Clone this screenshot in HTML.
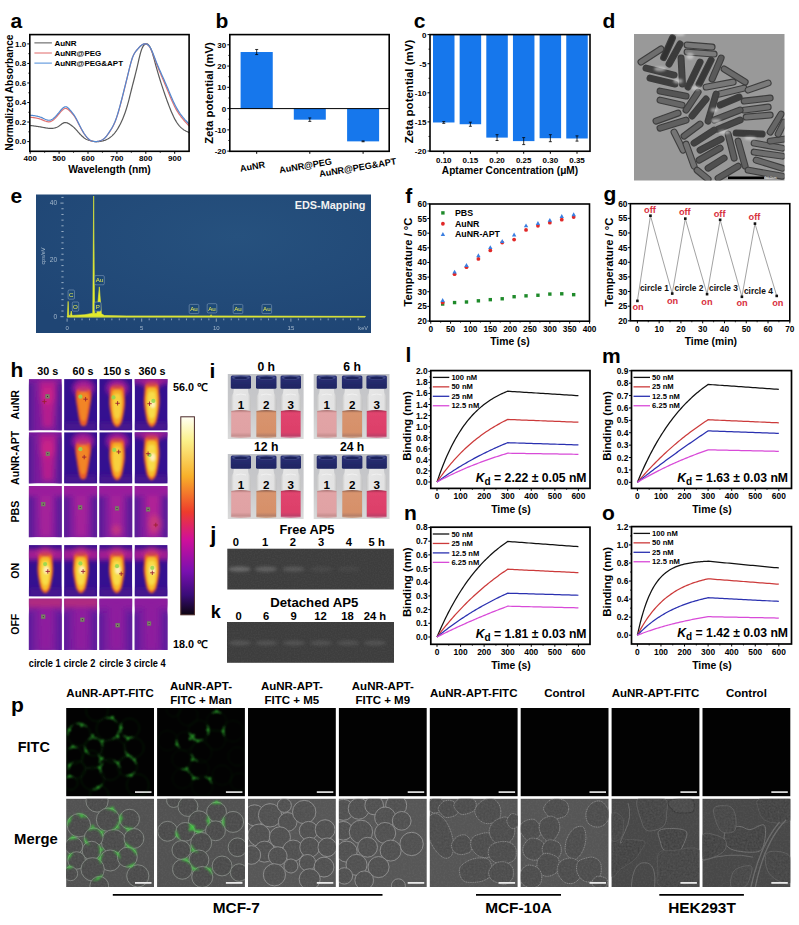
<!DOCTYPE html>
<html><head><meta charset="utf-8"><style>html,body{margin:0;padding:0;background:#fff;} svg{display:block;}</style></head>
<body><svg width="799" height="925" viewBox="0 0 799 925" font-family="&apos;Liberation Sans&apos;, sans-serif">
<rect width="799" height="925" fill="#fff"/>
<text x="10.50" y="28.20" font-size="21" font-weight="bold" text-anchor="start" fill="#000" >a</text>
<path d="M30.20,125.48 L30.78,125.55 L31.36,125.62 L31.93,125.69 L32.51,125.77 L33.09,125.84 L33.67,125.91 L34.25,125.99 L34.82,126.06 L35.40,126.14 L35.98,126.22 L36.56,126.30 L37.14,126.38 L37.71,126.47 L38.29,126.56 L38.87,126.65 L39.45,126.74 L40.03,126.83 L40.60,126.93 L41.18,127.04 L41.76,127.14 L42.34,127.25 L42.92,127.36 L43.49,127.47 L44.07,127.58 L44.65,127.69 L45.23,127.80 L45.81,127.90 L46.38,128.00 L46.96,128.09 L47.54,128.17 L48.12,128.24 L48.70,128.30 L49.27,128.35 L49.85,128.39 L50.43,128.41 L51.01,128.42 L51.59,128.40 L52.16,128.37 L52.74,128.32 L53.32,128.24 L53.90,128.15 L54.48,128.02 L55.05,127.87 L55.63,127.70 L56.21,127.49 L56.79,127.25 L57.37,126.98 L57.94,126.68 L58.52,126.34 L59.10,125.97 L59.68,125.56 L60.26,125.12 L60.83,124.68 L61.41,124.24 L61.99,123.82 L62.57,123.44 L63.15,123.11 L63.72,122.84 L64.30,122.65 L64.88,122.54 L65.46,122.53 L66.04,122.59 L66.61,122.72 L67.19,122.91 L67.77,123.15 L68.35,123.44 L68.93,123.77 L69.50,124.12 L70.08,124.50 L70.66,124.90 L71.24,125.31 L71.82,125.73 L72.39,126.18 L72.97,126.65 L73.55,127.15 L74.13,127.67 L74.71,128.22 L75.28,128.80 L75.86,129.41 L76.44,130.05 L77.02,130.70 L77.60,131.36 L78.17,132.02 L78.75,132.69 L79.33,133.34 L79.91,133.98 L80.49,134.60 L81.06,135.19 L81.64,135.77 L82.22,136.31 L82.80,136.83 L83.38,137.31 L83.95,137.77 L84.53,138.19 L85.11,138.57 L85.69,138.92 L86.27,139.23 L86.84,139.51 L87.42,139.76 L88.00,139.99 L88.58,140.19 L89.16,140.38 L89.73,140.54 L90.31,140.70 L90.89,140.84 L91.47,140.97 L92.05,141.09 L92.62,141.20 L93.20,141.29 L93.78,141.38 L94.36,141.45 L94.94,141.50 L95.51,141.55 L96.09,141.58 L96.67,141.60 L97.25,141.61 L97.83,141.60 L98.40,141.58 L98.98,141.55 L99.56,141.50 L100.14,141.43 L100.72,141.35 L101.29,141.26 L101.87,141.14 L102.45,141.01 L103.03,140.87 L103.61,140.70 L104.18,140.52 L104.76,140.32 L105.34,140.09 L105.92,139.85 L106.50,139.58 L107.07,139.30 L107.65,138.98 L108.23,138.65 L108.81,138.29 L109.39,137.91 L109.96,137.50 L110.54,137.06 L111.12,136.60 L111.70,136.10 L112.28,135.57 L112.85,135.01 L113.43,134.42 L114.01,133.78 L114.59,133.11 L115.17,132.39 L115.74,131.63 L116.32,130.83 L116.90,129.98 L117.48,129.09 L118.06,128.15 L118.63,127.16 L119.21,126.13 L119.79,125.05 L120.37,123.92 L120.95,122.74 L121.52,121.52 L122.10,120.24 L122.68,118.92 L123.26,117.53 L123.84,116.08 L124.41,114.56 L124.99,112.97 L125.57,111.30 L126.15,109.54 L126.73,107.69 L127.30,105.74 L127.88,103.69 L128.46,101.54 L129.04,99.30 L129.62,97.01 L130.19,94.68 L130.77,92.34 L131.35,90.01 L131.93,87.73 L132.51,85.47 L133.08,83.23 L133.66,80.99 L134.24,78.75 L134.82,76.49 L135.40,74.21 L135.97,71.88 L136.55,69.50 L137.13,67.05 L137.71,64.55 L138.29,62.01 L138.86,59.50 L139.44,57.07 L140.02,54.76 L140.60,52.64 L141.18,50.74 L141.75,49.11 L142.33,47.74 L142.91,46.61 L143.49,45.71 L144.07,45.01 L144.64,44.49 L145.22,44.15 L145.80,43.95 L146.38,43.88 L146.96,43.94 L147.53,44.15 L148.11,44.51 L148.69,45.04 L149.27,45.76 L149.85,46.68 L150.42,47.81 L151.00,49.16 L151.58,50.71 L152.16,52.43 L152.74,54.29 L153.31,56.27 L153.89,58.33 L154.47,60.44 L155.05,62.58 L155.63,64.72 L156.20,66.83 L156.78,68.90 L157.36,70.93 L157.94,72.91 L158.52,74.86 L159.09,76.78 L159.67,78.66 L160.25,80.51 L160.83,82.34 L161.41,84.14 L161.98,85.91 L162.56,87.66 L163.14,89.40 L163.72,91.11 L164.30,92.80 L164.87,94.47 L165.45,96.12 L166.03,97.75 L166.61,99.36 L167.19,100.95 L167.76,102.52 L168.34,104.07 L168.92,105.60 L169.50,107.10 L170.08,108.58 L170.65,110.02 L171.23,111.42 L171.81,112.78 L172.39,114.10 L172.97,115.37 L173.54,116.59 L174.12,117.75 L174.70,118.86 L175.28,119.91 L175.86,120.90 L176.43,121.85 L177.01,122.74 L177.59,123.58 L178.17,124.37 L178.75,125.11 L179.32,125.81 L179.90,126.46 L180.48,127.06 L181.06,127.62 L181.64,128.14 L182.21,128.63 L182.79,129.08 L183.37,129.50 L183.95,129.89 L184.53,130.26 L185.10,130.60 L185.68,130.93 L186.26,131.23 L186.84,131.52 L187.42,131.81 L187.99,132.08 L188.57,132.35 L189.15,132.61" stroke="#5a5a5a" stroke-width="1.2" fill="none" />
<path d="M30.20,117.17 L30.78,117.25 L31.36,117.32 L31.93,117.39 L32.51,117.47 L33.09,117.54 L33.67,117.63 L34.25,117.71 L34.82,117.81 L35.40,117.91 L35.98,118.01 L36.56,118.12 L37.14,118.25 L37.71,118.38 L38.29,118.52 L38.87,118.67 L39.45,118.83 L40.03,119.01 L40.60,119.20 L41.18,119.40 L41.76,119.62 L42.34,119.85 L42.92,120.09 L43.49,120.34 L44.07,120.58 L44.65,120.82 L45.23,121.04 L45.81,121.25 L46.38,121.43 L46.96,121.58 L47.54,121.70 L48.12,121.78 L48.70,121.81 L49.27,121.79 L49.85,121.71 L50.43,121.57 L51.01,121.36 L51.59,121.09 L52.16,120.76 L52.74,120.37 L53.32,119.94 L53.90,119.45 L54.48,118.93 L55.05,118.36 L55.63,117.77 L56.21,117.14 L56.79,116.50 L57.37,115.83 L57.94,115.15 L58.52,114.45 L59.10,113.76 L59.68,113.06 L60.26,112.37 L60.83,111.70 L61.41,111.06 L61.99,110.47 L62.57,109.93 L63.15,109.45 L63.72,109.05 L64.30,108.74 L64.88,108.52 L65.46,108.41 L66.04,108.43 L66.61,108.57 L67.19,108.83 L67.77,109.21 L68.35,109.66 L68.93,110.18 L69.50,110.73 L70.08,111.31 L70.66,111.90 L71.24,112.49 L71.82,113.09 L72.39,113.73 L72.97,114.40 L73.55,115.12 L74.13,115.89 L74.71,116.73 L75.28,117.64 L75.86,118.62 L76.44,119.66 L77.02,120.75 L77.60,121.88 L78.17,123.02 L78.75,124.17 L79.33,125.32 L79.91,126.46 L80.49,127.56 L81.06,128.64 L81.64,129.68 L82.22,130.69 L82.80,131.66 L83.38,132.59 L83.95,133.49 L84.53,134.34 L85.11,135.15 L85.69,135.92 L86.27,136.64 L86.84,137.32 L87.42,137.94 L88.00,138.52 L88.58,139.05 L89.16,139.52 L89.73,139.94 L90.31,140.31 L90.89,140.63 L91.47,140.89 L92.05,141.11 L92.62,141.28 L93.20,141.41 L93.78,141.51 L94.36,141.57 L94.94,141.60 L95.51,141.60 L96.09,141.58 L96.67,141.53 L97.25,141.45 L97.83,141.35 L98.40,141.23 L98.98,141.08 L99.56,140.91 L100.14,140.72 L100.72,140.50 L101.29,140.26 L101.87,139.98 L102.45,139.66 L103.03,139.31 L103.61,138.91 L104.18,138.46 L104.76,137.96 L105.34,137.41 L105.92,136.79 L106.50,136.13 L107.07,135.42 L107.65,134.67 L108.23,133.88 L108.81,133.06 L109.39,132.21 L109.96,131.34 L110.54,130.45 L111.12,129.54 L111.70,128.59 L112.28,127.59 L112.85,126.54 L113.43,125.42 L114.01,124.23 L114.59,122.95 L115.17,121.58 L115.74,120.11 L116.32,118.52 L116.90,116.83 L117.48,115.04 L118.06,113.17 L118.63,111.21 L119.21,109.19 L119.79,107.09 L120.37,104.95 L120.95,102.75 L121.52,100.52 L122.10,98.26 L122.68,95.97 L123.26,93.66 L123.84,91.33 L124.41,88.99 L124.99,86.63 L125.57,84.26 L126.15,81.88 L126.73,79.49 L127.30,77.10 L127.88,74.72 L128.46,72.33 L129.04,69.96 L129.62,67.62 L130.19,65.35 L130.77,63.18 L131.35,61.14 L131.93,59.26 L132.51,57.58 L133.08,56.11 L133.66,54.84 L134.24,53.74 L134.82,52.78 L135.40,51.93 L135.97,51.16 L136.55,50.45 L137.13,49.76 L137.71,49.08 L138.29,48.40 L138.86,47.75 L139.44,47.11 L140.02,46.52 L140.60,45.96 L141.18,45.46 L141.75,45.03 L142.33,44.66 L142.91,44.35 L143.49,44.12 L144.07,43.95 L144.64,43.86 L145.22,43.85 L145.80,43.93 L146.38,44.09 L146.96,44.35 L147.53,44.71 L148.11,45.19 L148.69,45.77 L149.27,46.48 L149.85,47.32 L150.42,48.30 L151.00,49.41 L151.58,50.64 L152.16,51.98 L152.74,53.40 L153.31,54.90 L153.89,56.44 L154.47,58.02 L155.05,59.60 L155.63,61.19 L156.20,62.75 L156.78,64.28 L157.36,65.79 L157.94,67.27 L158.52,68.72 L159.09,70.16 L159.67,71.58 L160.25,72.98 L160.83,74.37 L161.41,75.75 L161.98,77.12 L162.56,78.48 L163.14,79.84 L163.72,81.20 L164.30,82.56 L164.87,83.92 L165.45,85.28 L166.03,86.65 L166.61,88.02 L167.19,89.40 L167.76,90.80 L168.34,92.20 L168.92,93.60 L169.50,95.01 L170.08,96.41 L170.65,97.80 L171.23,99.17 L171.81,100.52 L172.39,101.84 L172.97,103.12 L173.54,104.36 L174.12,105.55 L174.70,106.70 L175.28,107.80 L175.86,108.86 L176.43,109.87 L177.01,110.85 L177.59,111.78 L178.17,112.69 L178.75,113.56 L179.32,114.40 L179.90,115.22 L180.48,116.01 L181.06,116.78 L181.64,117.53 L182.21,118.25 L182.79,118.96 L183.37,119.65 L183.95,120.33 L184.53,120.99 L185.10,121.64 L185.68,122.28 L186.26,122.91 L186.84,123.53 L187.42,124.14 L187.99,124.75 L188.57,125.36 L189.15,125.97" stroke="#e07070" stroke-width="1.2" fill="none" />
<path d="M30.20,115.22 L30.78,115.28 L31.36,115.34 L31.93,115.40 L32.51,115.47 L33.09,115.54 L33.67,115.61 L34.25,115.69 L34.82,115.77 L35.40,115.87 L35.98,115.97 L36.56,116.08 L37.14,116.20 L37.71,116.33 L38.29,116.48 L38.87,116.64 L39.45,116.81 L40.03,117.00 L40.60,117.20 L41.18,117.42 L41.76,117.66 L42.34,117.92 L42.92,118.19 L43.49,118.47 L44.07,118.74 L44.65,119.02 L45.23,119.28 L45.81,119.52 L46.38,119.74 L46.96,119.93 L47.54,120.08 L48.12,120.20 L48.70,120.26 L49.27,120.27 L49.85,120.22 L50.43,120.11 L51.01,119.92 L51.59,119.67 L52.16,119.35 L52.74,118.97 L53.32,118.54 L53.90,118.07 L54.48,117.54 L55.05,116.98 L55.63,116.38 L56.21,115.75 L56.79,115.09 L57.37,114.41 L57.94,113.72 L58.52,113.01 L59.10,112.29 L59.68,111.57 L60.26,110.86 L60.83,110.17 L61.41,109.50 L61.99,108.89 L62.57,108.32 L63.15,107.83 L63.72,107.41 L64.30,107.08 L64.88,106.86 L65.46,106.75 L66.04,106.76 L66.61,106.92 L67.19,107.21 L67.77,107.63 L68.35,108.15 L68.93,108.74 L69.50,109.38 L70.08,110.04 L70.66,110.71 L71.24,111.38 L71.82,112.07 L72.39,112.78 L72.97,113.52 L73.55,114.31 L74.13,115.14 L74.71,116.02 L75.28,116.98 L75.86,117.99 L76.44,119.06 L77.02,120.17 L77.60,121.31 L78.17,122.47 L78.75,123.64 L79.33,124.81 L79.91,125.97 L80.49,127.10 L81.06,128.21 L81.64,129.28 L82.22,130.33 L82.80,131.33 L83.38,132.30 L83.95,133.23 L84.53,134.12 L85.11,134.96 L85.69,135.75 L86.27,136.48 L86.84,137.17 L87.42,137.81 L88.00,138.39 L88.58,138.93 L89.16,139.41 L89.73,139.84 L90.31,140.22 L90.89,140.54 L91.47,140.82 L92.05,141.05 L92.62,141.24 L93.20,141.38 L93.78,141.49 L94.36,141.56 L94.94,141.60 L95.51,141.61 L96.09,141.58 L96.67,141.53 L97.25,141.46 L97.83,141.35 L98.40,141.23 L98.98,141.08 L99.56,140.91 L100.14,140.72 L100.72,140.51 L101.29,140.27 L101.87,140.00 L102.45,139.69 L103.03,139.34 L103.61,138.94 L104.18,138.49 L104.76,137.97 L105.34,137.40 L105.92,136.75 L106.50,136.06 L107.07,135.31 L107.65,134.52 L108.23,133.69 L108.81,132.83 L109.39,131.95 L109.96,131.05 L110.54,130.14 L111.12,129.21 L111.70,128.24 L112.28,127.24 L112.85,126.18 L113.43,125.06 L114.01,123.86 L114.59,122.58 L115.17,121.20 L115.74,119.72 L116.32,118.12 L116.90,116.41 L117.48,114.60 L118.06,112.71 L118.63,110.73 L119.21,108.69 L119.79,106.59 L120.37,104.44 L120.95,102.24 L121.52,100.02 L122.10,97.78 L122.68,95.53 L123.26,93.26 L123.84,90.97 L124.41,88.68 L124.99,86.37 L125.57,84.05 L126.15,81.72 L126.73,79.39 L127.30,77.04 L127.88,74.69 L128.46,72.33 L129.04,69.97 L129.62,67.64 L130.19,65.37 L130.77,63.20 L131.35,61.15 L131.93,59.27 L132.51,57.58 L133.08,56.11 L133.66,54.83 L134.24,53.73 L134.82,52.77 L135.40,51.92 L135.97,51.16 L136.55,50.45 L137.13,49.76 L137.71,49.08 L138.29,48.40 L138.86,47.74 L139.44,47.11 L140.02,46.51 L140.60,45.96 L141.18,45.46 L141.75,45.03 L142.33,44.66 L142.91,44.36 L143.49,44.13 L144.07,43.96 L144.64,43.86 L145.22,43.83 L145.80,43.88 L146.38,44.01 L146.96,44.23 L147.53,44.56 L148.11,44.99 L148.69,45.53 L149.27,46.19 L149.85,46.98 L150.42,47.91 L151.00,48.97 L151.58,50.15 L152.16,51.43 L152.74,52.80 L153.31,54.24 L153.89,55.72 L154.47,57.23 L155.05,58.75 L155.63,60.25 L156.20,61.73 L156.78,63.18 L157.36,64.59 L157.94,65.97 L158.52,67.33 L159.09,68.66 L159.67,69.98 L160.25,71.29 L160.83,72.59 L161.41,73.88 L161.98,75.16 L162.56,76.45 L163.14,77.75 L163.72,79.04 L164.30,80.35 L164.87,81.65 L165.45,82.97 L166.03,84.30 L166.61,85.64 L167.19,86.99 L167.76,88.35 L168.34,89.73 L168.92,91.12 L169.50,92.51 L170.08,93.90 L170.65,95.28 L171.23,96.65 L171.81,98.01 L172.39,99.33 L172.97,100.64 L173.54,101.90 L174.12,103.13 L174.70,104.31 L175.28,105.46 L175.86,106.56 L176.43,107.63 L177.01,108.66 L177.59,109.65 L178.17,110.60 L178.75,111.52 L179.32,112.41 L179.90,113.27 L180.48,114.09 L181.06,114.89 L181.64,115.65 L182.21,116.39 L182.79,117.11 L183.37,117.81 L183.95,118.48 L184.53,119.14 L185.10,119.79 L185.68,120.42 L186.26,121.03 L186.84,121.64 L187.42,122.24 L187.99,122.84 L188.57,123.43 L189.15,124.01" stroke="#5088d0" stroke-width="1.2" fill="none" />
<rect x="29.80" y="34.60" width="159.30" height="116.70" fill="none" stroke="#000" stroke-width="1.6"/>
<line x1="30.20" y1="151.30" x2="30.20" y2="153.80" stroke="#000" stroke-width="1" />
<text x="30.20" y="161.00" font-size="8.0" font-weight="bold" text-anchor="middle" fill="#000" >400</text>
<line x1="59.10" y1="151.30" x2="59.10" y2="153.80" stroke="#000" stroke-width="1" />
<text x="59.10" y="161.00" font-size="8.0" font-weight="bold" text-anchor="middle" fill="#000" >500</text>
<line x1="88.00" y1="151.30" x2="88.00" y2="153.80" stroke="#000" stroke-width="1" />
<text x="88.00" y="161.00" font-size="8.0" font-weight="bold" text-anchor="middle" fill="#000" >600</text>
<line x1="116.90" y1="151.30" x2="116.90" y2="153.80" stroke="#000" stroke-width="1" />
<text x="116.90" y="161.00" font-size="8.0" font-weight="bold" text-anchor="middle" fill="#000" >700</text>
<line x1="145.80" y1="151.30" x2="145.80" y2="153.80" stroke="#000" stroke-width="1" />
<text x="145.80" y="161.00" font-size="8.0" font-weight="bold" text-anchor="middle" fill="#000" >800</text>
<line x1="174.70" y1="151.30" x2="174.70" y2="153.80" stroke="#000" stroke-width="1" />
<text x="174.70" y="161.00" font-size="8.0" font-weight="bold" text-anchor="middle" fill="#000" >900</text>
<line x1="44.65" y1="151.30" x2="44.65" y2="152.80" stroke="#000" stroke-width="0.8" />
<line x1="73.55" y1="151.30" x2="73.55" y2="152.80" stroke="#000" stroke-width="0.8" />
<line x1="102.45" y1="151.30" x2="102.45" y2="152.80" stroke="#000" stroke-width="0.8" />
<line x1="131.35" y1="151.30" x2="131.35" y2="152.80" stroke="#000" stroke-width="0.8" />
<line x1="160.25" y1="151.30" x2="160.25" y2="152.80" stroke="#000" stroke-width="0.8" />
<line x1="27.30" y1="141.60" x2="29.80" y2="141.60" stroke="#000" stroke-width="1" />
<text x="26.20" y="144.48" font-size="8.0" font-weight="bold" text-anchor="end" fill="#000" >0.0</text>
<line x1="27.30" y1="122.06" x2="29.80" y2="122.06" stroke="#000" stroke-width="1" />
<text x="26.20" y="124.94" font-size="8.0" font-weight="bold" text-anchor="end" fill="#000" >0.2</text>
<line x1="27.30" y1="102.52" x2="29.80" y2="102.52" stroke="#000" stroke-width="1" />
<text x="26.20" y="105.40" font-size="8.0" font-weight="bold" text-anchor="end" fill="#000" >0.4</text>
<line x1="27.30" y1="82.98" x2="29.80" y2="82.98" stroke="#000" stroke-width="1" />
<text x="26.20" y="85.86" font-size="8.0" font-weight="bold" text-anchor="end" fill="#000" >0.6</text>
<line x1="27.30" y1="63.44" x2="29.80" y2="63.44" stroke="#000" stroke-width="1" />
<text x="26.20" y="66.32" font-size="8.0" font-weight="bold" text-anchor="end" fill="#000" >0.8</text>
<line x1="27.30" y1="43.90" x2="29.80" y2="43.90" stroke="#000" stroke-width="1" />
<text x="26.20" y="46.78" font-size="8.0" font-weight="bold" text-anchor="end" fill="#000" >1.0</text>
<line x1="28.30" y1="131.83" x2="29.80" y2="131.83" stroke="#000" stroke-width="0.8" />
<line x1="28.30" y1="112.29" x2="29.80" y2="112.29" stroke="#000" stroke-width="0.8" />
<line x1="28.30" y1="92.75" x2="29.80" y2="92.75" stroke="#000" stroke-width="0.8" />
<line x1="28.30" y1="73.21" x2="29.80" y2="73.21" stroke="#000" stroke-width="0.8" />
<line x1="28.30" y1="53.67" x2="29.80" y2="53.67" stroke="#000" stroke-width="0.8" />
<text x="109.50" y="172.60" font-size="10.3" font-weight="bold" text-anchor="middle" fill="#000" >Wavelength (nm)</text>
<text x="13.00" y="92.60" font-size="10.2" font-weight="bold" text-anchor="middle" transform="rotate(-90 13.00 92.60)">Normalized Absorbance</text>
<line x1="34.40" y1="42.90" x2="51.90" y2="42.90" stroke="#555" stroke-width="1" />
<text x="54.40" y="45.70" font-size="8.0" font-weight="bold" text-anchor="start" fill="#000" >AuNR</text>
<line x1="34.40" y1="53.00" x2="51.90" y2="53.00" stroke="#e06868" stroke-width="1" />
<text x="54.40" y="55.80" font-size="8.0" font-weight="bold" text-anchor="start" fill="#000" >AuNR@PEG</text>
<line x1="34.40" y1="63.10" x2="51.90" y2="63.10" stroke="#4a8ad8" stroke-width="1" />
<text x="54.40" y="65.90" font-size="8.0" font-weight="bold" text-anchor="start" fill="#000" >AuNR@PEG&amp;APT</text>
<text x="215.50" y="28.20" font-size="21" font-weight="bold" text-anchor="start" fill="#000" >b</text>
<rect x="240.60" y="52.02" width="32.15" height="56.58" fill="#1677ec" />
<line x1="256.68" y1="54.57" x2="256.68" y2="49.47" stroke="#000" stroke-width="0.8" />
<line x1="255.18" y1="49.47" x2="258.18" y2="49.47" stroke="#000" stroke-width="0.8" />
<line x1="255.18" y1="54.57" x2="258.18" y2="54.57" stroke="#000" stroke-width="0.8" />
<rect x="293.80" y="108.60" width="32.00" height="11.06" fill="#1677ec" />
<line x1="309.80" y1="121.36" x2="309.80" y2="117.96" stroke="#000" stroke-width="0.8" />
<line x1="308.30" y1="117.96" x2="311.30" y2="117.96" stroke="#000" stroke-width="0.8" />
<line x1="308.30" y1="121.36" x2="311.30" y2="121.36" stroke="#000" stroke-width="0.8" />
<rect x="347.10" y="108.60" width="32.00" height="32.76" fill="#1677ec" />
<line x1="363.10" y1="141.78" x2="363.10" y2="140.93" stroke="#000" stroke-width="0.8" />
<line x1="361.60" y1="140.93" x2="364.60" y2="140.93" stroke="#000" stroke-width="0.8" />
<line x1="361.60" y1="141.78" x2="364.60" y2="141.78" stroke="#000" stroke-width="0.8" />
<line x1="229.80" y1="108.60" x2="389.20" y2="108.60" stroke="#000" stroke-width="1" />
<rect x="229.80" y="34.60" width="159.40" height="116.70" fill="none" stroke="#000" stroke-width="1.6"/>
<line x1="227.30" y1="44.79" x2="229.80" y2="44.79" stroke="#000" stroke-width="1" />
<text x="226.20" y="47.69" font-size="8.0" font-weight="bold" text-anchor="end" fill="#000" >30</text>
<line x1="227.30" y1="66.06" x2="229.80" y2="66.06" stroke="#000" stroke-width="1" />
<text x="226.20" y="68.96" font-size="8.0" font-weight="bold" text-anchor="end" fill="#000" >20</text>
<line x1="227.30" y1="87.33" x2="229.80" y2="87.33" stroke="#000" stroke-width="1" />
<text x="226.20" y="90.23" font-size="8.0" font-weight="bold" text-anchor="end" fill="#000" >10</text>
<line x1="227.30" y1="108.60" x2="229.80" y2="108.60" stroke="#000" stroke-width="1" />
<text x="226.20" y="111.50" font-size="8.0" font-weight="bold" text-anchor="end" fill="#000" >0</text>
<line x1="227.30" y1="129.87" x2="229.80" y2="129.87" stroke="#000" stroke-width="1" />
<text x="226.20" y="132.77" font-size="8.0" font-weight="bold" text-anchor="end" fill="#000" >-10</text>
<line x1="227.30" y1="151.14" x2="229.80" y2="151.14" stroke="#000" stroke-width="1" />
<text x="226.20" y="154.04" font-size="8.0" font-weight="bold" text-anchor="end" fill="#000" >-20</text>
<line x1="228.30" y1="55.42" x2="229.80" y2="55.42" stroke="#000" stroke-width="0.8" />
<line x1="228.30" y1="76.69" x2="229.80" y2="76.69" stroke="#000" stroke-width="0.8" />
<line x1="228.30" y1="97.97" x2="229.80" y2="97.97" stroke="#000" stroke-width="0.8" />
<line x1="228.30" y1="119.23" x2="229.80" y2="119.23" stroke="#000" stroke-width="0.8" />
<line x1="228.30" y1="140.50" x2="229.80" y2="140.50" stroke="#000" stroke-width="0.8" />
<line x1="256.70" y1="151.30" x2="256.70" y2="153.80" stroke="#000" stroke-width="1" />
<line x1="309.80" y1="151.30" x2="309.80" y2="153.80" stroke="#000" stroke-width="1" />
<line x1="363.10" y1="151.30" x2="363.10" y2="153.80" stroke="#000" stroke-width="1" />
<text x="212.50" y="93.00" font-size="11.3" font-weight="bold" text-anchor="middle" transform="rotate(-90 212.50 93.00)">Zeta potential (mV)</text>
<text x="253" y="169.6" font-size="9.1" font-weight="bold" text-anchor="middle" transform="rotate(-9.5 253 169.6)">AuNR</text>
<text x="306" y="168.8" font-size="9.1" font-weight="bold" text-anchor="middle" transform="rotate(-9.5 306 168.8)">AuNR@PEG</text>
<text x="358.2" y="170.6" font-size="9.1" font-weight="bold" text-anchor="middle" transform="rotate(-9.5 358.2 170.6)">AuNR@PEG&amp;APT</text>
<text x="413.80" y="28.20" font-size="21" font-weight="bold" text-anchor="start" fill="#000" >c</text>
<rect x="433.00" y="34.60" width="21.50" height="87.88" fill="#1677ec" />
<line x1="443.75" y1="123.36" x2="443.75" y2="121.61" stroke="#000" stroke-width="0.8" />
<line x1="442.25" y1="121.61" x2="445.25" y2="121.61" stroke="#000" stroke-width="0.8" />
<line x1="442.25" y1="123.36" x2="445.25" y2="123.36" stroke="#000" stroke-width="0.8" />
<rect x="459.65" y="34.60" width="21.50" height="89.63" fill="#1677ec" />
<line x1="470.40" y1="126.27" x2="470.40" y2="122.19" stroke="#000" stroke-width="0.8" />
<line x1="468.90" y1="122.19" x2="471.90" y2="122.19" stroke="#000" stroke-width="0.8" />
<line x1="468.90" y1="126.27" x2="471.90" y2="126.27" stroke="#000" stroke-width="0.8" />
<rect x="486.30" y="34.60" width="21.50" height="103.01" fill="#1677ec" />
<line x1="497.05" y1="140.52" x2="497.05" y2="134.70" stroke="#000" stroke-width="0.8" />
<line x1="495.55" y1="134.70" x2="498.55" y2="134.70" stroke="#000" stroke-width="0.8" />
<line x1="495.55" y1="140.52" x2="498.55" y2="140.52" stroke="#000" stroke-width="0.8" />
<rect x="512.95" y="34.60" width="21.50" height="106.51" fill="#1677ec" />
<line x1="523.70" y1="144.60" x2="523.70" y2="137.61" stroke="#000" stroke-width="0.8" />
<line x1="522.20" y1="137.61" x2="525.20" y2="137.61" stroke="#000" stroke-width="0.8" />
<line x1="522.20" y1="144.60" x2="525.20" y2="144.60" stroke="#000" stroke-width="0.8" />
<rect x="539.60" y="34.60" width="21.50" height="103.60" fill="#1677ec" />
<line x1="550.35" y1="141.69" x2="550.35" y2="134.70" stroke="#000" stroke-width="0.8" />
<line x1="548.85" y1="134.70" x2="551.85" y2="134.70" stroke="#000" stroke-width="0.8" />
<line x1="548.85" y1="141.69" x2="551.85" y2="141.69" stroke="#000" stroke-width="0.8" />
<rect x="566.25" y="34.60" width="21.50" height="103.89" fill="#1677ec" />
<line x1="577.00" y1="141.11" x2="577.00" y2="135.87" stroke="#000" stroke-width="0.8" />
<line x1="575.50" y1="135.87" x2="578.50" y2="135.87" stroke="#000" stroke-width="0.8" />
<line x1="575.50" y1="141.11" x2="578.50" y2="141.11" stroke="#000" stroke-width="0.8" />
<rect x="430.00" y="34.60" width="160.00" height="116.65" fill="none" stroke="#000" stroke-width="1.6"/>
<line x1="427.50" y1="34.60" x2="430.00" y2="34.60" stroke="#000" stroke-width="1" />
<text x="426.40" y="37.50" font-size="8.0" font-weight="bold" text-anchor="end" fill="#000" >0</text>
<line x1="427.50" y1="63.70" x2="430.00" y2="63.70" stroke="#000" stroke-width="1" />
<text x="426.40" y="66.60" font-size="8.0" font-weight="bold" text-anchor="end" fill="#000" >-5</text>
<line x1="427.50" y1="92.80" x2="430.00" y2="92.80" stroke="#000" stroke-width="1" />
<text x="426.40" y="95.70" font-size="8.0" font-weight="bold" text-anchor="end" fill="#000" >-10</text>
<line x1="427.50" y1="121.90" x2="430.00" y2="121.90" stroke="#000" stroke-width="1" />
<text x="426.40" y="124.80" font-size="8.0" font-weight="bold" text-anchor="end" fill="#000" >-15</text>
<line x1="427.50" y1="151.00" x2="430.00" y2="151.00" stroke="#000" stroke-width="1" />
<text x="426.40" y="153.90" font-size="8.0" font-weight="bold" text-anchor="end" fill="#000" >-20</text>
<line x1="428.50" y1="49.15" x2="430.00" y2="49.15" stroke="#000" stroke-width="0.8" />
<line x1="428.50" y1="78.25" x2="430.00" y2="78.25" stroke="#000" stroke-width="0.8" />
<line x1="428.50" y1="107.35" x2="430.00" y2="107.35" stroke="#000" stroke-width="0.8" />
<line x1="428.50" y1="136.45" x2="430.00" y2="136.45" stroke="#000" stroke-width="0.8" />
<line x1="443.75" y1="151.25" x2="443.75" y2="153.75" stroke="#000" stroke-width="1" />
<text x="443.75" y="162.60" font-size="8.0" font-weight="bold" text-anchor="middle" fill="#000" >0.10</text>
<line x1="470.40" y1="151.25" x2="470.40" y2="153.75" stroke="#000" stroke-width="1" />
<text x="470.40" y="162.60" font-size="8.0" font-weight="bold" text-anchor="middle" fill="#000" >0.15</text>
<line x1="497.05" y1="151.25" x2="497.05" y2="153.75" stroke="#000" stroke-width="1" />
<text x="497.05" y="162.60" font-size="8.0" font-weight="bold" text-anchor="middle" fill="#000" >0.20</text>
<line x1="523.70" y1="151.25" x2="523.70" y2="153.75" stroke="#000" stroke-width="1" />
<text x="523.70" y="162.60" font-size="8.0" font-weight="bold" text-anchor="middle" fill="#000" >0.25</text>
<line x1="550.35" y1="151.25" x2="550.35" y2="153.75" stroke="#000" stroke-width="1" />
<text x="550.35" y="162.60" font-size="8.0" font-weight="bold" text-anchor="middle" fill="#000" >0.30</text>
<line x1="577.00" y1="151.25" x2="577.00" y2="153.75" stroke="#000" stroke-width="1" />
<text x="577.00" y="162.60" font-size="8.0" font-weight="bold" text-anchor="middle" fill="#000" >0.35</text>
<text x="510.00" y="174.00" font-size="10.1" font-weight="bold" text-anchor="middle" fill="#000" >Aptamer Concentration (μM)</text>
<text x="413.20" y="91.50" font-size="11.5" font-weight="bold" text-anchor="middle" transform="rotate(-90 413.20 91.50)">Zeta potential (mV)</text>
<text x="602.50" y="28.20" font-size="21" font-weight="bold" text-anchor="start" fill="#000" >d</text>
<defs><clipPath id="clipd"><rect x="634" y="34" width="150.5" height="146.5"/></clipPath><linearGradient id="rodg" x1="0" y1="0" x2="1" y2="0"><stop offset="0" stop-color="#2a2a2a"/><stop offset="0.5" stop-color="#6a6a6a"/><stop offset="1" stop-color="#2a2a2a"/></linearGradient><filter id="blur03"><feGaussianBlur stdDeviation="0.55"/></filter></defs>
<rect x="634.00" y="34.00" width="150.50" height="146.50" fill="#999999" />
<g clip-path="url(#clipd)" filter="url(#blur03)">
<line x1="641.01" y1="62.04" x2="661.04" y2="49.02" stroke="#3e3e3e" stroke-width="7.0" stroke-linecap="round"/>
<line x1="641.01" y1="62.04" x2="661.04" y2="49.02" stroke="#6e6e6e" stroke-width="4.8" stroke-linecap="round"/>
<line x1="672.45" y1="38.01" x2="663.64" y2="57.63" stroke="#3e3e3e" stroke-width="7.0" stroke-linecap="round"/>
<line x1="672.45" y1="38.01" x2="663.64" y2="57.63" stroke="#333" stroke-width="4.8" stroke-linecap="round"/>
<line x1="669.05" y1="64.04" x2="680.06" y2="44.02" stroke="#3e3e3e" stroke-width="7.0" stroke-linecap="round"/>
<line x1="669.05" y1="64.04" x2="680.06" y2="44.02" stroke="#3a3a3a" stroke-width="4.8" stroke-linecap="round"/>
<line x1="681.06" y1="58.03" x2="682.46" y2="84.06" stroke="#3e3e3e" stroke-width="7.0" stroke-linecap="round"/>
<line x1="681.06" y1="58.03" x2="682.46" y2="84.06" stroke="#444" stroke-width="4.8" stroke-linecap="round"/>
<line x1="687.07" y1="45.02" x2="712.10" y2="47.02" stroke="#3e3e3e" stroke-width="7.0" stroke-linecap="round"/>
<line x1="687.07" y1="45.02" x2="712.10" y2="47.02" stroke="#787878" stroke-width="4.8" stroke-linecap="round"/>
<line x1="687.07" y1="52.03" x2="714.10" y2="54.03" stroke="#3e3e3e" stroke-width="7.0" stroke-linecap="round"/>
<line x1="687.07" y1="52.03" x2="714.10" y2="54.03" stroke="#7a7a7a" stroke-width="4.8" stroke-linecap="round"/>
<line x1="646.02" y1="68.05" x2="674.05" y2="75.05" stroke="#3e3e3e" stroke-width="7.0" stroke-linecap="round"/>
<line x1="646.02" y1="68.05" x2="674.05" y2="75.05" stroke="#404040" stroke-width="4.8" stroke-linecap="round"/>
<line x1="650.02" y1="78.06" x2="675.05" y2="84.06" stroke="#3e3e3e" stroke-width="7.0" stroke-linecap="round"/>
<line x1="650.02" y1="78.06" x2="675.05" y2="84.06" stroke="#3e3e3e" stroke-width="4.8" stroke-linecap="round"/>
<line x1="688.07" y1="87.07" x2="700.08" y2="62.04" stroke="#3e3e3e" stroke-width="7.0" stroke-linecap="round"/>
<line x1="688.07" y1="87.07" x2="700.08" y2="62.04" stroke="#3a3a3a" stroke-width="4.8" stroke-linecap="round"/>
<line x1="699.08" y1="84.06" x2="711.10" y2="60.04" stroke="#3e3e3e" stroke-width="7.0" stroke-linecap="round"/>
<line x1="699.08" y1="84.06" x2="711.10" y2="60.04" stroke="#383838" stroke-width="4.8" stroke-linecap="round"/>
<line x1="712.10" y1="79.06" x2="721.11" y2="58.03" stroke="#3e3e3e" stroke-width="7.0" stroke-linecap="round"/>
<line x1="712.10" y1="79.06" x2="721.11" y2="58.03" stroke="#5a5a5a" stroke-width="4.8" stroke-linecap="round"/>
<line x1="724.11" y1="69.05" x2="745.14" y2="82.06" stroke="#3e3e3e" stroke-width="7.0" stroke-linecap="round"/>
<line x1="724.11" y1="69.05" x2="745.14" y2="82.06" stroke="#6a6a6a" stroke-width="4.8" stroke-linecap="round"/>
<line x1="660.04" y1="91.07" x2="686.07" y2="96.08" stroke="#3e3e3e" stroke-width="7.0" stroke-linecap="round"/>
<line x1="660.04" y1="91.07" x2="686.07" y2="96.08" stroke="#555" stroke-width="4.8" stroke-linecap="round"/>
<line x1="660.04" y1="100.08" x2="682.06" y2="105.09" stroke="#3e3e3e" stroke-width="7.0" stroke-linecap="round"/>
<line x1="660.04" y1="100.08" x2="682.06" y2="105.09" stroke="#666" stroke-width="4.8" stroke-linecap="round"/>
<line x1="706.09" y1="87.07" x2="733.12" y2="82.06" stroke="#3e3e3e" stroke-width="7.0" stroke-linecap="round"/>
<line x1="706.09" y1="87.07" x2="733.12" y2="82.06" stroke="#777" stroke-width="4.8" stroke-linecap="round"/>
<line x1="719.11" y1="94.08" x2="744.14" y2="88.07" stroke="#3e3e3e" stroke-width="7.0" stroke-linecap="round"/>
<line x1="719.11" y1="94.08" x2="744.14" y2="88.07" stroke="#777" stroke-width="4.8" stroke-linecap="round"/>
<line x1="748.14" y1="90.07" x2="768.17" y2="83.06" stroke="#3e3e3e" stroke-width="7.0" stroke-linecap="round"/>
<line x1="748.14" y1="90.07" x2="768.17" y2="83.06" stroke="#7a7a7a" stroke-width="4.8" stroke-linecap="round"/>
<line x1="686.07" y1="110.10" x2="698.08" y2="92.07" stroke="#3e3e3e" stroke-width="7.0" stroke-linecap="round"/>
<line x1="686.07" y1="110.10" x2="698.08" y2="92.07" stroke="#5a5a5a" stroke-width="4.8" stroke-linecap="round"/>
<line x1="692.07" y1="116.10" x2="706.09" y2="99.08" stroke="#3e3e3e" stroke-width="7.0" stroke-linecap="round"/>
<line x1="692.07" y1="116.10" x2="706.09" y2="99.08" stroke="#404040" stroke-width="4.8" stroke-linecap="round"/>
<line x1="708.09" y1="121.11" x2="716.10" y2="94.08" stroke="#3e3e3e" stroke-width="7.0" stroke-linecap="round"/>
<line x1="708.09" y1="121.11" x2="716.10" y2="94.08" stroke="#444" stroke-width="4.8" stroke-linecap="round"/>
<line x1="720.11" y1="105.09" x2="739.13" y2="97.08" stroke="#3e3e3e" stroke-width="7.0" stroke-linecap="round"/>
<line x1="720.11" y1="105.09" x2="739.13" y2="97.08" stroke="#3c3c3c" stroke-width="4.8" stroke-linecap="round"/>
<line x1="744.14" y1="101.09" x2="770.17" y2="98.08" stroke="#3e3e3e" stroke-width="7.0" stroke-linecap="round"/>
<line x1="744.14" y1="101.09" x2="770.17" y2="98.08" stroke="#666" stroke-width="4.8" stroke-linecap="round"/>
<line x1="744.14" y1="110.10" x2="768.17" y2="107.09" stroke="#3e3e3e" stroke-width="7.0" stroke-linecap="round"/>
<line x1="744.14" y1="110.10" x2="768.17" y2="107.09" stroke="#707070" stroke-width="4.8" stroke-linecap="round"/>
<line x1="746.14" y1="117.10" x2="770.17" y2="115.10" stroke="#3e3e3e" stroke-width="7.0" stroke-linecap="round"/>
<line x1="746.14" y1="117.10" x2="770.17" y2="115.10" stroke="#707070" stroke-width="4.8" stroke-linecap="round"/>
<line x1="656.03" y1="121.11" x2="678.06" y2="113.10" stroke="#3e3e3e" stroke-width="7.0" stroke-linecap="round"/>
<line x1="656.03" y1="121.11" x2="678.06" y2="113.10" stroke="#666" stroke-width="4.8" stroke-linecap="round"/>
<line x1="660.04" y1="128.12" x2="686.07" y2="120.11" stroke="#3e3e3e" stroke-width="7.0" stroke-linecap="round"/>
<line x1="660.04" y1="128.12" x2="686.07" y2="120.11" stroke="#5e5e5e" stroke-width="4.8" stroke-linecap="round"/>
<line x1="714.10" y1="120.11" x2="740.13" y2="110.10" stroke="#3e3e3e" stroke-width="7.0" stroke-linecap="round"/>
<line x1="714.10" y1="120.11" x2="740.13" y2="110.10" stroke="#5a5a5a" stroke-width="4.8" stroke-linecap="round"/>
<line x1="718.11" y1="129.12" x2="740.13" y2="120.11" stroke="#3e3e3e" stroke-width="7.0" stroke-linecap="round"/>
<line x1="718.11" y1="129.12" x2="740.13" y2="120.11" stroke="#474747" stroke-width="4.8" stroke-linecap="round"/>
<line x1="674.05" y1="132.12" x2="683.06" y2="150.14" stroke="#3e3e3e" stroke-width="7.0" stroke-linecap="round"/>
<line x1="674.05" y1="132.12" x2="683.06" y2="150.14" stroke="#747474" stroke-width="4.8" stroke-linecap="round"/>
<line x1="684.06" y1="136.13" x2="700.08" y2="124.11" stroke="#3e3e3e" stroke-width="7.0" stroke-linecap="round"/>
<line x1="684.06" y1="136.13" x2="700.08" y2="124.11" stroke="#606060" stroke-width="4.8" stroke-linecap="round"/>
<line x1="694.08" y1="143.14" x2="714.10" y2="130.12" stroke="#3e3e3e" stroke-width="7.0" stroke-linecap="round"/>
<line x1="694.08" y1="143.14" x2="714.10" y2="130.12" stroke="#434343" stroke-width="4.8" stroke-linecap="round"/>
<line x1="700.08" y1="150.14" x2="721.11" y2="139.13" stroke="#3e3e3e" stroke-width="7.0" stroke-linecap="round"/>
<line x1="700.08" y1="150.14" x2="721.11" y2="139.13" stroke="#454545" stroke-width="4.8" stroke-linecap="round"/>
<line x1="736.13" y1="133.12" x2="762.16" y2="134.12" stroke="#3e3e3e" stroke-width="7.0" stroke-linecap="round"/>
<line x1="736.13" y1="133.12" x2="762.16" y2="134.12" stroke="#3a3a3a" stroke-width="4.8" stroke-linecap="round"/>
<line x1="770.17" y1="132.12" x2="781.18" y2="114.10" stroke="#3e3e3e" stroke-width="7.0" stroke-linecap="round"/>
<line x1="770.17" y1="132.12" x2="781.18" y2="114.10" stroke="#666" stroke-width="4.8" stroke-linecap="round"/>
<line x1="728.12" y1="134.12" x2="734.12" y2="158.15" stroke="#3e3e3e" stroke-width="7.0" stroke-linecap="round"/>
<line x1="728.12" y1="134.12" x2="734.12" y2="158.15" stroke="#5e5e5e" stroke-width="4.8" stroke-linecap="round"/>
<line x1="738.13" y1="141.13" x2="745.14" y2="166.16" stroke="#3e3e3e" stroke-width="7.0" stroke-linecap="round"/>
<line x1="738.13" y1="141.13" x2="745.14" y2="166.16" stroke="#606060" stroke-width="4.8" stroke-linecap="round"/>
<line x1="754.15" y1="143.14" x2="782.18" y2="148.14" stroke="#3e3e3e" stroke-width="7.0" stroke-linecap="round"/>
<line x1="754.15" y1="143.14" x2="782.18" y2="148.14" stroke="#707070" stroke-width="4.8" stroke-linecap="round"/>
<line x1="754.15" y1="152.15" x2="782.18" y2="156.15" stroke="#3e3e3e" stroke-width="7.0" stroke-linecap="round"/>
<line x1="754.15" y1="152.15" x2="782.18" y2="156.15" stroke="#6e6e6e" stroke-width="4.8" stroke-linecap="round"/>
<line x1="756.15" y1="160.16" x2="782.18" y2="168.17" stroke="#3e3e3e" stroke-width="7.0" stroke-linecap="round"/>
<line x1="756.15" y1="160.16" x2="782.18" y2="168.17" stroke="#6a6a6a" stroke-width="4.8" stroke-linecap="round"/>
<line x1="686.07" y1="144.14" x2="694.08" y2="166.16" stroke="#3e3e3e" stroke-width="7.0" stroke-linecap="round"/>
<line x1="686.07" y1="144.14" x2="694.08" y2="166.16" stroke="#727272" stroke-width="4.8" stroke-linecap="round"/>
<line x1="699.08" y1="160.16" x2="720.11" y2="148.14" stroke="#3e3e3e" stroke-width="7.0" stroke-linecap="round"/>
<line x1="699.08" y1="160.16" x2="720.11" y2="148.14" stroke="#555" stroke-width="4.8" stroke-linecap="round"/>
<line x1="708.09" y1="168.17" x2="724.11" y2="158.15" stroke="#3e3e3e" stroke-width="7.0" stroke-linecap="round"/>
<line x1="708.09" y1="168.17" x2="724.11" y2="158.15" stroke="#505050" stroke-width="4.8" stroke-linecap="round"/>
<line x1="718.11" y1="178.18" x2="738.13" y2="166.16" stroke="#3e3e3e" stroke-width="7.0" stroke-linecap="round"/>
<line x1="718.11" y1="178.18" x2="738.13" y2="166.16" stroke="#5a5a5a" stroke-width="4.8" stroke-linecap="round"/>
<line x1="748.14" y1="170.17" x2="782.18" y2="176.18" stroke="#3e3e3e" stroke-width="7.0" stroke-linecap="round"/>
<line x1="748.14" y1="170.17" x2="782.18" y2="176.18" stroke="#6a6a6a" stroke-width="4.8" stroke-linecap="round"/>
<line x1="770.17" y1="141.13" x2="784.19" y2="139.13" stroke="#3e3e3e" stroke-width="7.0" stroke-linecap="round"/>
<line x1="770.17" y1="141.13" x2="784.19" y2="139.13" stroke="#666" stroke-width="4.8" stroke-linecap="round"/>
<line x1="778.18" y1="134.12" x2="784.19" y2="122.11" stroke="#3e3e3e" stroke-width="7.0" stroke-linecap="round"/>
<line x1="778.18" y1="134.12" x2="784.19" y2="122.11" stroke="#6a6a6a" stroke-width="4.8" stroke-linecap="round"/>
<line x1="697.08" y1="170.17" x2="708.09" y2="179.18" stroke="#3e3e3e" stroke-width="7.0" stroke-linecap="round"/>
<line x1="697.08" y1="170.17" x2="708.09" y2="179.18" stroke="#6a6a6a" stroke-width="4.8" stroke-linecap="round"/>
<g filter="url(#tblur)">
<ellipse cx="660.04" cy="69.05" rx="6.01" ry="2.40" fill="#e8e8e8" opacity="0.55"/>
<ellipse cx="678.06" cy="81.06" rx="4.81" ry="2.40" fill="#e8e8e8" opacity="0.55"/>
<ellipse cx="690.07" cy="56.03" rx="3.60" ry="3.20" fill="#e8e8e8" opacity="0.55"/>
<ellipse cx="696.08" cy="88.07" rx="4.81" ry="2.00" fill="#e8e8e8" opacity="0.55"/>
<ellipse cx="716.10" cy="121.11" rx="4.81" ry="2.00" fill="#e8e8e8" opacity="0.55"/>
<ellipse cx="724.11" cy="132.12" rx="6.01" ry="2.00" fill="#e8e8e8" opacity="0.55"/>
<ellipse cx="750.14" cy="138.13" rx="6.01" ry="2.00" fill="#e8e8e8" opacity="0.55"/>
<ellipse cx="680.06" cy="34.00" rx="4.81" ry="2.00" fill="#e8e8e8" opacity="0.55"/>
<ellipse cx="714.10" cy="110.10" rx="3.60" ry="2.00" fill="#e8e8e8" opacity="0.55"/>
</g>
</g>
<rect x="728.00" y="176.50" width="36.00" height="2.60" fill="#000" />
<text x="765.00" y="179.00" font-size="3.5" font-weight="normal" text-anchor="start" fill="#eee" >50.0nm</text>
<text x="10.50" y="203.40" font-size="21" font-weight="bold" text-anchor="start" fill="#000" >e</text>
<defs><radialGradient id="edsg" cx="0.6" cy="0.3" r="0.8"><stop offset="0" stop-color="#26517e"/><stop offset="1" stop-color="#1f4574"/></radialGradient><filter id="eblur" x="-5%" y="-5%" width="110%" height="110%"><feGaussianBlur stdDeviation="0.35"/></filter></defs>
<rect x="36.00" y="194.50" width="335.00" height="138.50" fill="url(#edsg)" />
<g filter="url(#eblur)">
<line x1="67.10" y1="318.50" x2="67.10" y2="321.70" stroke="#a4b8cc" stroke-width="0.8"/>
<line x1="74.56" y1="318.50" x2="74.56" y2="320.30" stroke="#a4b8cc" stroke-width="0.8"/>
<line x1="82.02" y1="318.50" x2="82.02" y2="320.30" stroke="#a4b8cc" stroke-width="0.8"/>
<line x1="89.48" y1="318.50" x2="89.48" y2="320.30" stroke="#a4b8cc" stroke-width="0.8"/>
<line x1="96.94" y1="318.50" x2="96.94" y2="320.30" stroke="#a4b8cc" stroke-width="0.8"/>
<line x1="104.40" y1="318.50" x2="104.40" y2="320.30" stroke="#a4b8cc" stroke-width="0.8"/>
<line x1="111.86" y1="318.50" x2="111.86" y2="320.30" stroke="#a4b8cc" stroke-width="0.8"/>
<line x1="119.32" y1="318.50" x2="119.32" y2="320.30" stroke="#a4b8cc" stroke-width="0.8"/>
<line x1="126.78" y1="318.50" x2="126.78" y2="320.30" stroke="#a4b8cc" stroke-width="0.8"/>
<line x1="134.24" y1="318.50" x2="134.24" y2="320.30" stroke="#a4b8cc" stroke-width="0.8"/>
<line x1="141.70" y1="318.50" x2="141.70" y2="321.70" stroke="#a4b8cc" stroke-width="0.8"/>
<line x1="149.16" y1="318.50" x2="149.16" y2="320.30" stroke="#a4b8cc" stroke-width="0.8"/>
<line x1="156.62" y1="318.50" x2="156.62" y2="320.30" stroke="#a4b8cc" stroke-width="0.8"/>
<line x1="164.08" y1="318.50" x2="164.08" y2="320.30" stroke="#a4b8cc" stroke-width="0.8"/>
<line x1="171.54" y1="318.50" x2="171.54" y2="320.30" stroke="#a4b8cc" stroke-width="0.8"/>
<line x1="179.00" y1="318.50" x2="179.00" y2="320.30" stroke="#a4b8cc" stroke-width="0.8"/>
<line x1="186.46" y1="318.50" x2="186.46" y2="320.30" stroke="#a4b8cc" stroke-width="0.8"/>
<line x1="193.92" y1="318.50" x2="193.92" y2="320.30" stroke="#a4b8cc" stroke-width="0.8"/>
<line x1="201.38" y1="318.50" x2="201.38" y2="320.30" stroke="#a4b8cc" stroke-width="0.8"/>
<line x1="208.84" y1="318.50" x2="208.84" y2="320.30" stroke="#a4b8cc" stroke-width="0.8"/>
<line x1="216.30" y1="318.50" x2="216.30" y2="321.70" stroke="#a4b8cc" stroke-width="0.8"/>
<line x1="223.76" y1="318.50" x2="223.76" y2="320.30" stroke="#a4b8cc" stroke-width="0.8"/>
<line x1="231.22" y1="318.50" x2="231.22" y2="320.30" stroke="#a4b8cc" stroke-width="0.8"/>
<line x1="238.68" y1="318.50" x2="238.68" y2="320.30" stroke="#a4b8cc" stroke-width="0.8"/>
<line x1="246.14" y1="318.50" x2="246.14" y2="320.30" stroke="#a4b8cc" stroke-width="0.8"/>
<line x1="253.60" y1="318.50" x2="253.60" y2="320.30" stroke="#a4b8cc" stroke-width="0.8"/>
<line x1="261.06" y1="318.50" x2="261.06" y2="320.30" stroke="#a4b8cc" stroke-width="0.8"/>
<line x1="268.52" y1="318.50" x2="268.52" y2="320.30" stroke="#a4b8cc" stroke-width="0.8"/>
<line x1="275.98" y1="318.50" x2="275.98" y2="320.30" stroke="#a4b8cc" stroke-width="0.8"/>
<line x1="283.44" y1="318.50" x2="283.44" y2="320.30" stroke="#a4b8cc" stroke-width="0.8"/>
<line x1="290.90" y1="318.50" x2="290.90" y2="321.70" stroke="#a4b8cc" stroke-width="0.8"/>
<line x1="298.36" y1="318.50" x2="298.36" y2="320.30" stroke="#a4b8cc" stroke-width="0.8"/>
<line x1="305.82" y1="318.50" x2="305.82" y2="320.30" stroke="#a4b8cc" stroke-width="0.8"/>
<line x1="313.28" y1="318.50" x2="313.28" y2="320.30" stroke="#a4b8cc" stroke-width="0.8"/>
<line x1="320.74" y1="318.50" x2="320.74" y2="320.30" stroke="#a4b8cc" stroke-width="0.8"/>
<line x1="328.20" y1="318.50" x2="328.20" y2="320.30" stroke="#a4b8cc" stroke-width="0.8"/>
<line x1="335.66" y1="318.50" x2="335.66" y2="320.30" stroke="#a4b8cc" stroke-width="0.8"/>
<line x1="343.12" y1="318.50" x2="343.12" y2="320.30" stroke="#a4b8cc" stroke-width="0.8"/>
<line x1="350.58" y1="318.50" x2="350.58" y2="320.30" stroke="#a4b8cc" stroke-width="0.8"/>
<line x1="358.04" y1="318.50" x2="358.04" y2="320.30" stroke="#a4b8cc" stroke-width="0.8"/>
<text x="67.10" y="330.00" font-size="6" font-weight="normal" text-anchor="middle" fill="#a4b8cc" >0</text>
<text x="141.70" y="330.00" font-size="6" font-weight="normal" text-anchor="middle" fill="#a4b8cc" >5</text>
<text x="216.30" y="330.00" font-size="6" font-weight="normal" text-anchor="middle" fill="#a4b8cc" >10</text>
<text x="290.90" y="330.00" font-size="6" font-weight="normal" text-anchor="middle" fill="#a4b8cc" >15</text>
<text x="368.00" y="330.00" font-size="5.6" font-weight="normal" text-anchor="end" fill="#a4b8cc" >keV</text>
<line x1="60.40" y1="316.70" x2="63.60" y2="316.70" stroke="#a4b8cc" stroke-width="0.9"/>
<line x1="61.40" y1="311.02" x2="63.60" y2="311.02" stroke="#a4b8cc" stroke-width="0.9"/>
<line x1="61.40" y1="305.34" x2="63.60" y2="305.34" stroke="#a4b8cc" stroke-width="0.9"/>
<line x1="61.40" y1="299.66" x2="63.60" y2="299.66" stroke="#a4b8cc" stroke-width="0.9"/>
<line x1="61.40" y1="293.98" x2="63.60" y2="293.98" stroke="#a4b8cc" stroke-width="0.9"/>
<line x1="61.40" y1="288.30" x2="63.60" y2="288.30" stroke="#a4b8cc" stroke-width="0.9"/>
<line x1="61.40" y1="282.62" x2="63.60" y2="282.62" stroke="#a4b8cc" stroke-width="0.9"/>
<line x1="61.40" y1="276.94" x2="63.60" y2="276.94" stroke="#a4b8cc" stroke-width="0.9"/>
<line x1="61.40" y1="271.26" x2="63.60" y2="271.26" stroke="#a4b8cc" stroke-width="0.9"/>
<line x1="61.40" y1="265.58" x2="63.60" y2="265.58" stroke="#a4b8cc" stroke-width="0.9"/>
<line x1="60.40" y1="259.90" x2="63.60" y2="259.90" stroke="#a4b8cc" stroke-width="0.9"/>
<line x1="61.40" y1="254.22" x2="63.60" y2="254.22" stroke="#a4b8cc" stroke-width="0.9"/>
<line x1="61.40" y1="248.54" x2="63.60" y2="248.54" stroke="#a4b8cc" stroke-width="0.9"/>
<line x1="61.40" y1="242.86" x2="63.60" y2="242.86" stroke="#a4b8cc" stroke-width="0.9"/>
<line x1="61.40" y1="237.18" x2="63.60" y2="237.18" stroke="#a4b8cc" stroke-width="0.9"/>
<line x1="61.40" y1="231.50" x2="63.60" y2="231.50" stroke="#a4b8cc" stroke-width="0.9"/>
<line x1="61.40" y1="225.82" x2="63.60" y2="225.82" stroke="#a4b8cc" stroke-width="0.9"/>
<line x1="61.40" y1="220.14" x2="63.60" y2="220.14" stroke="#a4b8cc" stroke-width="0.9"/>
<line x1="61.40" y1="214.46" x2="63.60" y2="214.46" stroke="#a4b8cc" stroke-width="0.9"/>
<line x1="61.40" y1="208.78" x2="63.60" y2="208.78" stroke="#a4b8cc" stroke-width="0.9"/>
<line x1="60.40" y1="203.10" x2="63.60" y2="203.10" stroke="#a4b8cc" stroke-width="0.9"/>
<line x1="61.40" y1="197.42" x2="63.60" y2="197.42" stroke="#a4b8cc" stroke-width="0.9"/>
<text x="57.20" y="318.90" font-size="6.6" font-weight="normal" text-anchor="end" fill="#a4b8cc" >0</text>
<text x="57.20" y="262.10" font-size="6.6" font-weight="normal" text-anchor="end" fill="#a4b8cc" >20</text>
<text x="57.20" y="205.30" font-size="6.6" font-weight="normal" text-anchor="end" fill="#a4b8cc" >40</text>
<text x="44.8" y="256" font-size="5.6" fill="#a4b8cc" text-anchor="middle" transform="rotate(-90 44.8 256)">cps/eV</text>
<line x1="67.10" y1="317.00" x2="365.00" y2="317.00" stroke="#e8ee3a" stroke-width="0.9" />
<path d="M67.10,316.70 L67.40,315.70 L68.14,301.36 L68.74,315.20 L70.38,315.70 L71.28,311.02 L72.02,315.50 L76.05,315.20 L85.00,314.70 L90.23,313.70 L92.76,313.20 L93.66,196.00 L94.55,313.20 L96.94,313.20 L99.33,286.88 L101.42,313.70 L104.40,315.50 L126.78,315.90 L210.33,315.90 L211.08,314.70 L211.82,315.90 L365.50,316.40 L365.50,316.7 Z" stroke="#e8ee34" stroke-width="0.6" fill="#e4ec2a" />
<rect x="68.10" y="290.00" width="6.4" height="9.2" rx="1.2" fill="#1f4876" stroke="#8aa4be" stroke-width="0.55"/>
<text x="71.30" y="296.80" font-size="6.2" font-weight="normal" text-anchor="middle" fill="#e8ec50" >C</text>
<rect x="72.30" y="302.00" width="6.4" height="9.2" rx="1.2" fill="#1f4876" stroke="#8aa4be" stroke-width="0.55"/>
<text x="75.50" y="308.80" font-size="6.2" font-weight="normal" text-anchor="middle" fill="#e8ec50" >O</text>
<rect x="94.70" y="275.60" width="9.6" height="9.2" rx="1.2" fill="#1f4876" stroke="#8aa4be" stroke-width="0.55"/>
<text x="99.50" y="282.40" font-size="6.2" font-weight="normal" text-anchor="middle" fill="#e8ec50" >Au</text>
<rect x="94.60" y="302.00" width="6.4" height="9.2" rx="1.2" fill="#1f4876" stroke="#8aa4be" stroke-width="0.55"/>
<text x="97.80" y="308.80" font-size="6.2" font-weight="normal" text-anchor="middle" fill="#e8ec50" >P</text>
<rect x="189.20" y="304.40" width="9.6" height="9.2" rx="1.2" fill="#1f4876" stroke="#8aa4be" stroke-width="0.55"/>
<text x="194.00" y="311.20" font-size="6.2" font-weight="normal" text-anchor="middle" fill="#e8ec50" >Au</text>
<rect x="207.20" y="303.70" width="9.6" height="9.2" rx="1.2" fill="#1f4876" stroke="#8aa4be" stroke-width="0.55"/>
<text x="212.00" y="310.50" font-size="6.2" font-weight="normal" text-anchor="middle" fill="#e8ec50" >Au</text>
<rect x="233.20" y="304.40" width="9.6" height="9.2" rx="1.2" fill="#1f4876" stroke="#8aa4be" stroke-width="0.55"/>
<text x="238.00" y="311.20" font-size="6.2" font-weight="normal" text-anchor="middle" fill="#e8ec50" >Au</text>
<rect x="262.00" y="304.40" width="9.6" height="9.2" rx="1.2" fill="#1f4876" stroke="#8aa4be" stroke-width="0.55"/>
<text x="266.80" y="311.20" font-size="6.2" font-weight="normal" text-anchor="middle" fill="#e8ec50" >Au</text>
</g>
<text x="365.50" y="209.40" font-size="10.9" font-weight="bold" text-anchor="end" fill="#f2f2f2" >EDS-Mapping</text>
<text x="405.30" y="203.30" font-size="21" font-weight="bold" text-anchor="start" fill="#000" >f</text>
<rect x="440.96" y="302.34" width="3.40" height="3.40" fill="#1e8a2a" />
<rect x="452.87" y="300.87" width="3.40" height="3.40" fill="#1e8a2a" />
<rect x="464.78" y="300.29" width="3.40" height="3.40" fill="#1e8a2a" />
<rect x="476.69" y="299.12" width="3.40" height="3.40" fill="#1e8a2a" />
<rect x="488.60" y="297.95" width="3.40" height="3.40" fill="#1e8a2a" />
<rect x="500.51" y="297.07" width="3.40" height="3.40" fill="#1e8a2a" />
<rect x="512.42" y="295.02" width="3.40" height="3.40" fill="#1e8a2a" />
<rect x="524.33" y="294.14" width="3.40" height="3.40" fill="#1e8a2a" />
<rect x="536.24" y="293.55" width="3.40" height="3.40" fill="#1e8a2a" />
<rect x="548.15" y="292.38" width="3.40" height="3.40" fill="#1e8a2a" />
<rect x="560.06" y="292.09" width="3.40" height="3.40" fill="#1e8a2a" />
<rect x="571.97" y="292.97" width="3.40" height="3.40" fill="#1e8a2a" />
<circle cx="442.66" cy="302.57" r="1.9" fill="#e02828"/>
<circle cx="454.57" cy="274.17" r="1.9" fill="#e02828"/>
<circle cx="466.48" cy="267.14" r="1.9" fill="#e02828"/>
<circle cx="478.39" cy="258.95" r="1.9" fill="#e02828"/>
<circle cx="490.30" cy="250.46" r="1.9" fill="#e02828"/>
<circle cx="502.21" cy="242.55" r="1.9" fill="#e02828"/>
<circle cx="514.12" cy="239.62" r="1.9" fill="#e02828"/>
<circle cx="526.03" cy="229.96" r="1.9" fill="#e02828"/>
<circle cx="537.94" cy="225.86" r="1.9" fill="#e02828"/>
<circle cx="549.85" cy="222.64" r="1.9" fill="#e02828"/>
<circle cx="561.76" cy="219.71" r="1.9" fill="#e02828"/>
<circle cx="573.67" cy="217.08" r="1.9" fill="#e02828"/>
<path d="M442.66,298.12 L444.86,302.02 L440.46,302.02 Z" fill="#3a7ee0"/>
<path d="M454.57,269.72 L456.77,273.62 L452.37,273.62 Z" fill="#3a7ee0"/>
<path d="M466.48,262.99 L468.68,266.89 L464.28,266.89 Z" fill="#3a7ee0"/>
<path d="M478.39,253.33 L480.59,257.23 L476.19,257.23 Z" fill="#3a7ee0"/>
<path d="M490.30,245.13 L492.50,249.03 L488.10,249.03 Z" fill="#3a7ee0"/>
<path d="M502.21,238.98 L504.41,242.88 L500.01,242.88 Z" fill="#3a7ee0"/>
<path d="M514.12,232.54 L516.32,236.44 L511.92,236.44 Z" fill="#3a7ee0"/>
<path d="M526.03,223.46 L528.23,227.36 L523.83,227.36 Z" fill="#3a7ee0"/>
<path d="M537.94,221.12 L540.14,225.02 L535.74,225.02 Z" fill="#3a7ee0"/>
<path d="M549.85,217.90 L552.05,221.80 L547.65,221.80 Z" fill="#3a7ee0"/>
<path d="M561.76,214.09 L563.96,217.99 L559.56,217.99 Z" fill="#3a7ee0"/>
<path d="M573.67,212.33 L575.87,216.23 L571.47,216.23 Z" fill="#3a7ee0"/>
<rect x="429.80" y="204.00" width="159.70" height="117.20" fill="none" stroke="#000" stroke-width="1.6"/>
<line x1="430.75" y1="321.20" x2="430.75" y2="323.70" stroke="#000" stroke-width="1" />
<text x="430.75" y="331.80" font-size="8.3" font-weight="bold" text-anchor="middle" fill="#000" >0</text>
<line x1="450.60" y1="321.20" x2="450.60" y2="323.70" stroke="#000" stroke-width="1" />
<text x="450.60" y="331.80" font-size="8.3" font-weight="bold" text-anchor="middle" fill="#000" >50</text>
<line x1="470.45" y1="321.20" x2="470.45" y2="323.70" stroke="#000" stroke-width="1" />
<text x="470.45" y="331.80" font-size="8.3" font-weight="bold" text-anchor="middle" fill="#000" >100</text>
<line x1="490.30" y1="321.20" x2="490.30" y2="323.70" stroke="#000" stroke-width="1" />
<text x="490.30" y="331.80" font-size="8.3" font-weight="bold" text-anchor="middle" fill="#000" >150</text>
<line x1="510.15" y1="321.20" x2="510.15" y2="323.70" stroke="#000" stroke-width="1" />
<text x="510.15" y="331.80" font-size="8.3" font-weight="bold" text-anchor="middle" fill="#000" >200</text>
<line x1="530.00" y1="321.20" x2="530.00" y2="323.70" stroke="#000" stroke-width="1" />
<text x="530.00" y="331.80" font-size="8.3" font-weight="bold" text-anchor="middle" fill="#000" >250</text>
<line x1="549.85" y1="321.20" x2="549.85" y2="323.70" stroke="#000" stroke-width="1" />
<text x="549.85" y="331.80" font-size="8.3" font-weight="bold" text-anchor="middle" fill="#000" >300</text>
<line x1="569.70" y1="321.20" x2="569.70" y2="323.70" stroke="#000" stroke-width="1" />
<text x="569.70" y="331.80" font-size="8.3" font-weight="bold" text-anchor="middle" fill="#000" >350</text>
<line x1="589.55" y1="321.20" x2="589.55" y2="323.70" stroke="#000" stroke-width="1" />
<text x="589.55" y="331.80" font-size="8.3" font-weight="bold" text-anchor="middle" fill="#000" >400</text>
<line x1="440.68" y1="321.20" x2="440.68" y2="322.70" stroke="#000" stroke-width="0.8" />
<line x1="460.52" y1="321.20" x2="460.52" y2="322.70" stroke="#000" stroke-width="0.8" />
<line x1="480.38" y1="321.20" x2="480.38" y2="322.70" stroke="#000" stroke-width="0.8" />
<line x1="500.23" y1="321.20" x2="500.23" y2="322.70" stroke="#000" stroke-width="0.8" />
<line x1="520.08" y1="321.20" x2="520.08" y2="322.70" stroke="#000" stroke-width="0.8" />
<line x1="539.92" y1="321.20" x2="539.92" y2="322.70" stroke="#000" stroke-width="0.8" />
<line x1="559.77" y1="321.20" x2="559.77" y2="322.70" stroke="#000" stroke-width="0.8" />
<line x1="579.62" y1="321.20" x2="579.62" y2="322.70" stroke="#000" stroke-width="0.8" />
<line x1="427.30" y1="321.02" x2="429.80" y2="321.02" stroke="#000" stroke-width="1" />
<text x="426.80" y="324.02" font-size="8.3" font-weight="bold" text-anchor="end" fill="#000" >20</text>
<line x1="427.30" y1="306.38" x2="429.80" y2="306.38" stroke="#000" stroke-width="1" />
<text x="426.80" y="309.38" font-size="8.3" font-weight="bold" text-anchor="end" fill="#000" >25</text>
<line x1="427.30" y1="291.74" x2="429.80" y2="291.74" stroke="#000" stroke-width="1" />
<text x="426.80" y="294.74" font-size="8.3" font-weight="bold" text-anchor="end" fill="#000" >30</text>
<line x1="427.30" y1="277.10" x2="429.80" y2="277.10" stroke="#000" stroke-width="1" />
<text x="426.80" y="280.10" font-size="8.3" font-weight="bold" text-anchor="end" fill="#000" >35</text>
<line x1="427.30" y1="262.46" x2="429.80" y2="262.46" stroke="#000" stroke-width="1" />
<text x="426.80" y="265.46" font-size="8.3" font-weight="bold" text-anchor="end" fill="#000" >40</text>
<line x1="427.30" y1="247.82" x2="429.80" y2="247.82" stroke="#000" stroke-width="1" />
<text x="426.80" y="250.82" font-size="8.3" font-weight="bold" text-anchor="end" fill="#000" >45</text>
<line x1="427.30" y1="233.18" x2="429.80" y2="233.18" stroke="#000" stroke-width="1" />
<text x="426.80" y="236.18" font-size="8.3" font-weight="bold" text-anchor="end" fill="#000" >50</text>
<line x1="427.30" y1="218.54" x2="429.80" y2="218.54" stroke="#000" stroke-width="1" />
<text x="426.80" y="221.54" font-size="8.3" font-weight="bold" text-anchor="end" fill="#000" >55</text>
<line x1="427.30" y1="203.90" x2="429.80" y2="203.90" stroke="#000" stroke-width="1" />
<text x="426.80" y="206.90" font-size="8.3" font-weight="bold" text-anchor="end" fill="#000" >60</text>
<text x="412.20" y="262.00" font-size="11.2" font-weight="bold" text-anchor="middle" transform="rotate(-90 412.20 262.00)">Temperature / °C</text>
<text x="510.00" y="345.00" font-size="10.4" font-weight="bold" text-anchor="middle" fill="#000" >Time (s)</text>
<rect x="441.20" y="211.20" width="3.40" height="3.40" fill="#1e8a2a" />
<text x="455.00" y="215.80" font-size="8.8" font-weight="bold" text-anchor="start" fill="#000" >PBS</text>
<circle cx="442.9" cy="223.75" r="1.9" fill="#e02828"/>
<text x="455.00" y="226.65" font-size="8.8" font-weight="bold" text-anchor="start" fill="#000" >AuNR</text>
<path d="M442.90,232.00 L445.10,235.90 L440.70,235.90 Z" fill="#3a7ee0"/>
<text x="455.00" y="237.30" font-size="8.8" font-weight="bold" text-anchor="start" fill="#000" >AuNR-APT</text>
<text x="603.60" y="201.20" font-size="21" font-weight="bold" text-anchor="start" fill="#000" >g</text>
<path d="M637.40,300.89 L650.46,215.70 L672.23,293.57 L685.29,218.63 L707.06,294.16 L720.13,219.80 L741.90,296.79 L754.96,223.61 L776.73,295.92" stroke="#8a8a8a" stroke-width="0.8" fill="none" />
<rect x="636.10" y="299.59" width="2.60" height="2.60" fill="#111" />
<rect x="649.16" y="214.40" width="2.60" height="2.60" fill="#111" />
<rect x="670.93" y="292.27" width="2.60" height="2.60" fill="#111" />
<rect x="683.99" y="217.33" width="2.60" height="2.60" fill="#111" />
<rect x="705.76" y="292.86" width="2.60" height="2.60" fill="#111" />
<rect x="718.83" y="218.50" width="2.60" height="2.60" fill="#111" />
<rect x="740.60" y="295.49" width="2.60" height="2.60" fill="#111" />
<rect x="753.66" y="222.31" width="2.60" height="2.60" fill="#111" />
<rect x="775.43" y="294.62" width="2.60" height="2.60" fill="#111" />
<rect x="630.40" y="203.70" width="159.40" height="117.10" fill="none" stroke="#000" stroke-width="1.6"/>
<line x1="637.40" y1="320.80" x2="637.40" y2="323.30" stroke="#000" stroke-width="1" />
<text x="637.40" y="331.60" font-size="8.3" font-weight="bold" text-anchor="middle" fill="#000" >0</text>
<line x1="659.17" y1="320.80" x2="659.17" y2="323.30" stroke="#000" stroke-width="1" />
<text x="659.17" y="331.60" font-size="8.3" font-weight="bold" text-anchor="middle" fill="#000" >10</text>
<line x1="680.94" y1="320.80" x2="680.94" y2="323.30" stroke="#000" stroke-width="1" />
<text x="680.94" y="331.60" font-size="8.3" font-weight="bold" text-anchor="middle" fill="#000" >20</text>
<line x1="702.71" y1="320.80" x2="702.71" y2="323.30" stroke="#000" stroke-width="1" />
<text x="702.71" y="331.60" font-size="8.3" font-weight="bold" text-anchor="middle" fill="#000" >30</text>
<line x1="724.48" y1="320.80" x2="724.48" y2="323.30" stroke="#000" stroke-width="1" />
<text x="724.48" y="331.60" font-size="8.3" font-weight="bold" text-anchor="middle" fill="#000" >40</text>
<line x1="746.25" y1="320.80" x2="746.25" y2="323.30" stroke="#000" stroke-width="1" />
<text x="746.25" y="331.60" font-size="8.3" font-weight="bold" text-anchor="middle" fill="#000" >50</text>
<line x1="768.02" y1="320.80" x2="768.02" y2="323.30" stroke="#000" stroke-width="1" />
<text x="768.02" y="331.60" font-size="8.3" font-weight="bold" text-anchor="middle" fill="#000" >60</text>
<line x1="789.79" y1="320.80" x2="789.79" y2="323.30" stroke="#000" stroke-width="1" />
<text x="789.79" y="331.60" font-size="8.3" font-weight="bold" text-anchor="middle" fill="#000" >70</text>
<line x1="648.28" y1="320.80" x2="648.28" y2="322.30" stroke="#000" stroke-width="0.8" />
<line x1="670.05" y1="320.80" x2="670.05" y2="322.30" stroke="#000" stroke-width="0.8" />
<line x1="691.82" y1="320.80" x2="691.82" y2="322.30" stroke="#000" stroke-width="0.8" />
<line x1="713.60" y1="320.80" x2="713.60" y2="322.30" stroke="#000" stroke-width="0.8" />
<line x1="735.37" y1="320.80" x2="735.37" y2="322.30" stroke="#000" stroke-width="0.8" />
<line x1="757.13" y1="320.80" x2="757.13" y2="322.30" stroke="#000" stroke-width="0.8" />
<line x1="778.90" y1="320.80" x2="778.90" y2="322.30" stroke="#000" stroke-width="0.8" />
<line x1="627.90" y1="320.80" x2="630.40" y2="320.80" stroke="#000" stroke-width="1" />
<text x="627.40" y="323.80" font-size="8.3" font-weight="bold" text-anchor="end" fill="#000" >20</text>
<line x1="627.90" y1="306.16" x2="630.40" y2="306.16" stroke="#000" stroke-width="1" />
<text x="627.40" y="309.16" font-size="8.3" font-weight="bold" text-anchor="end" fill="#000" >25</text>
<line x1="627.90" y1="291.52" x2="630.40" y2="291.52" stroke="#000" stroke-width="1" />
<text x="627.40" y="294.52" font-size="8.3" font-weight="bold" text-anchor="end" fill="#000" >30</text>
<line x1="627.90" y1="276.89" x2="630.40" y2="276.89" stroke="#000" stroke-width="1" />
<text x="627.40" y="279.89" font-size="8.3" font-weight="bold" text-anchor="end" fill="#000" >35</text>
<line x1="627.90" y1="262.25" x2="630.40" y2="262.25" stroke="#000" stroke-width="1" />
<text x="627.40" y="265.25" font-size="8.3" font-weight="bold" text-anchor="end" fill="#000" >40</text>
<line x1="627.90" y1="247.61" x2="630.40" y2="247.61" stroke="#000" stroke-width="1" />
<text x="627.40" y="250.61" font-size="8.3" font-weight="bold" text-anchor="end" fill="#000" >45</text>
<line x1="627.90" y1="232.97" x2="630.40" y2="232.97" stroke="#000" stroke-width="1" />
<text x="627.40" y="235.97" font-size="8.3" font-weight="bold" text-anchor="end" fill="#000" >50</text>
<line x1="627.90" y1="218.34" x2="630.40" y2="218.34" stroke="#000" stroke-width="1" />
<text x="627.40" y="221.34" font-size="8.3" font-weight="bold" text-anchor="end" fill="#000" >55</text>
<line x1="627.90" y1="203.70" x2="630.40" y2="203.70" stroke="#000" stroke-width="1" />
<text x="627.40" y="206.70" font-size="8.3" font-weight="bold" text-anchor="end" fill="#000" >60</text>
<text x="612.80" y="262.00" font-size="11.2" font-weight="bold" text-anchor="middle" transform="rotate(-90 612.80 262.00)">Temperature / °C</text>
<text x="710.80" y="345.00" font-size="10.4" font-weight="bold" text-anchor="middle" fill="#000" >Time (min)</text>
<text x="638.00" y="310.40" font-size="9.2" font-weight="bold" text-anchor="middle" fill="#d83040" >on</text>
<text x="672.50" y="303.70" font-size="9.2" font-weight="bold" text-anchor="middle" fill="#d83040" >on</text>
<text x="706.90" y="304.60" font-size="9.2" font-weight="bold" text-anchor="middle" fill="#d83040" >on</text>
<text x="742.00" y="306.00" font-size="9.2" font-weight="bold" text-anchor="middle" fill="#d83040" >on</text>
<text x="777.80" y="306.00" font-size="9.2" font-weight="bold" text-anchor="middle" fill="#d83040" >on</text>
<text x="649.96" y="212.50" font-size="9.2" font-weight="bold" text-anchor="middle" fill="#d83040" >off</text>
<text x="684.79" y="215.43" font-size="9.2" font-weight="bold" text-anchor="middle" fill="#d83040" >off</text>
<text x="719.63" y="216.60" font-size="9.2" font-weight="bold" text-anchor="middle" fill="#d83040" >off</text>
<text x="754.46" y="220.41" font-size="9.2" font-weight="bold" text-anchor="middle" fill="#d83040" >off</text>
<text x="654.40" y="291.40" font-size="8.4" font-weight="bold" text-anchor="middle" fill="#111" >circle 1</text>
<text x="689.00" y="291.40" font-size="8.4" font-weight="bold" text-anchor="middle" fill="#111" >circle 2</text>
<text x="723.50" y="291.40" font-size="8.4" font-weight="bold" text-anchor="middle" fill="#111" >circle 3</text>
<text x="758.40" y="293.60" font-size="8.4" font-weight="bold" text-anchor="middle" fill="#111" >circle 4</text>
<text x="10.50" y="377.20" font-size="21" font-weight="bold" text-anchor="start" fill="#000" >h</text>
<text x="47.70" y="375.20" font-size="10.8" font-weight="bold" text-anchor="middle" fill="#000" >30 s</text>
<text x="83.00" y="375.20" font-size="10.8" font-weight="bold" text-anchor="middle" fill="#000" >60 s</text>
<text x="116.80" y="375.20" font-size="10.8" font-weight="bold" text-anchor="middle" fill="#000" >150 s</text>
<text x="152.10" y="375.20" font-size="10.8" font-weight="bold" text-anchor="middle" fill="#000" >360 s</text>
<text x="19.20" y="404.75" font-size="10.6" font-weight="bold" text-anchor="middle" transform="rotate(-90 19.20 404.75)">AuNR</text>
<text x="19.20" y="457.85" font-size="10.6" font-weight="bold" text-anchor="middle" transform="rotate(-90 19.20 457.85)">AuNR-APT</text>
<text x="19.20" y="511.55" font-size="10.6" font-weight="bold" text-anchor="middle" transform="rotate(-90 19.20 511.55)">PBS</text>
<text x="19.20" y="570.75" font-size="10.6" font-weight="bold" text-anchor="middle" transform="rotate(-90 19.20 570.75)">ON</text>
<text x="19.20" y="624.25" font-size="10.6" font-weight="bold" text-anchor="middle" transform="rotate(-90 19.20 624.25)">OFF</text>
<defs><filter id="tblur" x="-30%" y="-30%" width="160%" height="160%"><feGaussianBlur stdDeviation="1.3"/></filter><filter id="tblur2" x="-30%" y="-30%" width="160%" height="160%"><feGaussianBlur stdDeviation="2.4"/></filter><linearGradient id="cbar" x1="0" y1="0" x2="0" y2="1"><stop offset="0" stop-color="#fffff4"/><stop offset="0.12" stop-color="#fbf08a"/><stop offset="0.3" stop-color="#f8b02a"/><stop offset="0.48" stop-color="#ee3c2c"/><stop offset="0.62" stop-color="#d0109a"/><stop offset="0.78" stop-color="#7a10b0"/><stop offset="0.9" stop-color="#3a0c78"/><stop offset="1" stop-color="#0c0410"/></linearGradient></defs>
<defs><clipPath id="tc00"><rect x="28.80" y="379.10" width="33.0" height="51.3"/></clipPath></defs>
<g clip-path="url(#tc00)">
<rect x="28.80" y="379.10" width="33.00" height="51.30" fill="#7a1c9c" />
<g filter="url(#tblur2)">
<rect x="24.80" y="383.10" width="8" height="51.3" fill="#561a96"/>
<rect x="56.80" y="383.10" width="8" height="51.3" fill="#561a96"/>
<path d="M39.10,381.1 L56.10,381.1 L52.60,427.40000000000003 L42.60,427.40000000000003 Z" fill="#b41e8e"/>
<ellipse cx="47.60" cy="396.10" rx="7" ry="9" fill="#c82288"/>
</g>
</g>
<defs><clipPath id="tc01"><rect x="64.10" y="379.10" width="33.0" height="51.3"/></clipPath></defs>
<g clip-path="url(#tc01)">
<rect x="64.10" y="379.10" width="33.00" height="51.30" fill="#341090" />
<g filter="url(#tblur2)">
<ellipse cx="83.50" cy="388.10" rx="11" ry="9" fill="#a01c94"/>
<rect x="64.10" y="422.40" width="33.0" height="8" fill="#4a148e"/>
</g>
<g filter="url(#tblur)">
<path d="M77.50,389.10 C78.80,387.68 81.50,387.60 83.50,387.60 C85.50,387.60 88.20,387.68 89.50,389.10 C90.80,390.52 91.22,393.10 91.30,396.10 C91.38,399.10 90.72,402.60 90.00,407.10 C89.28,411.60 88.08,419.93 87.00,423.10 C85.92,426.27 84.67,426.10 83.50,426.10 C82.33,426.10 81.08,426.27 80.00,423.10 C78.92,419.93 77.72,411.60 77.00,407.10 C76.28,402.60 75.62,399.10 75.70,396.10 C75.78,393.10 76.20,390.52 77.50,389.10 Z" fill="#e85a2c"/>
<path d="M79.50,393.10 C80.42,392.10 82.17,392.10 83.50,392.10 C84.83,392.10 86.58,392.10 87.50,393.10 C88.42,394.10 88.92,395.77 89.00,398.10 C89.08,400.43 88.55,403.60 88.00,407.10 C87.45,410.60 86.45,416.77 85.70,419.10 C84.95,421.43 84.23,421.10 83.50,421.10 C82.77,421.10 82.05,421.43 81.30,419.10 C80.55,416.77 79.55,410.60 79.00,407.10 C78.45,403.60 77.92,400.43 78.00,398.10 C78.08,395.77 78.58,394.10 79.50,393.10 Z" fill="#f28526"/>
<ellipse cx="83.50" cy="388.10" rx="7" ry="3.5" fill="#b82a84" opacity="0.75"/>
</g>
</g>
<defs><clipPath id="tc02"><rect x="99.30" y="379.10" width="33.0" height="51.3"/></clipPath></defs>
<g clip-path="url(#tc02)">
<rect x="99.30" y="379.10" width="33.00" height="51.30" fill="#341090" />
<g filter="url(#tblur2)">
<ellipse cx="117.10" cy="388.10" rx="11" ry="9" fill="#a01c94"/>
<rect x="99.30" y="422.40" width="33.0" height="8" fill="#4a148e"/>
</g>
<g filter="url(#tblur)">
<path d="M111.10,387.12 C112.35,385.50 115.10,386.10 117.10,386.10 C119.10,386.10 121.85,385.50 123.10,387.12 C124.35,388.75 124.30,393.02 124.60,395.84 C124.90,398.66 125.05,401.13 124.90,404.04 C124.75,406.94 124.28,410.10 123.70,413.26 C123.12,416.42 122.50,420.69 121.40,423.00 C120.30,425.31 118.53,427.10 117.10,427.10 C115.67,427.10 113.90,425.31 112.80,423.00 C111.70,420.69 111.08,416.42 110.50,413.26 C109.92,410.10 109.45,406.94 109.30,404.04 C109.15,401.13 109.30,398.66 109.60,395.84 C109.90,393.02 109.85,388.75 111.10,387.12 Z" fill="#ee6626"/>
<path d="M112.90,390.71 C113.83,389.52 115.70,389.69 117.10,389.69 C118.50,389.69 120.37,389.52 121.30,390.71 C122.23,391.91 122.43,394.64 122.70,396.86 C122.97,399.08 123.03,401.30 122.90,404.04 C122.77,406.77 122.40,410.36 121.90,413.26 C121.40,416.17 120.70,419.67 119.90,421.46 C119.10,423.26 118.03,424.03 117.10,424.03 C116.17,424.03 115.10,423.26 114.30,421.46 C113.50,419.67 112.80,416.17 112.30,413.26 C111.80,410.36 111.43,406.77 111.30,404.04 C111.17,401.30 111.23,399.08 111.50,396.86 C111.77,394.64 111.97,391.91 112.90,390.71 Z" fill="#f6ac28"/>
<path d="M114.10,394.81 C114.80,393.45 116.10,393.79 117.10,393.79 C118.10,393.79 119.40,393.45 120.10,394.81 C120.80,396.18 121.13,399.60 121.30,401.99 C121.47,404.38 121.33,406.77 121.10,409.16 C120.87,411.55 120.57,414.71 119.90,416.34 C119.23,417.96 118.03,418.90 117.10,418.90 C116.17,418.90 114.97,417.96 114.30,416.34 C113.63,414.71 113.33,411.55 113.10,409.16 C112.87,406.77 112.73,404.38 112.90,401.99 C113.07,399.60 113.40,396.18 114.10,394.81 Z" fill="#f8d03c"/>
<ellipse cx="117.10" cy="386.60" rx="6" ry="2.5" fill="#c83a60" opacity="0.7"/>
</g>
</g>
<defs><clipPath id="tc03"><rect x="134.60" y="379.10" width="33.0" height="51.3"/></clipPath></defs>
<g clip-path="url(#tc03)">
<rect x="134.60" y="379.10" width="33.00" height="51.30" fill="#341090" />
<g filter="url(#tblur2)">
<rect x="131.60" y="376.10" width="39.0" height="8" fill="#8a1a98"/>
<ellipse cx="151.80" cy="383.10" rx="10" ry="5" fill="#b02288"/>
<rect x="134.60" y="422.40" width="33.0" height="8" fill="#4a148e"/>
</g>
<g filter="url(#tblur)">
<path d="M145.80,384.69 C147.05,382.97 149.80,383.60 151.80,383.60 C153.80,383.60 156.55,382.97 157.80,384.69 C159.05,386.41 159.00,390.94 159.30,393.93 C159.60,396.92 159.75,399.55 159.60,402.63 C159.45,405.71 158.98,409.07 158.40,412.42 C157.82,415.77 157.20,420.30 156.10,422.75 C155.00,425.20 153.23,427.10 151.80,427.10 C150.37,427.10 148.60,425.20 147.50,422.75 C146.40,420.30 145.78,415.77 145.20,412.42 C144.62,409.07 144.15,405.71 144.00,402.63 C143.85,399.55 144.00,396.92 144.30,393.93 C144.60,390.94 144.55,386.41 145.80,384.69 Z" fill="#ee6626"/>
<path d="M147.60,388.49 C148.53,387.23 150.40,387.41 151.80,387.41 C153.20,387.41 155.07,387.23 156.00,388.49 C156.93,389.76 157.13,392.66 157.40,395.02 C157.67,397.38 157.73,399.73 157.60,402.63 C157.47,405.53 157.10,409.34 156.60,412.42 C156.10,415.50 155.40,419.22 154.60,421.12 C153.80,423.02 152.73,423.84 151.80,423.84 C150.87,423.84 149.80,423.02 149.00,421.12 C148.20,419.22 147.50,415.50 147.00,412.42 C146.50,409.34 146.13,405.53 146.00,402.63 C145.87,399.73 145.93,397.38 146.20,395.02 C146.47,392.66 146.67,389.76 147.60,388.49 Z" fill="#f6be2a"/>
<path d="M148.80,392.84 C149.50,391.39 150.80,391.76 151.80,391.76 C152.80,391.76 154.10,391.39 154.80,392.84 C155.50,394.29 155.83,397.92 156.00,400.46 C156.17,402.99 156.03,405.53 155.80,408.07 C155.57,410.61 155.27,413.96 154.60,415.68 C153.93,417.40 152.73,418.40 151.80,418.40 C150.87,418.40 149.67,417.40 149.00,415.68 C148.33,413.96 148.03,410.61 147.80,408.07 C147.57,405.53 147.43,402.99 147.60,400.46 C147.77,397.92 148.10,394.29 148.80,392.84 Z" fill="#f8dc48"/>
<ellipse cx="152.80" cy="404.10" rx="2.6" ry="3.8" fill="#fff0b8"/>
<ellipse cx="151.80" cy="384.10" rx="6" ry="2.5" fill="#c83a60" opacity="0.7"/>
</g>
</g>
<defs><clipPath id="tc10"><rect x="28.80" y="432.20" width="33.0" height="51.3"/></clipPath></defs>
<g clip-path="url(#tc10)">
<rect x="28.80" y="432.20" width="33.00" height="51.30" fill="#7a1c9c" />
<g filter="url(#tblur2)">
<rect x="24.80" y="436.20" width="8" height="51.3" fill="#561a96"/>
<rect x="56.80" y="436.20" width="8" height="51.3" fill="#561a96"/>
<path d="M39.10,434.2 L56.10,434.2 L52.60,480.5 L42.60,480.5 Z" fill="#b41e8e"/>
<ellipse cx="47.60" cy="449.20" rx="7" ry="9" fill="#c82288"/>
</g>
</g>
<defs><clipPath id="tc11"><rect x="64.10" y="432.20" width="33.0" height="51.3"/></clipPath></defs>
<g clip-path="url(#tc11)">
<rect x="64.10" y="432.20" width="33.00" height="51.30" fill="#341090" />
<g filter="url(#tblur2)">
<ellipse cx="83.10" cy="441.20" rx="11" ry="9" fill="#a01c94"/>
<rect x="64.10" y="475.50" width="33.0" height="8" fill="#4a148e"/>
</g>
<g filter="url(#tblur)">
<path d="M77.10,442.20 C78.40,440.78 81.10,440.70 83.10,440.70 C85.10,440.70 87.80,440.78 89.10,442.20 C90.40,443.62 90.82,446.20 90.90,449.20 C90.98,452.20 90.32,455.70 89.60,460.20 C88.88,464.70 87.68,473.03 86.60,476.20 C85.52,479.37 84.27,479.20 83.10,479.20 C81.93,479.20 80.68,479.37 79.60,476.20 C78.52,473.03 77.32,464.70 76.60,460.20 C75.88,455.70 75.22,452.20 75.30,449.20 C75.38,446.20 75.80,443.62 77.10,442.20 Z" fill="#e85a2c"/>
<path d="M79.10,446.20 C80.02,445.20 81.77,445.20 83.10,445.20 C84.43,445.20 86.18,445.20 87.10,446.20 C88.02,447.20 88.52,448.87 88.60,451.20 C88.68,453.53 88.15,456.70 87.60,460.20 C87.05,463.70 86.05,469.87 85.30,472.20 C84.55,474.53 83.83,474.20 83.10,474.20 C82.37,474.20 81.65,474.53 80.90,472.20 C80.15,469.87 79.15,463.70 78.60,460.20 C78.05,456.70 77.52,453.53 77.60,451.20 C77.68,448.87 78.18,447.20 79.10,446.20 Z" fill="#f28526"/>
<ellipse cx="83.10" cy="441.20" rx="7" ry="3.5" fill="#b82a84" opacity="0.75"/>
</g>
</g>
<defs><clipPath id="tc12"><rect x="99.30" y="432.20" width="33.0" height="51.3"/></clipPath></defs>
<g clip-path="url(#tc12)">
<rect x="99.30" y="432.20" width="33.00" height="51.30" fill="#341090" />
<g filter="url(#tblur2)">
<ellipse cx="117.10" cy="441.20" rx="11" ry="9" fill="#a01c94"/>
<rect x="99.30" y="475.50" width="33.0" height="8" fill="#4a148e"/>
</g>
<g filter="url(#tblur)">
<path d="M111.10,440.22 C112.35,438.60 115.10,439.20 117.10,439.20 C119.10,439.20 121.85,438.60 123.10,440.22 C124.35,441.85 124.30,446.12 124.60,448.94 C124.90,451.76 125.05,454.23 124.90,457.14 C124.75,460.04 124.28,463.20 123.70,466.36 C123.12,469.52 122.50,473.79 121.40,476.10 C120.30,478.41 118.53,480.20 117.10,480.20 C115.67,480.20 113.90,478.41 112.80,476.10 C111.70,473.79 111.08,469.52 110.50,466.36 C109.92,463.20 109.45,460.04 109.30,457.14 C109.15,454.23 109.30,451.76 109.60,448.94 C109.90,446.12 109.85,441.85 111.10,440.22 Z" fill="#ee6626"/>
<path d="M112.90,443.81 C113.83,442.62 115.70,442.79 117.10,442.79 C118.50,442.79 120.37,442.62 121.30,443.81 C122.23,445.01 122.43,447.74 122.70,449.96 C122.97,452.18 123.03,454.40 122.90,457.14 C122.77,459.87 122.40,463.46 121.90,466.36 C121.40,469.27 120.70,472.77 119.90,474.56 C119.10,476.36 118.03,477.12 117.10,477.12 C116.17,477.12 115.10,476.36 114.30,474.56 C113.50,472.77 112.80,469.27 112.30,466.36 C111.80,463.46 111.43,459.87 111.30,457.14 C111.17,454.40 111.23,452.18 111.50,449.96 C111.77,447.74 111.97,445.01 112.90,443.81 Z" fill="#f6ac28"/>
<path d="M114.10,447.91 C114.80,446.55 116.10,446.89 117.10,446.89 C118.10,446.89 119.40,446.55 120.10,447.91 C120.80,449.28 121.13,452.70 121.30,455.09 C121.47,457.48 121.33,459.87 121.10,462.26 C120.87,464.65 120.57,467.81 119.90,469.44 C119.23,471.06 118.03,472.00 117.10,472.00 C116.17,472.00 114.97,471.06 114.30,469.44 C113.63,467.81 113.33,464.65 113.10,462.26 C112.87,459.87 112.73,457.48 112.90,455.09 C113.07,452.70 113.40,449.28 114.10,447.91 Z" fill="#f8d03c"/>
<ellipse cx="117.10" cy="439.70" rx="6" ry="2.5" fill="#c83a60" opacity="0.7"/>
</g>
</g>
<defs><clipPath id="tc13"><rect x="134.60" y="432.20" width="33.0" height="51.3"/></clipPath></defs>
<g clip-path="url(#tc13)">
<rect x="134.60" y="432.20" width="33.00" height="51.30" fill="#341090" />
<g filter="url(#tblur2)">
<rect x="131.60" y="429.20" width="39.0" height="8" fill="#8a1a98"/>
<ellipse cx="151.60" cy="436.20" rx="10" ry="5" fill="#b02288"/>
<rect x="134.60" y="475.50" width="33.0" height="8" fill="#4a148e"/>
</g>
<g filter="url(#tblur)">
<path d="M145.60,437.79 C146.85,436.07 149.60,436.70 151.60,436.70 C153.60,436.70 156.35,436.07 157.60,437.79 C158.85,439.51 158.80,444.04 159.10,447.03 C159.40,450.02 159.55,452.65 159.40,455.73 C159.25,458.81 158.78,462.17 158.20,465.52 C157.62,468.87 157.00,473.40 155.90,475.85 C154.80,478.30 153.03,480.20 151.60,480.20 C150.17,480.20 148.40,478.30 147.30,475.85 C146.20,473.40 145.58,468.87 145.00,465.52 C144.42,462.17 143.95,458.81 143.80,455.73 C143.65,452.65 143.80,450.02 144.10,447.03 C144.40,444.04 144.35,439.51 145.60,437.79 Z" fill="#ee6626"/>
<path d="M147.40,441.59 C148.33,440.32 150.20,440.51 151.60,440.51 C153.00,440.51 154.87,440.32 155.80,441.59 C156.73,442.86 156.93,445.76 157.20,448.12 C157.47,450.47 157.53,452.83 157.40,455.73 C157.27,458.63 156.90,462.44 156.40,465.52 C155.90,468.60 155.20,472.32 154.40,474.22 C153.60,476.12 152.53,476.94 151.60,476.94 C150.67,476.94 149.60,476.12 148.80,474.22 C148.00,472.32 147.30,468.60 146.80,465.52 C146.30,462.44 145.93,458.63 145.80,455.73 C145.67,452.83 145.73,450.47 146.00,448.12 C146.27,445.76 146.47,442.86 147.40,441.59 Z" fill="#f6be2a"/>
<path d="M148.60,445.94 C149.30,444.49 150.60,444.86 151.60,444.86 C152.60,444.86 153.90,444.49 154.60,445.94 C155.30,447.39 155.63,451.02 155.80,453.56 C155.97,456.09 155.83,458.63 155.60,461.17 C155.37,463.71 155.07,467.06 154.40,468.78 C153.73,470.50 152.53,471.50 151.60,471.50 C150.67,471.50 149.47,470.50 148.80,468.78 C148.13,467.06 147.83,463.71 147.60,461.17 C147.37,458.63 147.23,456.09 147.40,453.56 C147.57,451.02 147.90,447.39 148.60,445.94 Z" fill="#f8dc48"/>
<ellipse cx="152.60" cy="457.20" rx="2.6" ry="3.8" fill="#fff0b8"/>
<ellipse cx="151.60" cy="437.20" rx="6" ry="2.5" fill="#c83a60" opacity="0.7"/>
</g>
</g>
<defs><clipPath id="tc20"><rect x="28.80" y="485.90" width="33.0" height="51.3"/></clipPath></defs>
<g clip-path="url(#tc20)">
<rect x="28.80" y="485.90" width="33.00" height="51.30" fill="#7e1c9e" />
<g filter="url(#tblur2)">
<rect x="26.80" y="483.90" width="37.0" height="12" fill="#9a1e9c"/>
<rect x="24.80" y="495.90" width="8.5" height="51.3" fill="#5c1a98"/>
<rect x="56.80" y="495.90" width="8.5" height="51.3" fill="#5c1a98"/>
<path d="M38.80,495.9 L52.80,495.9 L51.80,537.1999999999999 L39.80,537.1999999999999 Z" fill="#a4209a"/>
</g>
</g>
<defs><clipPath id="tc21"><rect x="64.10" y="485.90" width="33.0" height="51.3"/></clipPath></defs>
<g clip-path="url(#tc21)">
<rect x="64.10" y="485.90" width="33.00" height="51.30" fill="#7e1c9e" />
<g filter="url(#tblur2)">
<rect x="62.10" y="483.90" width="37.0" height="12" fill="#9a1e9c"/>
<rect x="60.10" y="495.90" width="8.5" height="51.3" fill="#5c1a98"/>
<rect x="92.10" y="495.90" width="8.5" height="51.3" fill="#5c1a98"/>
<path d="M74.10,495.9 L88.10,495.9 L87.10,537.1999999999999 L75.10,537.1999999999999 Z" fill="#a4209a"/>
</g>
</g>
<defs><clipPath id="tc22"><rect x="99.30" y="485.90" width="33.0" height="51.3"/></clipPath></defs>
<g clip-path="url(#tc22)">
<rect x="99.30" y="485.90" width="33.00" height="51.30" fill="#7e1c9e" />
<g filter="url(#tblur2)">
<rect x="97.30" y="483.90" width="37.0" height="12" fill="#9a1e9c"/>
<rect x="95.30" y="495.90" width="8.5" height="51.3" fill="#5c1a98"/>
<rect x="127.30" y="495.90" width="8.5" height="51.3" fill="#5c1a98"/>
<path d="M109.30,495.9 L123.30,495.9 L122.30,537.1999999999999 L110.30,537.1999999999999 Z" fill="#a4209a"/>
<ellipse cx="116.30" cy="529.90" rx="5" ry="5" fill="#c23480"/>
</g>
</g>
<defs><clipPath id="tc23"><rect x="134.60" y="485.90" width="33.0" height="51.3"/></clipPath></defs>
<g clip-path="url(#tc23)">
<rect x="134.60" y="485.90" width="33.00" height="51.30" fill="#7e1c9e" />
<g filter="url(#tblur2)">
<rect x="132.60" y="483.90" width="37.0" height="12" fill="#9a1e9c"/>
<rect x="130.60" y="495.90" width="8.5" height="51.3" fill="#5c1a98"/>
<rect x="162.60" y="495.90" width="8.5" height="51.3" fill="#5c1a98"/>
<path d="M145.60,495.9 L159.60,495.9 L158.60,537.1999999999999 L146.60,537.1999999999999 Z" fill="#b02296"/>
<ellipse cx="154.60" cy="523.90" rx="6" ry="9" fill="#c8387c"/>
</g>
</g>
<defs><clipPath id="tc30"><rect x="28.80" y="545.10" width="33.0" height="51.3"/></clipPath></defs>
<g clip-path="url(#tc30)">
<rect x="28.80" y="545.10" width="33.00" height="51.30" fill="#341090" />
<g filter="url(#tblur2)">
<rect x="25.80" y="549.10" width="39.0" height="11" fill="#a01c92"/>
<ellipse cx="45.30" cy="553.10" rx="9" ry="6" fill="#c02a84"/>
<rect x="28.80" y="588.40" width="33.0" height="8" fill="#4a148e"/>
</g>
<g filter="url(#tblur)">
<path d="M39.30,554.59 C40.55,553.02 43.30,553.60 45.30,553.60 C47.30,553.60 50.05,553.02 51.30,554.59 C52.55,556.15 52.50,560.27 52.80,562.98 C53.10,565.70 53.25,568.08 53.10,570.88 C52.95,573.68 52.48,576.72 51.90,579.77 C51.32,582.81 50.70,586.93 49.60,589.15 C48.50,591.37 46.73,593.10 45.30,593.10 C43.87,593.10 42.10,591.37 41.00,589.15 C39.90,586.93 39.28,582.81 38.70,579.77 C38.12,576.72 37.65,573.68 37.50,570.88 C37.35,568.08 37.50,565.70 37.80,562.98 C38.10,560.27 38.05,556.15 39.30,554.59 Z" fill="#ee6626"/>
<path d="M41.10,558.04 C42.03,556.89 43.90,557.06 45.30,557.06 C46.70,557.06 48.57,556.89 49.50,558.04 C50.43,559.20 50.63,561.83 50.90,563.97 C51.17,566.11 51.23,568.25 51.10,570.88 C50.97,573.51 50.60,576.97 50.10,579.77 C49.60,582.57 48.90,585.94 48.10,587.67 C47.30,589.40 46.23,590.14 45.30,590.14 C44.37,590.14 43.30,589.40 42.50,587.67 C41.70,585.94 41.00,582.57 40.50,579.77 C40.00,576.97 39.63,573.51 39.50,570.88 C39.37,568.25 39.43,566.11 39.70,563.97 C39.97,561.83 40.17,559.20 41.10,558.04 Z" fill="#f6be2a"/>
<path d="M42.30,561.99 C43.00,560.68 44.30,561.01 45.30,561.01 C46.30,561.01 47.60,560.68 48.30,561.99 C49.00,563.31 49.33,566.60 49.50,568.91 C49.67,571.21 49.53,573.51 49.30,575.82 C49.07,578.12 48.77,581.17 48.10,582.73 C47.43,584.29 46.23,585.20 45.30,585.20 C44.37,585.20 43.17,584.29 42.50,582.73 C41.83,581.17 41.53,578.12 41.30,575.82 C41.07,573.51 40.93,571.21 41.10,568.91 C41.27,566.60 41.60,563.31 42.30,561.99 Z" fill="#f8dc48"/>
<ellipse cx="46.30" cy="570.10" rx="2.6" ry="3.8" fill="#fff0b8"/>
<ellipse cx="45.30" cy="554.10" rx="6" ry="2.5" fill="#c83a60" opacity="0.7"/>
</g>
</g>
<defs><clipPath id="tc31"><rect x="64.10" y="545.10" width="33.0" height="51.3"/></clipPath></defs>
<g clip-path="url(#tc31)">
<rect x="64.10" y="545.10" width="33.00" height="51.30" fill="#341090" />
<g filter="url(#tblur2)">
<rect x="61.10" y="549.10" width="39.0" height="11" fill="#a01c92"/>
<ellipse cx="80.90" cy="553.10" rx="9" ry="6" fill="#c02a84"/>
<rect x="64.10" y="588.40" width="33.0" height="8" fill="#4a148e"/>
</g>
<g filter="url(#tblur)">
<path d="M74.90,554.59 C76.15,553.02 78.90,553.60 80.90,553.60 C82.90,553.60 85.65,553.02 86.90,554.59 C88.15,556.15 88.10,560.27 88.40,562.98 C88.70,565.70 88.85,568.08 88.70,570.88 C88.55,573.68 88.08,576.72 87.50,579.77 C86.92,582.81 86.30,586.93 85.20,589.15 C84.10,591.37 82.33,593.10 80.90,593.10 C79.47,593.10 77.70,591.37 76.60,589.15 C75.50,586.93 74.88,582.81 74.30,579.77 C73.72,576.72 73.25,573.68 73.10,570.88 C72.95,568.08 73.10,565.70 73.40,562.98 C73.70,560.27 73.65,556.15 74.90,554.59 Z" fill="#ee6626"/>
<path d="M76.70,558.04 C77.63,556.89 79.50,557.06 80.90,557.06 C82.30,557.06 84.17,556.89 85.10,558.04 C86.03,559.20 86.23,561.83 86.50,563.97 C86.77,566.11 86.83,568.25 86.70,570.88 C86.57,573.51 86.20,576.97 85.70,579.77 C85.20,582.57 84.50,585.94 83.70,587.67 C82.90,589.40 81.83,590.14 80.90,590.14 C79.97,590.14 78.90,589.40 78.10,587.67 C77.30,585.94 76.60,582.57 76.10,579.77 C75.60,576.97 75.23,573.51 75.10,570.88 C74.97,568.25 75.03,566.11 75.30,563.97 C75.57,561.83 75.77,559.20 76.70,558.04 Z" fill="#f6be2a"/>
<path d="M77.90,561.99 C78.60,560.68 79.90,561.01 80.90,561.01 C81.90,561.01 83.20,560.68 83.90,561.99 C84.60,563.31 84.93,566.60 85.10,568.91 C85.27,571.21 85.13,573.51 84.90,575.82 C84.67,578.12 84.37,581.17 83.70,582.73 C83.03,584.29 81.83,585.20 80.90,585.20 C79.97,585.20 78.77,584.29 78.10,582.73 C77.43,581.17 77.13,578.12 76.90,575.82 C76.67,573.51 76.53,571.21 76.70,568.91 C76.87,566.60 77.20,563.31 77.90,561.99 Z" fill="#f8dc48"/>
<ellipse cx="81.90" cy="570.10" rx="2.6" ry="3.8" fill="#fff0b8"/>
<ellipse cx="80.90" cy="554.10" rx="6" ry="2.5" fill="#c83a60" opacity="0.7"/>
</g>
</g>
<defs><clipPath id="tc32"><rect x="99.30" y="545.10" width="33.0" height="51.3"/></clipPath></defs>
<g clip-path="url(#tc32)">
<rect x="99.30" y="545.10" width="33.00" height="51.30" fill="#341090" />
<g filter="url(#tblur2)">
<rect x="96.30" y="549.10" width="39.0" height="11" fill="#a01c92"/>
<ellipse cx="116.80" cy="553.10" rx="9" ry="6" fill="#c02a84"/>
<rect x="99.30" y="588.40" width="33.0" height="8" fill="#4a148e"/>
</g>
<g filter="url(#tblur)">
<path d="M110.80,554.59 C112.05,553.02 114.80,553.60 116.80,553.60 C118.80,553.60 121.55,553.02 122.80,554.59 C124.05,556.15 124.00,560.27 124.30,562.98 C124.60,565.70 124.75,568.08 124.60,570.88 C124.45,573.68 123.98,576.72 123.40,579.77 C122.82,582.81 122.20,586.93 121.10,589.15 C120.00,591.37 118.23,593.10 116.80,593.10 C115.37,593.10 113.60,591.37 112.50,589.15 C111.40,586.93 110.78,582.81 110.20,579.77 C109.62,576.72 109.15,573.68 109.00,570.88 C108.85,568.08 109.00,565.70 109.30,562.98 C109.60,560.27 109.55,556.15 110.80,554.59 Z" fill="#ee6626"/>
<path d="M112.60,558.04 C113.53,556.89 115.40,557.06 116.80,557.06 C118.20,557.06 120.07,556.89 121.00,558.04 C121.93,559.20 122.13,561.83 122.40,563.97 C122.67,566.11 122.73,568.25 122.60,570.88 C122.47,573.51 122.10,576.97 121.60,579.77 C121.10,582.57 120.40,585.94 119.60,587.67 C118.80,589.40 117.73,590.14 116.80,590.14 C115.87,590.14 114.80,589.40 114.00,587.67 C113.20,585.94 112.50,582.57 112.00,579.77 C111.50,576.97 111.13,573.51 111.00,570.88 C110.87,568.25 110.93,566.11 111.20,563.97 C111.47,561.83 111.67,559.20 112.60,558.04 Z" fill="#f6be2a"/>
<path d="M113.80,561.99 C114.50,560.68 115.80,561.01 116.80,561.01 C117.80,561.01 119.10,560.68 119.80,561.99 C120.50,563.31 120.83,566.60 121.00,568.91 C121.17,571.21 121.03,573.51 120.80,575.82 C120.57,578.12 120.27,581.17 119.60,582.73 C118.93,584.29 117.73,585.20 116.80,585.20 C115.87,585.20 114.67,584.29 114.00,582.73 C113.33,581.17 113.03,578.12 112.80,575.82 C112.57,573.51 112.43,571.21 112.60,568.91 C112.77,566.60 113.10,563.31 113.80,561.99 Z" fill="#f8dc48"/>
<ellipse cx="117.80" cy="570.10" rx="2.6" ry="3.8" fill="#fff0b8"/>
<ellipse cx="116.80" cy="554.10" rx="6" ry="2.5" fill="#c83a60" opacity="0.7"/>
</g>
</g>
<defs><clipPath id="tc33"><rect x="134.60" y="545.10" width="33.0" height="51.3"/></clipPath></defs>
<g clip-path="url(#tc33)">
<rect x="134.60" y="545.10" width="33.00" height="51.30" fill="#341090" />
<g filter="url(#tblur2)">
<rect x="131.60" y="549.10" width="39.0" height="11" fill="#a01c92"/>
<ellipse cx="151.60" cy="553.10" rx="9" ry="6" fill="#c02a84"/>
<rect x="134.60" y="588.40" width="33.0" height="8" fill="#4a148e"/>
</g>
<g filter="url(#tblur)">
<path d="M145.60,554.59 C146.85,553.02 149.60,553.60 151.60,553.60 C153.60,553.60 156.35,553.02 157.60,554.59 C158.85,556.15 158.80,560.27 159.10,562.98 C159.40,565.70 159.55,568.08 159.40,570.88 C159.25,573.68 158.78,576.72 158.20,579.77 C157.62,582.81 157.00,586.93 155.90,589.15 C154.80,591.37 153.03,593.10 151.60,593.10 C150.17,593.10 148.40,591.37 147.30,589.15 C146.20,586.93 145.58,582.81 145.00,579.77 C144.42,576.72 143.95,573.68 143.80,570.88 C143.65,568.08 143.80,565.70 144.10,562.98 C144.40,560.27 144.35,556.15 145.60,554.59 Z" fill="#ee6626"/>
<path d="M147.40,558.04 C148.33,556.89 150.20,557.06 151.60,557.06 C153.00,557.06 154.87,556.89 155.80,558.04 C156.73,559.20 156.93,561.83 157.20,563.97 C157.47,566.11 157.53,568.25 157.40,570.88 C157.27,573.51 156.90,576.97 156.40,579.77 C155.90,582.57 155.20,585.94 154.40,587.67 C153.60,589.40 152.53,590.14 151.60,590.14 C150.67,590.14 149.60,589.40 148.80,587.67 C148.00,585.94 147.30,582.57 146.80,579.77 C146.30,576.97 145.93,573.51 145.80,570.88 C145.67,568.25 145.73,566.11 146.00,563.97 C146.27,561.83 146.47,559.20 147.40,558.04 Z" fill="#f6be2a"/>
<path d="M148.60,561.99 C149.30,560.68 150.60,561.01 151.60,561.01 C152.60,561.01 153.90,560.68 154.60,561.99 C155.30,563.31 155.63,566.60 155.80,568.91 C155.97,571.21 155.83,573.51 155.60,575.82 C155.37,578.12 155.07,581.17 154.40,582.73 C153.73,584.29 152.53,585.20 151.60,585.20 C150.67,585.20 149.47,584.29 148.80,582.73 C148.13,581.17 147.83,578.12 147.60,575.82 C147.37,573.51 147.23,571.21 147.40,568.91 C147.57,566.60 147.90,563.31 148.60,561.99 Z" fill="#f8dc48"/>
<ellipse cx="152.60" cy="570.10" rx="2.6" ry="3.8" fill="#fff0b8"/>
<ellipse cx="151.60" cy="554.10" rx="6" ry="2.5" fill="#c83a60" opacity="0.7"/>
</g>
</g>
<defs><clipPath id="tc40"><rect x="28.80" y="598.60" width="33.0" height="51.3"/></clipPath></defs>
<g clip-path="url(#tc40)">
<rect x="28.80" y="598.60" width="33.00" height="51.30" fill="#7a1c9e" />
<g filter="url(#tblur2)">
<rect x="26.80" y="596.60" width="37.0" height="11" fill="#b02a80"/>
<rect x="24.80" y="612.60" width="8" height="51.3" fill="#5e1a9c"/>
<rect x="56.80" y="612.60" width="8" height="51.3" fill="#5e1a9c"/>
<path d="M38.80,607.6 L52.80,607.6 L51.80,649.9 L39.80,649.9 Z" fill="#8e1e9e"/>
</g>
</g>
<defs><clipPath id="tc41"><rect x="64.10" y="598.60" width="33.0" height="51.3"/></clipPath></defs>
<g clip-path="url(#tc41)">
<rect x="64.10" y="598.60" width="33.00" height="51.30" fill="#7a1c9e" />
<g filter="url(#tblur2)">
<rect x="62.10" y="596.60" width="37.0" height="11" fill="#b02a80"/>
<rect x="60.10" y="612.60" width="8" height="51.3" fill="#5e1a9c"/>
<rect x="92.10" y="612.60" width="8" height="51.3" fill="#5e1a9c"/>
<path d="M74.10,607.6 L88.10,607.6 L87.10,649.9 L75.10,649.9 Z" fill="#8e1e9e"/>
</g>
</g>
<defs><clipPath id="tc42"><rect x="99.30" y="598.60" width="33.0" height="51.3"/></clipPath></defs>
<g clip-path="url(#tc42)">
<rect x="99.30" y="598.60" width="33.00" height="51.30" fill="#7a1c9e" />
<g filter="url(#tblur2)">
<rect x="97.30" y="596.60" width="37.0" height="11" fill="#8e1e9e"/>
<rect x="95.30" y="612.60" width="8" height="51.3" fill="#5e1a9c"/>
<rect x="127.30" y="612.60" width="8" height="51.3" fill="#5e1a9c"/>
<path d="M109.30,607.6 L123.30,607.6 L122.30,649.9 L110.30,649.9 Z" fill="#8e1e9e"/>
</g>
</g>
<defs><clipPath id="tc43"><rect x="134.60" y="598.60" width="33.0" height="51.3"/></clipPath></defs>
<g clip-path="url(#tc43)">
<rect x="134.60" y="598.60" width="33.00" height="51.30" fill="#7a1c9e" />
<g filter="url(#tblur2)">
<rect x="132.60" y="596.60" width="37.0" height="11" fill="#8e1e9e"/>
<rect x="130.60" y="612.60" width="8" height="51.3" fill="#5e1a9c"/>
<rect x="162.60" y="612.60" width="8" height="51.3" fill="#5e1a9c"/>
<path d="M144.60,607.6 L158.60,607.6 L157.60,649.9 L145.60,649.9 Z" fill="#8e1e9e"/>
</g>
</g>
<rect x="45.80" y="394.70" width="3.4" height="3.4" fill="#8a7a70" stroke="#6a8a5a" stroke-width="0.7"/>
<circle cx="47.50" cy="396.40" r="0.6" fill="#333"/>
<path d="M42.20,401.60 L46.60,401.60 M44.40,399.40 L44.40,403.80" stroke="#9a2030" stroke-width="0.9"/>
<circle cx="80.40" cy="396.70" r="2.1" fill="#96d850" opacity="0.9"/>
<path d="M83.40,399.20 L87.80,399.20 M85.60,397.00 L85.60,401.40" stroke="#9a2030" stroke-width="0.9"/>
<circle cx="113.50" cy="397.40" r="2.1" fill="#96d850" opacity="0.9"/>
<path d="M115.40,403.30 L119.80,403.30 M117.60,401.10 L117.60,405.50" stroke="#9a2030" stroke-width="0.9"/>
<circle cx="153.30" cy="400.90" r="2.1" fill="#96d850" opacity="0.9"/>
<path d="M147.30,403.70 L151.70,403.70 M149.50,401.50 L149.50,405.90" stroke="#9a2030" stroke-width="0.9"/>
<rect x="46.10" y="452.00" width="3.4" height="3.4" fill="#8a7a70" stroke="#6a8a5a" stroke-width="0.7"/>
<circle cx="47.80" cy="453.70" r="0.6" fill="#333"/>
<circle cx="80.40" cy="449.20" r="2.1" fill="#96d850" opacity="0.9"/>
<path d="M82.00,457.10 L86.40,457.10 M84.20,454.90 L84.20,459.30" stroke="#9a2030" stroke-width="0.9"/>
<circle cx="114.20" cy="449.90" r="2.1" fill="#96d850" opacity="0.9"/>
<path d="M116.50,451.90 L120.90,451.90 M118.70,449.70 L118.70,454.10" stroke="#9a2030" stroke-width="0.9"/>
<circle cx="149.50" cy="455.00" r="2.1" fill="#96d850" opacity="0.9"/>
<path d="M145.90,453.70 L150.30,453.70 M148.10,451.50 L148.10,455.90" stroke="#9a2030" stroke-width="0.9"/>
<rect x="41.60" y="502.50" width="3.4" height="3.4" fill="#8a7a70" stroke="#6a8a5a" stroke-width="0.7"/>
<circle cx="43.30" cy="504.20" r="0.6" fill="#333"/>
<rect x="78.50" y="505.70" width="3.4" height="3.4" fill="#8a7a70" stroke="#6a8a5a" stroke-width="0.7"/>
<circle cx="80.20" cy="507.40" r="0.6" fill="#333"/>
<rect x="115.30" y="506.70" width="3.4" height="3.4" fill="#8a7a70" stroke="#6a8a5a" stroke-width="0.7"/>
<circle cx="117.00" cy="508.40" r="0.6" fill="#333"/>
<rect x="146.40" y="507.70" width="3.4" height="3.4" fill="#8a7a70" stroke="#6a8a5a" stroke-width="0.7"/>
<circle cx="148.10" cy="509.40" r="0.6" fill="#333"/>
<path d="M153.60,525.00 L158.00,525.00 M155.80,522.80 L155.80,527.20" stroke="#9a2030" stroke-width="0.9"/>
<circle cx="45.10" cy="564.10" r="2.1" fill="#96d850" opacity="0.9"/>
<path d="M45.60,571.40 L50.00,571.40 M47.80,569.20 L47.80,573.60" stroke="#9a2030" stroke-width="0.9"/>
<circle cx="80.40" cy="563.40" r="2.1" fill="#96d850" opacity="0.9"/>
<path d="M80.90,571.40 L85.30,571.40 M83.10,569.20 L83.10,573.60" stroke="#9a2030" stroke-width="0.9"/>
<circle cx="117.00" cy="566.20" r="2.1" fill="#96d850" opacity="0.9"/>
<path d="M119.00,573.80 L123.40,573.80 M121.20,571.60 L121.20,576.00" stroke="#9a2030" stroke-width="0.9"/>
<circle cx="152.30" cy="567.90" r="2.1" fill="#96d850" opacity="0.9"/>
<path d="M150.10,572.80 L154.50,572.80 M152.30,570.60 L152.30,575.00" stroke="#9a2030" stroke-width="0.9"/>
<rect x="41.60" y="614.90" width="3.4" height="3.4" fill="#8a7a70" stroke="#6a8a5a" stroke-width="0.7"/>
<circle cx="43.30" cy="616.60" r="0.6" fill="#333"/>
<rect x="80.70" y="618.00" width="3.4" height="3.4" fill="#8a7a70" stroke="#6a8a5a" stroke-width="0.7"/>
<circle cx="82.40" cy="619.70" r="0.6" fill="#333"/>
<rect x="115.90" y="623.60" width="3.4" height="3.4" fill="#8a7a70" stroke="#6a8a5a" stroke-width="0.7"/>
<circle cx="117.60" cy="625.30" r="0.6" fill="#333"/>
<rect x="147.40" y="621.80" width="3.4" height="3.4" fill="#8a7a70" stroke="#6a8a5a" stroke-width="0.7"/>
<circle cx="149.10" cy="623.50" r="0.6" fill="#333"/>
<rect x="180.8" y="416.8" width="13.6" height="198" fill="url(#cbar)" stroke="#4a2828" stroke-width="1"/>
<text x="173.00" y="391.40" font-size="10.8" font-weight="bold" text-anchor="start" fill="#000" >56.0 ℃</text>
<text x="173.00" y="647.50" font-size="10.8" font-weight="bold" text-anchor="start" fill="#000" >18.0 ℃</text>
<text x="28.80" y="667.30" font-size="10.1" font-weight="bold" text-anchor="start" fill="#000" textLength="31.8" lengthAdjust="spacingAndGlyphs">circle 1</text>
<text x="63.60" y="667.30" font-size="10.1" font-weight="bold" text-anchor="start" fill="#000" textLength="31.8" lengthAdjust="spacingAndGlyphs">circle 2</text>
<text x="99.30" y="667.30" font-size="10.1" font-weight="bold" text-anchor="start" fill="#000" textLength="31.8" lengthAdjust="spacingAndGlyphs">circle 3</text>
<text x="133.80" y="667.30" font-size="10.1" font-weight="bold" text-anchor="start" fill="#000" textLength="31.8" lengthAdjust="spacingAndGlyphs">circle 4</text>
<text x="209.50" y="377.50" font-size="21" font-weight="bold" text-anchor="start" fill="#000" >i</text>
<defs><linearGradient id="capg" x1="0" y1="0" x2="0" y2="1"><stop offset="0" stop-color="#2c3278"/><stop offset="0.3" stop-color="#272d70"/><stop offset="1" stop-color="#1e2462"/></linearGradient><linearGradient id="l1" x1="0" y1="0" x2="0" y2="1"><stop offset="0" stop-color="#a87070"/><stop offset="0.1" stop-color="#e2a4a6"/><stop offset="0.8" stop-color="#e0a2a4"/><stop offset="0.92" stop-color="#c89090"/><stop offset="1" stop-color="#d8b0b0"/></linearGradient><linearGradient id="l2" x1="0" y1="0" x2="0" y2="1"><stop offset="0" stop-color="#8a5a48"/><stop offset="0.1" stop-color="#d8946e"/><stop offset="0.8" stop-color="#d6906a"/><stop offset="0.92" stop-color="#b88068"/><stop offset="1" stop-color="#d0a890"/></linearGradient><linearGradient id="l3" x1="0" y1="0" x2="0" y2="1"><stop offset="0" stop-color="#982848"/><stop offset="0.1" stop-color="#e0446e"/><stop offset="0.8" stop-color="#dc406a"/><stop offset="0.92" stop-color="#c04068"/><stop offset="1" stop-color="#d890a8"/></linearGradient><linearGradient id="glass" x1="0" y1="0" x2="1" y2="0"><stop offset="0" stop-color="#c4c4c4"/><stop offset="0.15" stop-color="#e6e6e6"/><stop offset="0.85" stop-color="#e2e2e2"/><stop offset="1" stop-color="#c0c0c0"/></linearGradient><linearGradient id="vbg" x1="0" y1="0" x2="0" y2="1"><stop offset="0" stop-color="#c2c4c8"/><stop offset="0.5" stop-color="#c8c8ca"/><stop offset="1" stop-color="#dadada"/></linearGradient><filter id="vblur" x="-10%" y="-10%" width="120%" height="120%"><feGaussianBlur stdDeviation="0.5"/></filter></defs>
<text x="266.20" y="371.20" font-size="12.2" font-weight="bold" text-anchor="middle" fill="#000" >0 h</text>
<g filter="url(#vblur)">
<rect x="227.80" y="374.00" width="75.80" height="65.00" fill="url(#vbg)" />
<path d="M233.80,389.00 L248.00,389.00 L248.50,393.00 Q251.00,396.00 251.00,400.00 L251.00,437.00 Q240.90,438.50 230.80,437.00 L230.80,400.00 Q230.80,396.00 233.30,393.00 Z" fill="url(#glass)"/>
<path d="M235.80,395.00 Q240.90,393.00 246.00,395.00" stroke="#f4f4f4" stroke-width="0.8" fill="none"/>
<path d="M231.20,411.00 Q240.90,409.00 250.60,411.00 L250.60,437.20 Q240.90,438.60 231.20,437.20 Z" fill="url(#l1)"/>
<rect x="230.80" y="375.50" width="20.20" height="13.20" rx="1.5" fill="url(#capg)"/>
<ellipse cx="240.90" cy="377.60" rx="8.90" ry="2.2" fill="#46508c"/>
<ellipse cx="240.90" cy="377.90" rx="6.90" ry="1.4" fill="#1e245c"/>
<path d="M259.00,389.00 L273.50,389.00 L274.00,393.00 Q276.50,396.00 276.50,400.00 L276.50,437.00 Q266.25,438.50 256.00,437.00 L256.00,400.00 Q256.00,396.00 258.50,393.00 Z" fill="url(#glass)"/>
<path d="M261.00,395.00 Q266.25,393.00 271.50,395.00" stroke="#f4f4f4" stroke-width="0.8" fill="none"/>
<path d="M256.40,411.00 Q266.25,409.00 276.10,411.00 L276.10,437.20 Q266.25,438.60 256.40,437.20 Z" fill="url(#l2)"/>
<rect x="256.00" y="375.50" width="20.50" height="13.20" rx="1.5" fill="url(#capg)"/>
<ellipse cx="266.25" cy="377.60" rx="9.05" ry="2.2" fill="#46508c"/>
<ellipse cx="266.25" cy="377.90" rx="7.05" ry="1.4" fill="#1e245c"/>
<path d="M283.50,389.00 L298.00,389.00 L298.50,393.00 Q301.00,396.00 301.00,400.00 L301.00,437.00 Q290.75,438.50 280.50,437.00 L280.50,400.00 Q280.50,396.00 283.00,393.00 Z" fill="url(#glass)"/>
<path d="M285.50,395.00 Q290.75,393.00 296.00,395.00" stroke="#f4f4f4" stroke-width="0.8" fill="none"/>
<path d="M280.90,411.00 Q290.75,409.00 300.60,411.00 L300.60,437.20 Q290.75,438.60 280.90,437.20 Z" fill="url(#l3)"/>
<rect x="280.50" y="375.50" width="20.50" height="13.20" rx="1.5" fill="url(#capg)"/>
<ellipse cx="290.75" cy="377.60" rx="9.05" ry="2.2" fill="#46508c"/>
<ellipse cx="290.75" cy="377.90" rx="7.05" ry="1.4" fill="#1e245c"/>
</g>
<text x="240.90" y="409.20" font-size="11.6" font-weight="bold" text-anchor="middle" fill="#000" >1</text>
<text x="266.25" y="409.20" font-size="11.6" font-weight="bold" text-anchor="middle" fill="#000" >2</text>
<text x="290.75" y="409.20" font-size="11.6" font-weight="bold" text-anchor="middle" fill="#000" >3</text>
<text x="352.10" y="371.20" font-size="12.2" font-weight="bold" text-anchor="middle" fill="#000" >6 h</text>
<g filter="url(#vblur)">
<rect x="313.70" y="374.00" width="75.80" height="65.00" fill="url(#vbg)" />
<path d="M319.70,389.00 L333.90,389.00 L334.40,393.00 Q336.90,396.00 336.90,400.00 L336.90,437.00 Q326.80,438.50 316.70,437.00 L316.70,400.00 Q316.70,396.00 319.20,393.00 Z" fill="url(#glass)"/>
<path d="M321.70,395.00 Q326.80,393.00 331.90,395.00" stroke="#f4f4f4" stroke-width="0.8" fill="none"/>
<path d="M317.10,411.00 Q326.80,409.00 336.50,411.00 L336.50,437.20 Q326.80,438.60 317.10,437.20 Z" fill="url(#l1)"/>
<rect x="316.70" y="375.50" width="20.20" height="13.20" rx="1.5" fill="url(#capg)"/>
<ellipse cx="326.80" cy="377.60" rx="8.90" ry="2.2" fill="#46508c"/>
<ellipse cx="326.80" cy="377.90" rx="6.90" ry="1.4" fill="#1e245c"/>
<path d="M344.90,389.00 L359.40,389.00 L359.90,393.00 Q362.40,396.00 362.40,400.00 L362.40,437.00 Q352.15,438.50 341.90,437.00 L341.90,400.00 Q341.90,396.00 344.40,393.00 Z" fill="url(#glass)"/>
<path d="M346.90,395.00 Q352.15,393.00 357.40,395.00" stroke="#f4f4f4" stroke-width="0.8" fill="none"/>
<path d="M342.30,411.00 Q352.15,409.00 362.00,411.00 L362.00,437.20 Q352.15,438.60 342.30,437.20 Z" fill="url(#l2)"/>
<rect x="341.90" y="375.50" width="20.50" height="13.20" rx="1.5" fill="url(#capg)"/>
<ellipse cx="352.15" cy="377.60" rx="9.05" ry="2.2" fill="#46508c"/>
<ellipse cx="352.15" cy="377.90" rx="7.05" ry="1.4" fill="#1e245c"/>
<path d="M369.40,389.00 L383.90,389.00 L384.40,393.00 Q386.90,396.00 386.90,400.00 L386.90,437.00 Q376.65,438.50 366.40,437.00 L366.40,400.00 Q366.40,396.00 368.90,393.00 Z" fill="url(#glass)"/>
<path d="M371.40,395.00 Q376.65,393.00 381.90,395.00" stroke="#f4f4f4" stroke-width="0.8" fill="none"/>
<path d="M366.80,411.00 Q376.65,409.00 386.50,411.00 L386.50,437.20 Q376.65,438.60 366.80,437.20 Z" fill="url(#l3)"/>
<rect x="366.40" y="375.50" width="20.50" height="13.20" rx="1.5" fill="url(#capg)"/>
<ellipse cx="376.65" cy="377.60" rx="9.05" ry="2.2" fill="#46508c"/>
<ellipse cx="376.65" cy="377.90" rx="7.05" ry="1.4" fill="#1e245c"/>
</g>
<text x="326.80" y="409.20" font-size="11.6" font-weight="bold" text-anchor="middle" fill="#000" >1</text>
<text x="352.15" y="409.20" font-size="11.6" font-weight="bold" text-anchor="middle" fill="#000" >2</text>
<text x="376.65" y="409.20" font-size="11.6" font-weight="bold" text-anchor="middle" fill="#000" >3</text>
<text x="266.20" y="451.20" font-size="12.2" font-weight="bold" text-anchor="middle" fill="#000" >12 h</text>
<g filter="url(#vblur)">
<rect x="227.80" y="454.00" width="75.80" height="65.00" fill="url(#vbg)" />
<path d="M233.80,469.00 L248.00,469.00 L248.50,473.00 Q251.00,476.00 251.00,480.00 L251.00,517.00 Q240.90,518.50 230.80,517.00 L230.80,480.00 Q230.80,476.00 233.30,473.00 Z" fill="url(#glass)"/>
<path d="M235.80,475.00 Q240.90,473.00 246.00,475.00" stroke="#f4f4f4" stroke-width="0.8" fill="none"/>
<path d="M231.20,491.00 Q240.90,489.00 250.60,491.00 L250.60,517.20 Q240.90,518.60 231.20,517.20 Z" fill="url(#l1)"/>
<rect x="230.80" y="455.50" width="20.20" height="13.20" rx="1.5" fill="url(#capg)"/>
<ellipse cx="240.90" cy="457.60" rx="8.90" ry="2.2" fill="#46508c"/>
<ellipse cx="240.90" cy="457.90" rx="6.90" ry="1.4" fill="#1e245c"/>
<path d="M259.00,469.00 L273.50,469.00 L274.00,473.00 Q276.50,476.00 276.50,480.00 L276.50,517.00 Q266.25,518.50 256.00,517.00 L256.00,480.00 Q256.00,476.00 258.50,473.00 Z" fill="url(#glass)"/>
<path d="M261.00,475.00 Q266.25,473.00 271.50,475.00" stroke="#f4f4f4" stroke-width="0.8" fill="none"/>
<path d="M256.40,491.00 Q266.25,489.00 276.10,491.00 L276.10,517.20 Q266.25,518.60 256.40,517.20 Z" fill="url(#l2)"/>
<rect x="256.00" y="455.50" width="20.50" height="13.20" rx="1.5" fill="url(#capg)"/>
<ellipse cx="266.25" cy="457.60" rx="9.05" ry="2.2" fill="#46508c"/>
<ellipse cx="266.25" cy="457.90" rx="7.05" ry="1.4" fill="#1e245c"/>
<path d="M283.50,469.00 L298.00,469.00 L298.50,473.00 Q301.00,476.00 301.00,480.00 L301.00,517.00 Q290.75,518.50 280.50,517.00 L280.50,480.00 Q280.50,476.00 283.00,473.00 Z" fill="url(#glass)"/>
<path d="M285.50,475.00 Q290.75,473.00 296.00,475.00" stroke="#f4f4f4" stroke-width="0.8" fill="none"/>
<path d="M280.90,491.00 Q290.75,489.00 300.60,491.00 L300.60,517.20 Q290.75,518.60 280.90,517.20 Z" fill="url(#l3)"/>
<rect x="280.50" y="455.50" width="20.50" height="13.20" rx="1.5" fill="url(#capg)"/>
<ellipse cx="290.75" cy="457.60" rx="9.05" ry="2.2" fill="#46508c"/>
<ellipse cx="290.75" cy="457.90" rx="7.05" ry="1.4" fill="#1e245c"/>
</g>
<text x="240.90" y="489.20" font-size="11.6" font-weight="bold" text-anchor="middle" fill="#000" >1</text>
<text x="266.25" y="489.20" font-size="11.6" font-weight="bold" text-anchor="middle" fill="#000" >2</text>
<text x="290.75" y="489.20" font-size="11.6" font-weight="bold" text-anchor="middle" fill="#000" >3</text>
<text x="352.10" y="451.20" font-size="12.2" font-weight="bold" text-anchor="middle" fill="#000" >24 h</text>
<g filter="url(#vblur)">
<rect x="313.70" y="454.00" width="75.80" height="65.00" fill="url(#vbg)" />
<path d="M319.70,469.00 L333.90,469.00 L334.40,473.00 Q336.90,476.00 336.90,480.00 L336.90,517.00 Q326.80,518.50 316.70,517.00 L316.70,480.00 Q316.70,476.00 319.20,473.00 Z" fill="url(#glass)"/>
<path d="M321.70,475.00 Q326.80,473.00 331.90,475.00" stroke="#f4f4f4" stroke-width="0.8" fill="none"/>
<path d="M317.10,491.00 Q326.80,489.00 336.50,491.00 L336.50,517.20 Q326.80,518.60 317.10,517.20 Z" fill="url(#l1)"/>
<rect x="316.70" y="455.50" width="20.20" height="13.20" rx="1.5" fill="url(#capg)"/>
<ellipse cx="326.80" cy="457.60" rx="8.90" ry="2.2" fill="#46508c"/>
<ellipse cx="326.80" cy="457.90" rx="6.90" ry="1.4" fill="#1e245c"/>
<path d="M344.90,469.00 L359.40,469.00 L359.90,473.00 Q362.40,476.00 362.40,480.00 L362.40,517.00 Q352.15,518.50 341.90,517.00 L341.90,480.00 Q341.90,476.00 344.40,473.00 Z" fill="url(#glass)"/>
<path d="M346.90,475.00 Q352.15,473.00 357.40,475.00" stroke="#f4f4f4" stroke-width="0.8" fill="none"/>
<path d="M342.30,491.00 Q352.15,489.00 362.00,491.00 L362.00,517.20 Q352.15,518.60 342.30,517.20 Z" fill="url(#l2)"/>
<rect x="341.90" y="455.50" width="20.50" height="13.20" rx="1.5" fill="url(#capg)"/>
<ellipse cx="352.15" cy="457.60" rx="9.05" ry="2.2" fill="#46508c"/>
<ellipse cx="352.15" cy="457.90" rx="7.05" ry="1.4" fill="#1e245c"/>
<path d="M369.40,469.00 L383.90,469.00 L384.40,473.00 Q386.90,476.00 386.90,480.00 L386.90,517.00 Q376.65,518.50 366.40,517.00 L366.40,480.00 Q366.40,476.00 368.90,473.00 Z" fill="url(#glass)"/>
<path d="M371.40,475.00 Q376.65,473.00 381.90,475.00" stroke="#f4f4f4" stroke-width="0.8" fill="none"/>
<path d="M366.80,491.00 Q376.65,489.00 386.50,491.00 L386.50,517.20 Q376.65,518.60 366.80,517.20 Z" fill="url(#l3)"/>
<rect x="366.40" y="455.50" width="20.50" height="13.20" rx="1.5" fill="url(#capg)"/>
<ellipse cx="376.65" cy="457.60" rx="9.05" ry="2.2" fill="#46508c"/>
<ellipse cx="376.65" cy="457.90" rx="7.05" ry="1.4" fill="#1e245c"/>
</g>
<text x="326.80" y="489.20" font-size="11.6" font-weight="bold" text-anchor="middle" fill="#000" >1</text>
<text x="352.15" y="489.20" font-size="11.6" font-weight="bold" text-anchor="middle" fill="#000" >2</text>
<text x="376.65" y="489.20" font-size="11.6" font-weight="bold" text-anchor="middle" fill="#000" >3</text>
<defs><filter id="gblur" x="-20%" y="-100%" width="140%" height="300%"><feGaussianBlur stdDeviation="1.5"/></filter><filter id="gnoise" x="0" y="0" width="100%" height="100%"><feTurbulence type="fractalNoise" baseFrequency="0.7" numOctaves="1" seed="5"/><feColorMatrix type="matrix" values="0 0 0 0 0.5  0 0 0 0 0.5  0 0 0 0 0.5  0 0 0 1.2 -0.45"/></filter></defs>
<text x="210.30" y="541.80" font-size="22" font-weight="bold" text-anchor="start" fill="#000" >j</text>
<text x="306.90" y="534.20" font-size="12.8" font-weight="bold" text-anchor="middle" fill="#000" >Free AP5</text>
<text x="235.80" y="546.40" font-size="11.2" font-weight="bold" text-anchor="middle" fill="#000" >0</text>
<text x="265.20" y="546.40" font-size="11.2" font-weight="bold" text-anchor="middle" fill="#000" >1</text>
<text x="292.90" y="546.40" font-size="11.2" font-weight="bold" text-anchor="middle" fill="#000" >2</text>
<text x="321.00" y="546.40" font-size="11.2" font-weight="bold" text-anchor="middle" fill="#000" >3</text>
<text x="348.80" y="546.40" font-size="11.2" font-weight="bold" text-anchor="middle" fill="#000" >4</text>
<text x="376.70" y="546.40" font-size="11.2" font-weight="bold" text-anchor="middle" fill="#000" >5 h</text>
<rect x="227.30" y="548.70" width="166.60" height="40.80" fill="#3d3d3d" />
<g filter="url(#gblur)">
<ellipse cx="239.50" cy="569.20" rx="11.00" ry="2.6" fill="#686868"/>
<ellipse cx="266.00" cy="569.20" rx="11.00" ry="2.6" fill="#5f5f5f"/>
<ellipse cx="293.50" cy="569.20" rx="11.00" ry="2.6" fill="#565656"/>
<ellipse cx="321.50" cy="569.20" rx="11.00" ry="2.6" fill="#474747"/>
<ellipse cx="348.50" cy="569.20" rx="11.00" ry="2.6" fill="#454545"/>
</g>
<rect x="227.30" y="548.70" width="166.60" height="40.80" filter="url(#gnoise)" opacity="0.12"/>
<text x="210.80" y="617.60" font-size="18" font-weight="bold" text-anchor="start" fill="#000" >k</text>
<text x="314.30" y="606.60" font-size="13.2" font-weight="bold" text-anchor="middle" fill="#000" >Detached AP5</text>
<text x="238.50" y="620.40" font-size="11.2" font-weight="bold" text-anchor="middle" fill="#000" >0</text>
<text x="266.00" y="620.40" font-size="11.2" font-weight="bold" text-anchor="middle" fill="#000" >6</text>
<text x="293.50" y="620.40" font-size="11.2" font-weight="bold" text-anchor="middle" fill="#000" >9</text>
<text x="320.50" y="620.40" font-size="11.2" font-weight="bold" text-anchor="middle" fill="#000" >12</text>
<text x="347.50" y="620.40" font-size="11.2" font-weight="bold" text-anchor="middle" fill="#000" >18</text>
<text x="375.00" y="620.40" font-size="11.2" font-weight="bold" text-anchor="middle" fill="#000" >24 h</text>
<rect x="227.00" y="622.00" width="167.00" height="40.80" fill="#3d3d3d" />
<g filter="url(#gblur)">
<ellipse cx="240.00" cy="643.00" rx="11.00" ry="2.6" fill="#525252"/>
<ellipse cx="266.50" cy="643.00" rx="11.00" ry="2.6" fill="#515151"/>
<ellipse cx="294.00" cy="643.00" rx="11.00" ry="2.6" fill="#515151"/>
<ellipse cx="321.00" cy="643.00" rx="11.00" ry="2.6" fill="#505050"/>
<ellipse cx="348.00" cy="643.00" rx="11.00" ry="2.6" fill="#4f4f4f"/>
<ellipse cx="375.00" cy="643.00" rx="11.00" ry="2.6" fill="#515151"/>
</g>
<rect x="227.00" y="622.00" width="167.00" height="40.80" filter="url(#gnoise)" opacity="0.12"/>
<text x="405.60" y="361.80" font-size="21" font-weight="bold" text-anchor="start" fill="#000" >l</text>
<path d="M437.00,482.00 L438.41,477.83 L439.83,473.82 L441.24,469.98 L442.66,466.29 L444.07,462.75 L445.49,459.34 L446.90,456.08 L448.31,452.94 L449.73,449.93 L451.14,447.04 L452.56,444.27 L453.97,441.61 L455.38,439.05 L456.80,436.60 L458.21,434.24 L459.63,431.98 L461.04,429.81 L462.46,427.72 L463.87,425.72 L465.28,423.80 L466.70,421.95 L468.11,420.18 L469.53,418.48 L470.94,416.85 L472.36,415.28 L473.77,413.78 L475.18,412.34 L476.60,410.95 L478.01,409.62 L479.43,408.34 L480.84,407.11 L482.25,405.94 L483.67,404.81 L485.08,403.72 L486.50,402.68 L487.91,401.68 L489.33,400.72 L490.74,399.80 L492.15,398.91 L493.57,398.06 L494.98,397.25 L496.40,396.46 L497.81,395.71 L499.22,394.99 L500.64,394.30 L502.05,393.63 L503.47,392.99 L504.88,392.38 L506.30,391.79 L507.71,391.23 L510.07,391.37 L512.42,391.52 L514.78,391.67 L517.14,391.82 L519.50,391.96 L521.85,392.11 L524.21,392.26 L526.57,392.41 L528.92,392.55 L531.28,392.70 L533.64,392.85 L535.99,393.00 L538.35,393.14 L540.71,393.29 L543.07,393.44 L545.42,393.59 L547.78,393.74 L550.14,393.88 L552.49,394.03 L554.85,394.18 L557.21,394.33 L559.56,394.47 L561.92,394.62 L564.28,394.77 L566.63,394.92 L568.99,395.06 L571.35,395.21 L573.71,395.36 L576.06,395.51 L578.42,395.65" stroke="#111111" stroke-width="1.25" fill="none" />
<path d="M437.00,482.00 L438.41,479.95 L439.83,477.95 L441.24,475.99 L442.66,474.07 L444.07,472.20 L445.49,470.37 L446.90,468.57 L448.31,466.82 L449.73,465.10 L451.14,463.43 L452.56,461.79 L453.97,460.18 L455.38,458.61 L456.80,457.08 L458.21,455.58 L459.63,454.11 L461.04,452.67 L462.46,451.27 L463.87,449.90 L465.28,448.55 L466.70,447.24 L468.11,445.95 L469.53,444.70 L470.94,443.47 L472.36,442.27 L473.77,441.09 L475.18,439.94 L476.60,438.81 L478.01,437.71 L479.43,436.64 L480.84,435.59 L482.25,434.56 L483.67,433.55 L485.08,432.57 L486.50,431.60 L487.91,430.66 L489.33,429.74 L490.74,428.84 L492.15,427.96 L493.57,427.10 L494.98,426.25 L496.40,425.43 L497.81,424.62 L499.22,423.83 L500.64,423.06 L502.05,422.31 L503.47,421.57 L504.88,420.85 L506.30,420.14 L507.71,419.45 L510.07,419.55 L512.42,419.64 L514.78,419.73 L517.14,419.82 L519.50,419.92 L521.85,420.01 L524.21,420.10 L526.57,420.19 L528.92,420.28 L531.28,420.38 L533.64,420.47 L535.99,420.56 L538.35,420.65 L540.71,420.75 L543.07,420.84 L545.42,420.93 L547.78,421.02 L550.14,421.12 L552.49,421.21 L554.85,421.30 L557.21,421.39 L559.56,421.48 L561.92,421.58 L564.28,421.67 L566.63,421.76 L568.99,421.85 L571.35,421.95 L573.71,422.04 L576.06,422.13 L578.42,422.22" stroke="#cc3a3a" stroke-width="1.25" fill="none" />
<path d="M437.00,482.00 L438.41,480.96 L439.83,479.93 L441.24,478.92 L442.66,477.92 L444.07,476.93 L445.49,475.95 L446.90,474.98 L448.31,474.03 L449.73,473.08 L451.14,472.15 L452.56,471.23 L453.97,470.32 L455.38,469.42 L456.80,468.53 L458.21,467.65 L459.63,466.78 L461.04,465.93 L462.46,465.08 L463.87,464.24 L465.28,463.42 L466.70,462.60 L468.11,461.79 L469.53,460.99 L470.94,460.20 L472.36,459.43 L473.77,458.66 L475.18,457.90 L476.60,457.14 L478.01,456.40 L479.43,455.67 L480.84,454.94 L482.25,454.23 L483.67,453.52 L485.08,452.82 L486.50,452.13 L487.91,451.45 L489.33,450.77 L490.74,450.11 L492.15,449.45 L493.57,448.80 L494.98,448.15 L496.40,447.52 L497.81,446.89 L499.22,446.27 L500.64,445.66 L502.05,445.05 L503.47,444.45 L504.88,443.86 L506.30,443.28 L507.71,442.70 L510.07,442.78 L512.42,442.85 L514.78,442.92 L517.14,443.00 L519.50,443.07 L521.85,443.14 L524.21,443.22 L526.57,443.29 L528.92,443.37 L531.28,443.44 L533.64,443.51 L535.99,443.59 L538.35,443.66 L540.71,443.73 L543.07,443.81 L545.42,443.88 L547.78,443.96 L550.14,444.03 L552.49,444.10 L554.85,444.18 L557.21,444.25 L559.56,444.33 L561.92,444.40 L564.28,444.47 L566.63,444.55 L568.99,444.62 L571.35,444.69 L573.71,444.77 L576.06,444.84 L578.42,444.92" stroke="#2a30b0" stroke-width="1.25" fill="none" />
<path d="M437.00,482.00 L438.41,481.24 L439.83,480.49 L441.24,479.74 L442.66,479.01 L444.07,478.29 L445.49,477.57 L446.90,476.86 L448.31,476.16 L449.73,475.47 L451.14,474.79 L452.56,474.11 L453.97,473.44 L455.38,472.79 L456.80,472.13 L458.21,471.49 L459.63,470.86 L461.04,470.23 L462.46,469.61 L463.87,468.99 L465.28,468.39 L466.70,467.79 L468.11,467.20 L469.53,466.61 L470.94,466.04 L472.36,465.47 L473.77,464.90 L475.18,464.35 L476.60,463.80 L478.01,463.25 L479.43,462.71 L480.84,462.18 L482.25,461.66 L483.67,461.14 L485.08,460.63 L486.50,460.12 L487.91,459.62 L489.33,459.13 L490.74,458.64 L492.15,458.16 L493.57,457.68 L494.98,457.21 L496.40,456.75 L497.81,456.29 L499.22,455.83 L500.64,455.38 L502.05,454.94 L503.47,454.50 L504.88,454.07 L506.30,453.64 L507.71,453.22 L510.07,453.25 L512.42,453.29 L514.78,453.33 L517.14,453.37 L519.50,453.40 L521.85,453.44 L524.21,453.48 L526.57,453.51 L528.92,453.55 L531.28,453.59 L533.64,453.62 L535.99,453.66 L538.35,453.70 L540.71,453.73 L543.07,453.77 L545.42,453.81 L547.78,453.85 L550.14,453.88 L552.49,453.92 L554.85,453.96 L557.21,453.99 L559.56,454.03 L561.92,454.07 L564.28,454.10 L566.63,454.14 L568.99,454.18 L571.35,454.21 L573.71,454.25 L576.06,454.29 L578.42,454.32" stroke="#d84ad8" stroke-width="1.25" fill="none" />
<rect x="430.80" y="370.60" width="159.20" height="117.80" fill="none" stroke="#000" stroke-width="1.7"/>
<line x1="428.30" y1="482.00" x2="430.80" y2="482.00" stroke="#000" stroke-width="1" />
<text x="427.60" y="485.00" font-size="8.4" font-weight="bold" text-anchor="end" fill="#000" >0.0</text>
<line x1="428.30" y1="470.93" x2="430.80" y2="470.93" stroke="#000" stroke-width="1" />
<text x="427.60" y="473.93" font-size="8.4" font-weight="bold" text-anchor="end" fill="#000" >0.2</text>
<line x1="428.30" y1="459.86" x2="430.80" y2="459.86" stroke="#000" stroke-width="1" />
<text x="427.60" y="462.86" font-size="8.4" font-weight="bold" text-anchor="end" fill="#000" >0.4</text>
<line x1="428.30" y1="448.79" x2="430.80" y2="448.79" stroke="#000" stroke-width="1" />
<text x="427.60" y="451.79" font-size="8.4" font-weight="bold" text-anchor="end" fill="#000" >0.6</text>
<line x1="428.30" y1="437.72" x2="430.80" y2="437.72" stroke="#000" stroke-width="1" />
<text x="427.60" y="440.72" font-size="8.4" font-weight="bold" text-anchor="end" fill="#000" >0.8</text>
<line x1="428.30" y1="426.65" x2="430.80" y2="426.65" stroke="#000" stroke-width="1" />
<text x="427.60" y="429.65" font-size="8.4" font-weight="bold" text-anchor="end" fill="#000" >1.0</text>
<line x1="428.30" y1="415.58" x2="430.80" y2="415.58" stroke="#000" stroke-width="1" />
<text x="427.60" y="418.58" font-size="8.4" font-weight="bold" text-anchor="end" fill="#000" >1.2</text>
<line x1="428.30" y1="404.51" x2="430.80" y2="404.51" stroke="#000" stroke-width="1" />
<text x="427.60" y="407.51" font-size="8.4" font-weight="bold" text-anchor="end" fill="#000" >1.4</text>
<line x1="428.30" y1="393.44" x2="430.80" y2="393.44" stroke="#000" stroke-width="1" />
<text x="427.60" y="396.44" font-size="8.4" font-weight="bold" text-anchor="end" fill="#000" >1.6</text>
<line x1="428.30" y1="382.37" x2="430.80" y2="382.37" stroke="#000" stroke-width="1" />
<text x="427.60" y="385.37" font-size="8.4" font-weight="bold" text-anchor="end" fill="#000" >1.8</text>
<line x1="428.30" y1="371.30" x2="430.80" y2="371.30" stroke="#000" stroke-width="1" />
<text x="427.60" y="374.30" font-size="8.4" font-weight="bold" text-anchor="end" fill="#000" >2.0</text>
<line x1="429.30" y1="476.46" x2="430.80" y2="476.46" stroke="#000" stroke-width="0.8" />
<line x1="429.30" y1="465.39" x2="430.80" y2="465.39" stroke="#000" stroke-width="0.8" />
<line x1="429.30" y1="454.32" x2="430.80" y2="454.32" stroke="#000" stroke-width="0.8" />
<line x1="429.30" y1="443.25" x2="430.80" y2="443.25" stroke="#000" stroke-width="0.8" />
<line x1="429.30" y1="432.19" x2="430.80" y2="432.19" stroke="#000" stroke-width="0.8" />
<line x1="429.30" y1="421.12" x2="430.80" y2="421.12" stroke="#000" stroke-width="0.8" />
<line x1="429.30" y1="410.05" x2="430.80" y2="410.05" stroke="#000" stroke-width="0.8" />
<line x1="429.30" y1="398.98" x2="430.80" y2="398.98" stroke="#000" stroke-width="0.8" />
<line x1="429.30" y1="387.90" x2="430.80" y2="387.90" stroke="#000" stroke-width="0.8" />
<line x1="429.30" y1="376.84" x2="430.80" y2="376.84" stroke="#000" stroke-width="0.8" />
<line x1="437.00" y1="488.40" x2="437.00" y2="490.90" stroke="#000" stroke-width="1" />
<text x="437.00" y="499.10" font-size="8.4" font-weight="bold" text-anchor="middle" fill="#000" >0</text>
<line x1="460.57" y1="488.40" x2="460.57" y2="490.90" stroke="#000" stroke-width="1" />
<text x="460.57" y="499.10" font-size="8.4" font-weight="bold" text-anchor="middle" fill="#000" >100</text>
<line x1="484.14" y1="488.40" x2="484.14" y2="490.90" stroke="#000" stroke-width="1" />
<text x="484.14" y="499.10" font-size="8.4" font-weight="bold" text-anchor="middle" fill="#000" >200</text>
<line x1="507.71" y1="488.40" x2="507.71" y2="490.90" stroke="#000" stroke-width="1" />
<text x="507.71" y="499.10" font-size="8.4" font-weight="bold" text-anchor="middle" fill="#000" >300</text>
<line x1="531.28" y1="488.40" x2="531.28" y2="490.90" stroke="#000" stroke-width="1" />
<text x="531.28" y="499.10" font-size="8.4" font-weight="bold" text-anchor="middle" fill="#000" >400</text>
<line x1="554.85" y1="488.40" x2="554.85" y2="490.90" stroke="#000" stroke-width="1" />
<text x="554.85" y="499.10" font-size="8.4" font-weight="bold" text-anchor="middle" fill="#000" >500</text>
<line x1="578.42" y1="488.40" x2="578.42" y2="490.90" stroke="#000" stroke-width="1" />
<text x="578.42" y="499.10" font-size="8.4" font-weight="bold" text-anchor="middle" fill="#000" >600</text>
<line x1="448.79" y1="488.40" x2="448.79" y2="489.90" stroke="#000" stroke-width="0.8" />
<line x1="472.36" y1="488.40" x2="472.36" y2="489.90" stroke="#000" stroke-width="0.8" />
<line x1="495.93" y1="488.40" x2="495.93" y2="489.90" stroke="#000" stroke-width="0.8" />
<line x1="519.50" y1="488.40" x2="519.50" y2="489.90" stroke="#000" stroke-width="0.8" />
<line x1="543.07" y1="488.40" x2="543.07" y2="489.90" stroke="#000" stroke-width="0.8" />
<line x1="566.63" y1="488.40" x2="566.63" y2="489.90" stroke="#000" stroke-width="0.8" />
<text x="410.60" y="426.00" font-size="11.3" font-weight="bold" text-anchor="middle" transform="rotate(-90 410.60 426.00)">Binding (nm)</text>
<line x1="432.80" y1="377.40" x2="449.30" y2="377.40" stroke="#111111" stroke-width="1.3" />
<text x="451.40" y="380.00" font-size="7.6" font-weight="bold" text-anchor="start" fill="#000" >100 nM</text>
<line x1="432.80" y1="386.85" x2="449.30" y2="386.85" stroke="#cc3a3a" stroke-width="1.3" />
<text x="451.40" y="389.45" font-size="7.6" font-weight="bold" text-anchor="start" fill="#000" >50 nM</text>
<line x1="432.80" y1="396.30" x2="449.30" y2="396.30" stroke="#2a30b0" stroke-width="1.3" />
<text x="451.40" y="398.90" font-size="7.6" font-weight="bold" text-anchor="start" fill="#000" >25 nM</text>
<line x1="432.80" y1="405.75" x2="449.30" y2="405.75" stroke="#d84ad8" stroke-width="1.3" />
<text x="451.40" y="408.35" font-size="7.6" font-weight="bold" text-anchor="start" fill="#000" >12.5 nM</text>
<text x="586.50" y="481.80" font-size="12.2" font-weight="bold" text-anchor="end"><tspan font-style="italic">K</tspan><tspan font-size="10" dy="3">d</tspan><tspan dy="-3"> = 2.22 ± 0.05 nM</tspan></text>
<text x="602.00" y="362.60" font-size="21" font-weight="bold" text-anchor="start" fill="#000" >m</text>
<path d="M637.40,482.30 L638.81,478.90 L640.23,475.58 L641.64,472.35 L643.06,469.20 L644.47,466.12 L645.89,463.13 L647.30,460.20 L648.71,457.35 L650.13,454.57 L651.54,451.86 L652.96,449.22 L654.37,446.64 L655.78,444.13 L657.20,441.68 L658.61,439.29 L660.03,436.96 L661.44,434.69 L662.86,432.47 L664.27,430.31 L665.68,428.21 L667.10,426.15 L668.51,424.15 L669.93,422.20 L671.34,420.29 L672.75,418.43 L674.17,416.62 L675.58,414.86 L677.00,413.13 L678.41,411.46 L679.83,409.82 L681.24,408.22 L682.65,406.67 L684.07,405.15 L685.48,403.67 L686.90,402.22 L688.31,400.82 L689.73,399.44 L691.14,398.10 L692.55,396.80 L693.97,395.53 L695.38,394.29 L696.80,393.08 L698.21,391.90 L699.62,390.75 L701.04,389.62 L702.45,388.53 L703.87,387.46 L705.28,386.42 L706.70,385.41 L708.11,384.42 L710.47,384.58 L712.82,384.75 L715.18,384.91 L717.54,385.08 L719.89,385.25 L722.25,385.41 L724.61,385.58 L726.97,385.74 L729.32,385.91 L731.68,386.07 L734.04,386.24 L736.39,386.40 L738.75,386.57 L741.11,386.73 L743.46,386.90 L745.82,387.06 L748.18,387.23 L750.54,387.39 L752.89,387.56 L755.25,387.72 L757.61,387.89 L759.96,388.05 L762.32,388.22 L764.68,388.38 L767.03,388.55 L769.39,388.71 L771.75,388.88 L774.11,389.04 L776.46,389.21 L778.82,389.38" stroke="#111111" stroke-width="1.25" fill="none" />
<path d="M637.40,482.30 L638.81,480.65 L640.23,479.01 L641.64,477.40 L643.06,475.80 L644.47,474.22 L645.89,472.67 L647.30,471.13 L648.71,469.61 L650.13,468.10 L651.54,466.62 L652.96,465.15 L654.37,463.70 L655.78,462.27 L657.20,460.85 L658.61,459.46 L660.03,458.07 L661.44,456.71 L662.86,455.36 L664.27,454.03 L665.68,452.71 L667.10,451.41 L668.51,450.12 L669.93,448.85 L671.34,447.60 L672.75,446.36 L674.17,445.13 L675.58,443.92 L677.00,442.72 L678.41,441.54 L679.83,440.37 L681.24,439.22 L682.65,438.08 L684.07,436.95 L685.48,435.84 L686.90,434.74 L688.31,433.65 L689.73,432.58 L691.14,431.52 L692.55,430.47 L693.97,429.43 L695.38,428.41 L696.80,427.40 L698.21,426.40 L699.62,425.41 L701.04,424.44 L702.45,423.47 L703.87,422.52 L705.28,421.58 L706.70,420.65 L708.11,419.73 L710.47,419.83 L712.82,419.94 L715.18,420.04 L717.54,420.14 L719.89,420.25 L722.25,420.35 L724.61,420.45 L726.97,420.56 L729.32,420.66 L731.68,420.76 L734.04,420.87 L736.39,420.97 L738.75,421.07 L741.11,421.18 L743.46,421.28 L745.82,421.38 L748.18,421.49 L750.54,421.59 L752.89,421.69 L755.25,421.80 L757.61,421.90 L759.96,422.00 L762.32,422.11 L764.68,422.21 L767.03,422.31 L769.39,422.42 L771.75,422.52 L774.11,422.62 L776.46,422.72 L778.82,422.83" stroke="#cc3a3a" stroke-width="1.25" fill="none" />
<path d="M637.40,482.30 L638.81,481.18 L640.23,480.06 L641.64,478.95 L643.06,477.84 L644.47,476.73 L645.89,475.63 L647.30,474.53 L648.71,473.44 L650.13,472.35 L651.54,471.26 L652.96,470.18 L654.37,469.10 L655.78,468.03 L657.20,466.96 L658.61,465.89 L660.03,464.83 L661.44,463.77 L662.86,462.71 L664.27,461.66 L665.68,460.62 L667.10,459.57 L668.51,458.53 L669.93,457.50 L671.34,456.46 L672.75,455.43 L674.17,454.41 L675.58,453.39 L677.00,452.37 L678.41,451.36 L679.83,450.35 L681.24,449.34 L682.65,448.34 L684.07,447.34 L685.48,446.34 L686.90,445.35 L688.31,444.36 L689.73,443.37 L691.14,442.39 L692.55,441.41 L693.97,440.44 L695.38,439.47 L696.80,438.50 L698.21,437.54 L699.62,436.57 L701.04,435.62 L702.45,434.66 L703.87,433.71 L705.28,432.77 L706.70,431.82 L708.11,430.88 L710.47,430.96 L712.82,431.05 L715.18,431.13 L717.54,431.21 L719.89,431.29 L722.25,431.38 L724.61,431.46 L726.97,431.54 L729.32,431.62 L731.68,431.71 L734.04,431.79 L736.39,431.87 L738.75,431.96 L741.11,432.04 L743.46,432.12 L745.82,432.20 L748.18,432.29 L750.54,432.37 L752.89,432.45 L755.25,432.53 L757.61,432.62 L759.96,432.70 L762.32,432.78 L764.68,432.86 L767.03,432.95 L769.39,433.03 L771.75,433.11 L774.11,433.19 L776.46,433.28 L778.82,433.36" stroke="#2a30b0" stroke-width="1.25" fill="none" />
<path d="M637.40,482.30 L638.81,481.46 L640.23,480.64 L641.64,479.82 L643.06,479.01 L644.47,478.21 L645.89,477.42 L647.30,476.64 L648.71,475.86 L650.13,475.09 L651.54,474.34 L652.96,473.59 L654.37,472.84 L655.78,472.11 L657.20,471.38 L658.61,470.66 L660.03,469.95 L661.44,469.25 L662.86,468.56 L664.27,467.87 L665.68,467.19 L667.10,466.51 L668.51,465.85 L669.93,465.19 L671.34,464.54 L672.75,463.89 L674.17,463.25 L675.58,462.62 L677.00,462.00 L678.41,461.38 L679.83,460.77 L681.24,460.16 L682.65,459.57 L684.07,458.98 L685.48,458.39 L686.90,457.81 L688.31,457.24 L689.73,456.67 L691.14,456.11 L692.55,455.56 L693.97,455.01 L695.38,454.47 L696.80,453.93 L698.21,453.40 L699.62,452.87 L701.04,452.35 L702.45,451.84 L703.87,451.33 L705.28,450.83 L706.70,450.33 L708.11,449.84 L710.47,449.89 L712.82,449.94 L715.18,449.99 L717.54,450.04 L719.89,450.09 L722.25,450.14 L724.61,450.19 L726.97,450.23 L729.32,450.28 L731.68,450.33 L734.04,450.38 L736.39,450.43 L738.75,450.48 L741.11,450.53 L743.46,450.58 L745.82,450.63 L748.18,450.68 L750.54,450.73 L752.89,450.78 L755.25,450.83 L757.61,450.88 L759.96,450.93 L762.32,450.98 L764.68,451.03 L767.03,451.08 L769.39,451.13 L771.75,451.18 L774.11,451.23 L776.46,451.28 L778.82,451.32" stroke="#d84ad8" stroke-width="1.25" fill="none" />
<rect x="631.50" y="370.60" width="160.00" height="117.80" fill="none" stroke="#000" stroke-width="1.7"/>
<line x1="629.00" y1="482.30" x2="631.50" y2="482.30" stroke="#000" stroke-width="1" />
<text x="628.30" y="485.30" font-size="8.4" font-weight="bold" text-anchor="end" fill="#000" >0.0</text>
<line x1="629.00" y1="469.91" x2="631.50" y2="469.91" stroke="#000" stroke-width="1" />
<text x="628.30" y="472.91" font-size="8.4" font-weight="bold" text-anchor="end" fill="#000" >0.1</text>
<line x1="629.00" y1="457.52" x2="631.50" y2="457.52" stroke="#000" stroke-width="1" />
<text x="628.30" y="460.52" font-size="8.4" font-weight="bold" text-anchor="end" fill="#000" >0.2</text>
<line x1="629.00" y1="445.13" x2="631.50" y2="445.13" stroke="#000" stroke-width="1" />
<text x="628.30" y="448.13" font-size="8.4" font-weight="bold" text-anchor="end" fill="#000" >0.3</text>
<line x1="629.00" y1="432.74" x2="631.50" y2="432.74" stroke="#000" stroke-width="1" />
<text x="628.30" y="435.74" font-size="8.4" font-weight="bold" text-anchor="end" fill="#000" >0.4</text>
<line x1="629.00" y1="420.35" x2="631.50" y2="420.35" stroke="#000" stroke-width="1" />
<text x="628.30" y="423.35" font-size="8.4" font-weight="bold" text-anchor="end" fill="#000" >0.5</text>
<line x1="629.00" y1="407.96" x2="631.50" y2="407.96" stroke="#000" stroke-width="1" />
<text x="628.30" y="410.96" font-size="8.4" font-weight="bold" text-anchor="end" fill="#000" >0.6</text>
<line x1="629.00" y1="395.57" x2="631.50" y2="395.57" stroke="#000" stroke-width="1" />
<text x="628.30" y="398.57" font-size="8.4" font-weight="bold" text-anchor="end" fill="#000" >0.7</text>
<line x1="629.00" y1="383.18" x2="631.50" y2="383.18" stroke="#000" stroke-width="1" />
<text x="628.30" y="386.18" font-size="8.4" font-weight="bold" text-anchor="end" fill="#000" >0.8</text>
<line x1="629.00" y1="370.79" x2="631.50" y2="370.79" stroke="#000" stroke-width="1" />
<text x="628.30" y="373.79" font-size="8.4" font-weight="bold" text-anchor="end" fill="#000" >0.9</text>
<line x1="637.40" y1="488.40" x2="637.40" y2="490.90" stroke="#000" stroke-width="1" />
<text x="637.40" y="499.10" font-size="8.4" font-weight="bold" text-anchor="middle" fill="#000" >0</text>
<line x1="660.97" y1="488.40" x2="660.97" y2="490.90" stroke="#000" stroke-width="1" />
<text x="660.97" y="499.10" font-size="8.4" font-weight="bold" text-anchor="middle" fill="#000" >100</text>
<line x1="684.54" y1="488.40" x2="684.54" y2="490.90" stroke="#000" stroke-width="1" />
<text x="684.54" y="499.10" font-size="8.4" font-weight="bold" text-anchor="middle" fill="#000" >200</text>
<line x1="708.11" y1="488.40" x2="708.11" y2="490.90" stroke="#000" stroke-width="1" />
<text x="708.11" y="499.10" font-size="8.4" font-weight="bold" text-anchor="middle" fill="#000" >300</text>
<line x1="731.68" y1="488.40" x2="731.68" y2="490.90" stroke="#000" stroke-width="1" />
<text x="731.68" y="499.10" font-size="8.4" font-weight="bold" text-anchor="middle" fill="#000" >400</text>
<line x1="755.25" y1="488.40" x2="755.25" y2="490.90" stroke="#000" stroke-width="1" />
<text x="755.25" y="499.10" font-size="8.4" font-weight="bold" text-anchor="middle" fill="#000" >500</text>
<line x1="778.82" y1="488.40" x2="778.82" y2="490.90" stroke="#000" stroke-width="1" />
<text x="778.82" y="499.10" font-size="8.4" font-weight="bold" text-anchor="middle" fill="#000" >600</text>
<line x1="649.18" y1="488.40" x2="649.18" y2="489.90" stroke="#000" stroke-width="0.8" />
<line x1="672.75" y1="488.40" x2="672.75" y2="489.90" stroke="#000" stroke-width="0.8" />
<line x1="696.32" y1="488.40" x2="696.32" y2="489.90" stroke="#000" stroke-width="0.8" />
<line x1="719.89" y1="488.40" x2="719.89" y2="489.90" stroke="#000" stroke-width="0.8" />
<line x1="743.46" y1="488.40" x2="743.46" y2="489.90" stroke="#000" stroke-width="0.8" />
<line x1="767.03" y1="488.40" x2="767.03" y2="489.90" stroke="#000" stroke-width="0.8" />
<text x="611.30" y="426.00" font-size="11.3" font-weight="bold" text-anchor="middle" transform="rotate(-90 611.30 426.00)">Binding (nm)</text>
<line x1="633.50" y1="377.40" x2="650.00" y2="377.40" stroke="#111111" stroke-width="1.3" />
<text x="652.10" y="380.00" font-size="7.6" font-weight="bold" text-anchor="start" fill="#000" >50 nM</text>
<line x1="633.50" y1="386.85" x2="650.00" y2="386.85" stroke="#cc3a3a" stroke-width="1.3" />
<text x="652.10" y="389.45" font-size="7.6" font-weight="bold" text-anchor="start" fill="#000" >25 nM</text>
<line x1="633.50" y1="396.30" x2="650.00" y2="396.30" stroke="#2a30b0" stroke-width="1.3" />
<text x="652.10" y="398.90" font-size="7.6" font-weight="bold" text-anchor="start" fill="#000" >12.5 nM</text>
<line x1="633.50" y1="405.75" x2="650.00" y2="405.75" stroke="#d84ad8" stroke-width="1.3" />
<text x="652.10" y="408.35" font-size="7.6" font-weight="bold" text-anchor="start" fill="#000" >6.25 nM</text>
<text x="788.00" y="481.80" font-size="12.2" font-weight="bold" text-anchor="end"><tspan font-style="italic">K</tspan><tspan font-size="10" dy="3">d</tspan><tspan dy="-3"> = 1.63 ± 0.03 nM</tspan></text>
<text x="404.00" y="520.20" font-size="21" font-weight="bold" text-anchor="start" fill="#000" >n</text>
<path d="M437.00,637.00 L438.41,633.68 L439.83,630.44 L441.24,627.29 L442.66,624.21 L444.07,621.21 L445.49,618.28 L446.90,615.43 L448.31,612.65 L449.73,609.93 L451.14,607.29 L452.56,604.71 L453.97,602.19 L455.38,599.74 L456.80,597.34 L458.21,595.01 L459.63,592.74 L461.04,590.52 L462.46,588.36 L463.87,586.25 L465.28,584.19 L466.70,582.19 L468.11,580.23 L469.53,578.32 L470.94,576.46 L472.36,574.65 L473.77,572.88 L475.18,571.16 L476.60,569.48 L478.01,567.84 L479.43,566.24 L480.84,564.68 L482.25,563.16 L483.67,561.68 L485.08,560.23 L486.50,558.83 L487.91,557.45 L489.33,556.11 L490.74,554.80 L492.15,553.53 L493.57,552.29 L494.98,551.08 L496.40,549.90 L497.81,548.74 L499.22,547.62 L500.64,546.52 L502.05,545.46 L503.47,544.42 L504.88,543.40 L506.30,542.41 L507.71,541.44 L510.07,541.62 L512.42,541.79 L514.78,541.96 L517.14,542.14 L519.50,542.31 L521.85,542.48 L524.21,542.66 L526.57,542.83 L528.92,543.00 L531.28,543.18 L533.64,543.35 L535.99,543.52 L538.35,543.70 L540.71,543.87 L543.07,544.04 L545.42,544.22 L547.78,544.39 L550.14,544.57 L552.49,544.74 L554.85,544.91 L557.21,545.09 L559.56,545.26 L561.92,545.43 L564.28,545.61 L566.63,545.78 L568.99,545.95 L571.35,546.13 L573.71,546.30 L576.06,546.47 L578.42,546.65" stroke="#111111" stroke-width="1.25" fill="none" />
<path d="M437.00,637.00 L438.41,635.14 L439.83,633.30 L441.24,631.49 L442.66,629.70 L444.07,627.94 L445.49,626.20 L446.90,624.48 L448.31,622.79 L449.73,621.12 L451.14,619.47 L452.56,617.85 L453.97,616.25 L455.38,614.67 L456.80,613.11 L458.21,611.58 L459.63,610.06 L461.04,608.57 L462.46,607.10 L463.87,605.64 L465.28,604.21 L466.70,602.79 L468.11,601.40 L469.53,600.02 L470.94,598.67 L472.36,597.33 L473.77,596.01 L475.18,594.71 L476.60,593.42 L478.01,592.16 L479.43,590.91 L480.84,589.68 L482.25,588.46 L483.67,587.27 L485.08,586.08 L486.50,584.92 L487.91,583.77 L489.33,582.63 L490.74,581.52 L492.15,580.41 L493.57,579.33 L494.98,578.25 L496.40,577.19 L497.81,576.15 L499.22,575.12 L500.64,574.11 L502.05,573.10 L503.47,572.12 L504.88,571.14 L506.30,570.18 L507.71,569.23 L510.07,569.35 L512.42,569.46 L514.78,569.58 L517.14,569.69 L519.50,569.80 L521.85,569.92 L524.21,570.03 L526.57,570.15 L528.92,570.26 L531.28,570.38 L533.64,570.49 L535.99,570.60 L538.35,570.72 L540.71,570.83 L543.07,570.95 L545.42,571.06 L547.78,571.17 L550.14,571.29 L552.49,571.40 L554.85,571.52 L557.21,571.63 L559.56,571.74 L561.92,571.86 L564.28,571.97 L566.63,572.09 L568.99,572.20 L571.35,572.31 L573.71,572.43 L576.06,572.54 L578.42,572.66" stroke="#cc3a3a" stroke-width="1.25" fill="none" />
<path d="M437.00,637.00 L438.41,635.84 L439.83,634.70 L441.24,633.57 L442.66,632.45 L444.07,631.35 L445.49,630.25 L446.90,629.18 L448.31,628.11 L449.73,627.06 L451.14,626.02 L452.56,624.99 L453.97,623.98 L455.38,622.98 L456.80,621.98 L458.21,621.01 L459.63,620.04 L461.04,619.08 L462.46,618.14 L463.87,617.20 L465.28,616.28 L466.70,615.37 L468.11,614.47 L469.53,613.58 L470.94,612.70 L472.36,611.83 L473.77,610.98 L475.18,610.13 L476.60,609.29 L478.01,608.46 L479.43,607.65 L480.84,606.84 L482.25,606.04 L483.67,605.25 L485.08,604.47 L486.50,603.70 L487.91,602.94 L489.33,602.19 L490.74,601.45 L492.15,600.71 L493.57,599.99 L494.98,599.27 L496.40,598.56 L497.81,597.86 L499.22,597.17 L500.64,596.49 L502.05,595.81 L503.47,595.15 L504.88,594.49 L506.30,593.84 L507.71,593.19 L510.07,593.26 L512.42,593.33 L514.78,593.40 L517.14,593.47 L519.50,593.53 L521.85,593.60 L524.21,593.67 L526.57,593.74 L528.92,593.81 L531.28,593.88 L533.64,593.94 L535.99,594.01 L538.35,594.08 L540.71,594.15 L543.07,594.22 L545.42,594.29 L547.78,594.36 L550.14,594.42 L552.49,594.49 L554.85,594.56 L557.21,594.63 L559.56,594.70 L561.92,594.77 L564.28,594.83 L566.63,594.90 L568.99,594.97 L571.35,595.04 L573.71,595.11 L576.06,595.18 L578.42,595.25" stroke="#2a30b0" stroke-width="1.25" fill="none" />
<path d="M437.00,637.00 L438.41,636.29 L439.83,635.58 L441.24,634.88 L442.66,634.18 L444.07,633.49 L445.49,632.80 L446.90,632.11 L448.31,631.43 L449.73,630.75 L451.14,630.08 L452.56,629.41 L453.97,628.74 L455.38,628.08 L456.80,627.42 L458.21,626.77 L459.63,626.12 L461.04,625.48 L462.46,624.83 L463.87,624.20 L465.28,623.56 L466.70,622.93 L468.11,622.30 L469.53,621.68 L470.94,621.06 L472.36,620.45 L473.77,619.83 L475.18,619.23 L476.60,618.62 L478.01,618.02 L479.43,617.42 L480.84,616.83 L482.25,616.24 L483.67,615.65 L485.08,615.07 L486.50,614.49 L487.91,613.91 L489.33,613.34 L490.74,612.77 L492.15,612.20 L493.57,611.64 L494.98,611.08 L496.40,610.53 L497.81,609.97 L499.22,609.42 L500.64,608.88 L502.05,608.34 L503.47,607.80 L504.88,607.26 L506.30,606.73 L507.71,606.20 L510.07,606.25 L512.42,606.31 L514.78,606.36 L517.14,606.42 L519.50,606.47 L521.85,606.53 L524.21,606.58 L526.57,606.64 L528.92,606.69 L531.28,606.75 L533.64,606.80 L535.99,606.85 L538.35,606.91 L540.71,606.96 L543.07,607.02 L545.42,607.07 L547.78,607.13 L550.14,607.18 L552.49,607.24 L554.85,607.29 L557.21,607.35 L559.56,607.40 L561.92,607.46 L564.28,607.51 L566.63,607.57 L568.99,607.62 L571.35,607.68 L573.71,607.73 L576.06,607.79 L578.42,607.84" stroke="#d84ad8" stroke-width="1.25" fill="none" />
<rect x="430.80" y="527.20" width="159.20" height="117.10" fill="none" stroke="#000" stroke-width="1.7"/>
<line x1="428.30" y1="637.00" x2="430.80" y2="637.00" stroke="#000" stroke-width="1" />
<text x="427.60" y="640.00" font-size="8.4" font-weight="bold" text-anchor="end" fill="#000" >0.0</text>
<line x1="428.30" y1="623.31" x2="430.80" y2="623.31" stroke="#000" stroke-width="1" />
<text x="427.60" y="626.31" font-size="8.4" font-weight="bold" text-anchor="end" fill="#000" >0.1</text>
<line x1="428.30" y1="609.62" x2="430.80" y2="609.62" stroke="#000" stroke-width="1" />
<text x="427.60" y="612.62" font-size="8.4" font-weight="bold" text-anchor="end" fill="#000" >0.2</text>
<line x1="428.30" y1="595.93" x2="430.80" y2="595.93" stroke="#000" stroke-width="1" />
<text x="427.60" y="598.93" font-size="8.4" font-weight="bold" text-anchor="end" fill="#000" >0.3</text>
<line x1="428.30" y1="582.24" x2="430.80" y2="582.24" stroke="#000" stroke-width="1" />
<text x="427.60" y="585.24" font-size="8.4" font-weight="bold" text-anchor="end" fill="#000" >0.4</text>
<line x1="428.30" y1="568.55" x2="430.80" y2="568.55" stroke="#000" stroke-width="1" />
<text x="427.60" y="571.55" font-size="8.4" font-weight="bold" text-anchor="end" fill="#000" >0.5</text>
<line x1="428.30" y1="554.86" x2="430.80" y2="554.86" stroke="#000" stroke-width="1" />
<text x="427.60" y="557.86" font-size="8.4" font-weight="bold" text-anchor="end" fill="#000" >0.6</text>
<line x1="428.30" y1="541.17" x2="430.80" y2="541.17" stroke="#000" stroke-width="1" />
<text x="427.60" y="544.17" font-size="8.4" font-weight="bold" text-anchor="end" fill="#000" >0.7</text>
<line x1="428.30" y1="527.48" x2="430.80" y2="527.48" stroke="#000" stroke-width="1" />
<text x="427.60" y="530.48" font-size="8.4" font-weight="bold" text-anchor="end" fill="#000" >0.8</text>
<line x1="437.00" y1="644.30" x2="437.00" y2="646.80" stroke="#000" stroke-width="1" />
<text x="437.00" y="655.10" font-size="8.4" font-weight="bold" text-anchor="middle" fill="#000" >0</text>
<line x1="460.57" y1="644.30" x2="460.57" y2="646.80" stroke="#000" stroke-width="1" />
<text x="460.57" y="655.10" font-size="8.4" font-weight="bold" text-anchor="middle" fill="#000" >100</text>
<line x1="484.14" y1="644.30" x2="484.14" y2="646.80" stroke="#000" stroke-width="1" />
<text x="484.14" y="655.10" font-size="8.4" font-weight="bold" text-anchor="middle" fill="#000" >200</text>
<line x1="507.71" y1="644.30" x2="507.71" y2="646.80" stroke="#000" stroke-width="1" />
<text x="507.71" y="655.10" font-size="8.4" font-weight="bold" text-anchor="middle" fill="#000" >300</text>
<line x1="531.28" y1="644.30" x2="531.28" y2="646.80" stroke="#000" stroke-width="1" />
<text x="531.28" y="655.10" font-size="8.4" font-weight="bold" text-anchor="middle" fill="#000" >400</text>
<line x1="554.85" y1="644.30" x2="554.85" y2="646.80" stroke="#000" stroke-width="1" />
<text x="554.85" y="655.10" font-size="8.4" font-weight="bold" text-anchor="middle" fill="#000" >500</text>
<line x1="578.42" y1="644.30" x2="578.42" y2="646.80" stroke="#000" stroke-width="1" />
<text x="578.42" y="655.10" font-size="8.4" font-weight="bold" text-anchor="middle" fill="#000" >600</text>
<line x1="448.79" y1="644.30" x2="448.79" y2="645.80" stroke="#000" stroke-width="0.8" />
<line x1="472.36" y1="644.30" x2="472.36" y2="645.80" stroke="#000" stroke-width="0.8" />
<line x1="495.93" y1="644.30" x2="495.93" y2="645.80" stroke="#000" stroke-width="0.8" />
<line x1="519.50" y1="644.30" x2="519.50" y2="645.80" stroke="#000" stroke-width="0.8" />
<line x1="543.07" y1="644.30" x2="543.07" y2="645.80" stroke="#000" stroke-width="0.8" />
<line x1="566.63" y1="644.30" x2="566.63" y2="645.80" stroke="#000" stroke-width="0.8" />
<text x="410.60" y="582.25" font-size="11.3" font-weight="bold" text-anchor="middle" transform="rotate(-90 410.60 582.25)">Binding (nm)</text>
<line x1="432.80" y1="534.00" x2="449.30" y2="534.00" stroke="#111111" stroke-width="1.3" />
<text x="451.40" y="536.60" font-size="7.6" font-weight="bold" text-anchor="start" fill="#000" >50 nM</text>
<line x1="432.80" y1="543.45" x2="449.30" y2="543.45" stroke="#cc3a3a" stroke-width="1.3" />
<text x="451.40" y="546.05" font-size="7.6" font-weight="bold" text-anchor="start" fill="#000" >25 nM</text>
<line x1="432.80" y1="552.90" x2="449.30" y2="552.90" stroke="#2a30b0" stroke-width="1.3" />
<text x="451.40" y="555.50" font-size="7.6" font-weight="bold" text-anchor="start" fill="#000" >12.5 nM</text>
<line x1="432.80" y1="562.35" x2="449.30" y2="562.35" stroke="#d84ad8" stroke-width="1.3" />
<text x="451.40" y="564.95" font-size="7.6" font-weight="bold" text-anchor="start" fill="#000" >6.25 nM</text>
<text x="586.50" y="637.70" font-size="12.2" font-weight="bold" text-anchor="end"><tspan font-style="italic">K</tspan><tspan font-size="10" dy="3">d</tspan><tspan dy="-3"> = 1.81 ± 0.03 nM</tspan></text>
<text x="602.00" y="520.00" font-size="21" font-weight="bold" text-anchor="start" fill="#000" >o</text>
<path d="M637.40,635.20 L638.81,628.76 L640.23,622.87 L641.64,617.49 L643.06,612.58 L644.47,608.08 L645.89,603.97 L647.30,600.22 L648.71,596.79 L650.13,593.66 L651.54,590.79 L652.96,588.17 L654.37,585.78 L655.78,583.59 L657.20,581.59 L658.61,579.76 L660.03,578.09 L661.44,576.57 L662.86,575.17 L664.27,573.90 L665.68,572.73 L667.10,571.67 L668.51,570.70 L669.93,569.81 L671.34,568.99 L672.75,568.25 L674.17,567.57 L675.58,566.95 L677.00,566.38 L678.41,565.87 L679.83,565.39 L681.24,564.96 L682.65,564.56 L684.07,564.20 L685.48,563.87 L686.90,563.57 L688.31,563.29 L689.73,563.04 L691.14,562.81 L692.55,562.60 L693.97,562.41 L695.38,562.23 L696.80,562.07 L698.21,561.92 L699.62,561.79 L701.04,561.67 L702.45,561.56 L703.87,561.45 L705.28,561.36 L706.70,561.27 L708.11,561.20 L710.47,561.42 L712.82,561.65 L715.18,561.87 L717.54,562.10 L719.89,562.32 L722.25,562.55 L724.61,562.77 L726.97,563.00 L729.32,563.23 L731.68,563.45 L734.04,563.68 L736.39,563.90 L738.75,564.13 L741.11,564.35 L743.46,564.58 L745.82,564.81 L748.18,565.03 L750.54,565.26 L752.89,565.48 L755.25,565.71 L757.61,565.93 L759.96,566.16 L762.32,566.38 L764.68,566.61 L767.03,566.84 L769.39,567.06 L771.75,567.29 L774.11,567.51 L776.46,567.74 L778.82,567.96" stroke="#111111" stroke-width="1.25" fill="none" />
<path d="M637.40,635.20 L638.81,632.48 L640.23,629.87 L641.64,627.38 L643.06,624.99 L644.47,622.71 L645.89,620.52 L647.30,618.43 L648.71,616.43 L650.13,614.51 L651.54,612.67 L652.96,610.92 L654.37,609.24 L655.78,607.63 L657.20,606.09 L658.61,604.61 L660.03,603.20 L661.44,601.85 L662.86,600.56 L664.27,599.32 L665.68,598.14 L667.10,597.00 L668.51,595.92 L669.93,594.88 L671.34,593.88 L672.75,592.93 L674.17,592.02 L675.58,591.15 L677.00,590.32 L678.41,589.52 L679.83,588.75 L681.24,588.02 L682.65,587.32 L684.07,586.65 L685.48,586.01 L686.90,585.40 L688.31,584.81 L689.73,584.25 L691.14,583.71 L692.55,583.19 L693.97,582.70 L695.38,582.23 L696.80,581.78 L698.21,581.34 L699.62,580.93 L701.04,580.53 L702.45,580.15 L703.87,579.79 L705.28,579.44 L706.70,579.11 L708.11,578.79 L710.47,578.97 L712.82,579.15 L715.18,579.34 L717.54,579.52 L719.89,579.70 L722.25,579.88 L724.61,580.06 L726.97,580.24 L729.32,580.42 L731.68,580.60 L734.04,580.78 L736.39,580.96 L738.75,581.14 L741.11,581.32 L743.46,581.50 L745.82,581.68 L748.18,581.86 L750.54,582.04 L752.89,582.22 L755.25,582.40 L757.61,582.58 L759.96,582.76 L762.32,582.95 L764.68,583.13 L767.03,583.31 L769.39,583.49 L771.75,583.67 L774.11,583.85 L776.46,584.03 L778.82,584.21" stroke="#cc3a3a" stroke-width="1.25" fill="none" />
<path d="M637.40,635.20 L638.81,633.73 L640.23,632.30 L641.64,630.92 L643.06,629.58 L644.47,628.28 L645.89,627.03 L647.30,625.81 L648.71,624.63 L650.13,623.49 L651.54,622.38 L652.96,621.31 L654.37,620.27 L655.78,619.27 L657.20,618.30 L658.61,617.35 L660.03,616.44 L661.44,615.55 L662.86,614.70 L664.27,613.86 L665.68,613.06 L667.10,612.28 L668.51,611.52 L669.93,610.79 L671.34,610.08 L672.75,609.40 L674.17,608.73 L675.58,608.09 L677.00,607.46 L678.41,606.86 L679.83,606.27 L681.24,605.71 L682.65,605.16 L684.07,604.63 L685.48,604.11 L686.90,603.61 L688.31,603.13 L689.73,602.66 L691.14,602.20 L692.55,601.76 L693.97,601.34 L695.38,600.93 L696.80,600.53 L698.21,600.14 L699.62,599.76 L701.04,599.40 L702.45,599.05 L703.87,598.71 L705.28,598.38 L706.70,598.06 L708.11,597.75 L710.47,597.87 L712.82,597.99 L715.18,598.11 L717.54,598.23 L719.89,598.35 L722.25,598.47 L724.61,598.59 L726.97,598.71 L729.32,598.83 L731.68,598.95 L734.04,599.07 L736.39,599.19 L738.75,599.31 L741.11,599.43 L743.46,599.55 L745.82,599.67 L748.18,599.79 L750.54,599.91 L752.89,600.03 L755.25,600.15 L757.61,600.27 L759.96,600.39 L762.32,600.51 L764.68,600.63 L767.03,600.75 L769.39,600.87 L771.75,601.00 L774.11,601.12 L776.46,601.24 L778.82,601.36" stroke="#2a30b0" stroke-width="1.25" fill="none" />
<path d="M637.40,635.20 L638.81,634.64 L640.23,634.10 L641.64,633.56 L643.06,633.03 L644.47,632.52 L645.89,632.01 L647.30,631.51 L648.71,631.02 L650.13,630.54 L651.54,630.06 L652.96,629.60 L654.37,629.14 L655.78,628.70 L657.20,628.26 L658.61,627.82 L660.03,627.40 L661.44,626.98 L662.86,626.57 L664.27,626.17 L665.68,625.77 L667.10,625.39 L668.51,625.01 L669.93,624.63 L671.34,624.26 L672.75,623.90 L674.17,623.55 L675.58,623.20 L677.00,622.86 L678.41,622.52 L679.83,622.19 L681.24,621.87 L682.65,621.55 L684.07,621.24 L685.48,620.93 L686.90,620.63 L688.31,620.33 L689.73,620.04 L691.14,619.75 L692.55,619.47 L693.97,619.20 L695.38,618.93 L696.80,618.66 L698.21,618.40 L699.62,618.14 L701.04,617.89 L702.45,617.65 L703.87,617.40 L705.28,617.16 L706.70,616.93 L708.11,616.70 L710.47,616.74 L712.82,616.79 L715.18,616.83 L717.54,616.88 L719.89,616.92 L722.25,616.97 L724.61,617.01 L726.97,617.06 L729.32,617.10 L731.68,617.15 L734.04,617.20 L736.39,617.24 L738.75,617.29 L741.11,617.33 L743.46,617.38 L745.82,617.42 L748.18,617.47 L750.54,617.51 L752.89,617.56 L755.25,617.60 L757.61,617.65 L759.96,617.69 L762.32,617.74 L764.68,617.78 L767.03,617.83 L769.39,617.87 L771.75,617.92 L774.11,617.96 L776.46,618.01 L778.82,618.05" stroke="#d84ad8" stroke-width="1.25" fill="none" />
<rect x="631.50" y="526.60" width="160.00" height="117.40" fill="none" stroke="#000" stroke-width="1.7"/>
<line x1="629.00" y1="635.20" x2="631.50" y2="635.20" stroke="#000" stroke-width="1" />
<text x="628.30" y="638.20" font-size="8.4" font-weight="bold" text-anchor="end" fill="#000" >0.0</text>
<line x1="629.00" y1="617.15" x2="631.50" y2="617.15" stroke="#000" stroke-width="1" />
<text x="628.30" y="620.15" font-size="8.4" font-weight="bold" text-anchor="end" fill="#000" >0.2</text>
<line x1="629.00" y1="599.10" x2="631.50" y2="599.10" stroke="#000" stroke-width="1" />
<text x="628.30" y="602.10" font-size="8.4" font-weight="bold" text-anchor="end" fill="#000" >0.4</text>
<line x1="629.00" y1="581.05" x2="631.50" y2="581.05" stroke="#000" stroke-width="1" />
<text x="628.30" y="584.05" font-size="8.4" font-weight="bold" text-anchor="end" fill="#000" >0.6</text>
<line x1="629.00" y1="563.00" x2="631.50" y2="563.00" stroke="#000" stroke-width="1" />
<text x="628.30" y="566.00" font-size="8.4" font-weight="bold" text-anchor="end" fill="#000" >0.8</text>
<line x1="629.00" y1="544.95" x2="631.50" y2="544.95" stroke="#000" stroke-width="1" />
<text x="628.30" y="547.95" font-size="8.4" font-weight="bold" text-anchor="end" fill="#000" >1.0</text>
<line x1="629.00" y1="526.90" x2="631.50" y2="526.90" stroke="#000" stroke-width="1" />
<text x="628.30" y="529.90" font-size="8.4" font-weight="bold" text-anchor="end" fill="#000" >1.2</text>
<line x1="630.00" y1="626.18" x2="631.50" y2="626.18" stroke="#000" stroke-width="0.8" />
<line x1="630.00" y1="608.12" x2="631.50" y2="608.12" stroke="#000" stroke-width="0.8" />
<line x1="630.00" y1="590.08" x2="631.50" y2="590.08" stroke="#000" stroke-width="0.8" />
<line x1="630.00" y1="572.03" x2="631.50" y2="572.03" stroke="#000" stroke-width="0.8" />
<line x1="630.00" y1="553.98" x2="631.50" y2="553.98" stroke="#000" stroke-width="0.8" />
<line x1="630.00" y1="535.93" x2="631.50" y2="535.93" stroke="#000" stroke-width="0.8" />
<line x1="637.40" y1="644.00" x2="637.40" y2="646.50" stroke="#000" stroke-width="1" />
<text x="637.40" y="655.10" font-size="8.4" font-weight="bold" text-anchor="middle" fill="#000" >0</text>
<line x1="660.97" y1="644.00" x2="660.97" y2="646.50" stroke="#000" stroke-width="1" />
<text x="660.97" y="655.10" font-size="8.4" font-weight="bold" text-anchor="middle" fill="#000" >100</text>
<line x1="684.54" y1="644.00" x2="684.54" y2="646.50" stroke="#000" stroke-width="1" />
<text x="684.54" y="655.10" font-size="8.4" font-weight="bold" text-anchor="middle" fill="#000" >200</text>
<line x1="708.11" y1="644.00" x2="708.11" y2="646.50" stroke="#000" stroke-width="1" />
<text x="708.11" y="655.10" font-size="8.4" font-weight="bold" text-anchor="middle" fill="#000" >300</text>
<line x1="731.68" y1="644.00" x2="731.68" y2="646.50" stroke="#000" stroke-width="1" />
<text x="731.68" y="655.10" font-size="8.4" font-weight="bold" text-anchor="middle" fill="#000" >400</text>
<line x1="755.25" y1="644.00" x2="755.25" y2="646.50" stroke="#000" stroke-width="1" />
<text x="755.25" y="655.10" font-size="8.4" font-weight="bold" text-anchor="middle" fill="#000" >500</text>
<line x1="778.82" y1="644.00" x2="778.82" y2="646.50" stroke="#000" stroke-width="1" />
<text x="778.82" y="655.10" font-size="8.4" font-weight="bold" text-anchor="middle" fill="#000" >600</text>
<line x1="649.18" y1="644.00" x2="649.18" y2="645.50" stroke="#000" stroke-width="0.8" />
<line x1="672.75" y1="644.00" x2="672.75" y2="645.50" stroke="#000" stroke-width="0.8" />
<line x1="696.32" y1="644.00" x2="696.32" y2="645.50" stroke="#000" stroke-width="0.8" />
<line x1="719.89" y1="644.00" x2="719.89" y2="645.50" stroke="#000" stroke-width="0.8" />
<line x1="743.46" y1="644.00" x2="743.46" y2="645.50" stroke="#000" stroke-width="0.8" />
<line x1="767.03" y1="644.00" x2="767.03" y2="645.50" stroke="#000" stroke-width="0.8" />
<text x="611.30" y="581.80" font-size="11.3" font-weight="bold" text-anchor="middle" transform="rotate(-90 611.30 581.80)">Binding (nm)</text>
<line x1="633.50" y1="533.40" x2="650.00" y2="533.40" stroke="#111111" stroke-width="1.3" />
<text x="652.10" y="536.00" font-size="7.6" font-weight="bold" text-anchor="start" fill="#000" >100 nM</text>
<line x1="633.50" y1="542.85" x2="650.00" y2="542.85" stroke="#cc3a3a" stroke-width="1.3" />
<text x="652.10" y="545.45" font-size="7.6" font-weight="bold" text-anchor="start" fill="#000" >50 nM</text>
<line x1="633.50" y1="552.30" x2="650.00" y2="552.30" stroke="#2a30b0" stroke-width="1.3" />
<text x="652.10" y="554.90" font-size="7.6" font-weight="bold" text-anchor="start" fill="#000" >25 nM</text>
<line x1="633.50" y1="561.75" x2="650.00" y2="561.75" stroke="#d84ad8" stroke-width="1.3" />
<text x="652.10" y="564.35" font-size="7.6" font-weight="bold" text-anchor="start" fill="#000" >12.5 nM</text>
<text x="788.00" y="637.40" font-size="12.2" font-weight="bold" text-anchor="end"><tspan font-style="italic">K</tspan><tspan font-size="10" dy="3">d</tspan><tspan dy="-3"> = 1.42 ± 0.03 nM</tspan></text>
<text x="511.00" y="512.50" font-size="10.4" font-weight="bold" text-anchor="middle" fill="#000" >Time (s)</text>
<text x="712.00" y="512.50" font-size="10.4" font-weight="bold" text-anchor="middle" fill="#000" >Time (s)</text>
<text x="511.00" y="668.80" font-size="10.4" font-weight="bold" text-anchor="middle" fill="#000" >Time (s)</text>
<text x="712.00" y="668.80" font-size="10.4" font-weight="bold" text-anchor="middle" fill="#000" >Time (s)</text>
<text x="11.00" y="712.20" font-size="21" font-weight="bold" text-anchor="start" fill="#000" >p</text>
<defs><filter id="noise" x="0" y="0" width="100%" height="100%"><feTurbulence type="fractalNoise" baseFrequency="0.55" numOctaves="2" seed="3"/><feColorMatrix type="matrix" values="0 0 0 0 0.5  0 0 0 0 0.5  0 0 0 0 0.5  0 0 0 1.3 -0.5"/></filter><filter id="gblur2" x="-50%" y="-50%" width="200%" height="200%"><feGaussianBlur stdDeviation="0.8"/></filter><filter id="cblur" x="-10%" y="-10%" width="120%" height="120%"><feGaussianBlur stdDeviation="0.4" result="b"/><feTurbulence type="fractalNoise" baseFrequency="0.5" numOctaves="2" seed="9" result="n0"/><feGaussianBlur in="n0" stdDeviation="0.45" result="n"/><feColorMatrix in="n" type="matrix" values="0 0 0 0 0.12  0 0 0 0 0.12  0 0 0 0 0.12  0 0 0 0.6 -0.12" result="nm"/><feComposite in="nm" in2="SourceAlpha" operator="in" result="nc"/><feMerge><feMergeNode in="b"/><feMergeNode in="nc"/></feMerge></filter></defs>
<text x="110.10" y="696.80" font-size="11.5" font-weight="bold" text-anchor="middle" fill="#000" >AuNR-APT-FITC</text>
<text x="201.00" y="689.60" font-size="11.5" font-weight="bold" text-anchor="middle" fill="#000" >AuNR-APT-</text>
<text x="201.00" y="703.60" font-size="11.5" font-weight="bold" text-anchor="middle" fill="#000" >FITC + Man</text>
<text x="291.90" y="689.60" font-size="11.5" font-weight="bold" text-anchor="middle" fill="#000" >AuNR-APT-</text>
<text x="291.90" y="703.60" font-size="11.5" font-weight="bold" text-anchor="middle" fill="#000" >FITC + M5</text>
<text x="382.80" y="689.60" font-size="11.5" font-weight="bold" text-anchor="middle" fill="#000" >AuNR-APT-</text>
<text x="382.80" y="703.60" font-size="11.5" font-weight="bold" text-anchor="middle" fill="#000" >FITC + M9</text>
<text x="473.70" y="696.80" font-size="11.5" font-weight="bold" text-anchor="middle" fill="#000" >AuNR-APT-FITC</text>
<text x="564.60" y="696.80" font-size="11.5" font-weight="bold" text-anchor="middle" fill="#000" >Control</text>
<text x="655.50" y="696.80" font-size="11.5" font-weight="bold" text-anchor="middle" fill="#000" >AuNR-APT-FITC</text>
<text x="746.40" y="696.80" font-size="11.5" font-weight="bold" text-anchor="middle" fill="#000" >Control</text>
<text x="33.80" y="751.60" font-size="14.4" font-weight="bold" text-anchor="middle" fill="#000" >FITC</text>
<text x="35.90" y="844.40" font-size="14.8" font-weight="bold" text-anchor="middle" fill="#000" >Merge</text>
<rect x="66.20" y="708.00" width="87.80" height="88.20" fill="#020202" />
<rect x="135.00" y="791.20" width="16.5" height="1.8" fill="#d8d8d8"/>
<defs><clipPath id="pm0"><rect x="66.20" y="798.80" width="87.8" height="88.2"/></clipPath></defs>
<rect x="66.20" y="798.80" width="87.80" height="88.20" fill="#525252" />
<g clip-path="url(#pm0)">
<g filter="url(#cblur)">
<circle cx="97.04" cy="801.00" r="11.09" fill="#4a4a4a" stroke="#8e8e8e" stroke-width="0.9"/>
<circle cx="108.05" cy="819.73" r="11.67" fill="#4a4a4a" stroke="#8e8e8e" stroke-width="0.9"/>
<circle cx="129.53" cy="819.17" r="9.92" fill="#4a4a4a" stroke="#8e8e8e" stroke-width="0.9"/>
<circle cx="78.87" cy="825.23" r="11.67" fill="#4a4a4a" stroke="#8e8e8e" stroke-width="0.9"/>
<circle cx="113.56" cy="841.75" r="12.26" fill="#4a4a4a" stroke="#8e8e8e" stroke-width="0.9"/>
<circle cx="133.93" cy="838.45" r="9.92" fill="#4a4a4a" stroke="#8e8e8e" stroke-width="0.9"/>
<circle cx="93.73" cy="837.35" r="9.34" fill="#4a4a4a" stroke="#8e8e8e" stroke-width="0.9"/>
<circle cx="73.91" cy="846.16" r="8.76" fill="#4a4a4a" stroke="#8e8e8e" stroke-width="0.9"/>
<circle cx="91.53" cy="850.56" r="9.34" fill="#4a4a4a" stroke="#8e8e8e" stroke-width="0.9"/>
<circle cx="110.25" cy="860.47" r="10.51" fill="#4a4a4a" stroke="#8e8e8e" stroke-width="0.9"/>
<circle cx="127.32" cy="857.17" r="9.92" fill="#4a4a4a" stroke="#8e8e8e" stroke-width="0.9"/>
<circle cx="76.66" cy="860.47" r="8.76" fill="#4a4a4a" stroke="#8e8e8e" stroke-width="0.9"/>
<circle cx="92.63" cy="869.28" r="11.67" fill="#4a4a4a" stroke="#8e8e8e" stroke-width="0.9"/>
<circle cx="137.79" cy="875.89" r="11.09" fill="#4a4a4a" stroke="#8e8e8e" stroke-width="0.9"/>
<circle cx="99.24" cy="885.80" r="9.34" fill="#4a4a4a" stroke="#8e8e8e" stroke-width="0.9"/>
<circle cx="70.61" cy="873.69" r="7.00" fill="#4a4a4a" stroke="#8e8e8e" stroke-width="0.9"/>
</g>
<rect x="66.20" y="798.80" width="87.8" height="88.2" filter="url(#noise)" opacity="0.12"/>
</g>
<defs><clipPath id="pg00"><rect x="66.20" y="708.00" width="87.8" height="88.2"/></clipPath></defs>
<g clip-path="url(#pg00)"><g filter="url(#gblur2)">
<circle cx="97.04" cy="710.20" r="11.09" fill="none" stroke="#30b830" stroke-width="0.6" opacity="0.24"/>
<circle cx="108.05" cy="728.93" r="11.67" fill="none" stroke="#30b830" stroke-width="0.6" opacity="0.24"/>
<circle cx="129.53" cy="728.37" r="9.92" fill="none" stroke="#30b830" stroke-width="0.6" opacity="0.24"/>
<circle cx="78.87" cy="734.43" r="11.67" fill="none" stroke="#30b830" stroke-width="0.6" opacity="0.24"/>
<circle cx="113.56" cy="750.95" r="12.26" fill="none" stroke="#30b830" stroke-width="0.6" opacity="0.24"/>
<circle cx="133.93" cy="747.65" r="9.92" fill="none" stroke="#30b830" stroke-width="0.6" opacity="0.24"/>
<circle cx="93.73" cy="746.55" r="9.34" fill="none" stroke="#30b830" stroke-width="0.6" opacity="0.24"/>
<circle cx="73.91" cy="755.36" r="8.76" fill="none" stroke="#30b830" stroke-width="0.6" opacity="0.24"/>
<circle cx="91.53" cy="759.76" r="9.34" fill="none" stroke="#30b830" stroke-width="0.6" opacity="0.24"/>
<circle cx="110.25" cy="769.67" r="10.51" fill="none" stroke="#30b830" stroke-width="0.6" opacity="0.24"/>
<circle cx="127.32" cy="766.37" r="9.92" fill="none" stroke="#30b830" stroke-width="0.6" opacity="0.24"/>
<circle cx="76.66" cy="769.67" r="8.76" fill="none" stroke="#30b830" stroke-width="0.6" opacity="0.24"/>
<circle cx="92.63" cy="778.48" r="11.67" fill="none" stroke="#30b830" stroke-width="0.6" opacity="0.24"/>
<circle cx="137.79" cy="785.09" r="11.09" fill="none" stroke="#30b830" stroke-width="0.6" opacity="0.24"/>
<circle cx="99.24" cy="795.00" r="9.34" fill="none" stroke="#30b830" stroke-width="0.6" opacity="0.24"/>
<circle cx="70.61" cy="782.89" r="7.00" fill="none" stroke="#30b830" stroke-width="0.6" opacity="0.24"/>
<path d="M67.87,735.09 A11.01,11.01 0 0 1 72.37,725.54" stroke="#30b830" stroke-width="1.0" fill="none" opacity="0.95"/>
<circle cx="69.50" cy="730.03" r="1.3" fill="#30b830" opacity="0.95"/>
<path d="M88.76,739.27 A8.81,8.81 0 0 1 97.17,738.43" stroke="#30b830" stroke-width="1.0" fill="none" opacity="0.95"/>
<circle cx="92.63" cy="735.53" r="1.3" fill="#30b830" opacity="0.95"/>
<path d="M69.08,748.66 A8.26,8.26 0 0 1 76.94,747.67" stroke="#30b830" stroke-width="1.0" fill="none" opacity="0.95"/>
<circle cx="72.81" cy="746.55" r="1.3" fill="#30b830" opacity="0.95"/>
<path d="M89.12,754.05 A8.81,8.81 0 0 1 84.92,746.71" stroke="#30b830" stroke-width="1.0" fill="none" opacity="0.95"/>
<circle cx="86.02" cy="750.95" r="1.3" fill="#30b830" opacity="0.95"/>
<path d="M98.05,738.87 A8.81,8.81 0 0 1 102.53,746.03" stroke="#30b830" stroke-width="1.0" fill="none" opacity="0.95"/>
<circle cx="102.54" cy="741.04" r="1.3" fill="#30b830" opacity="0.95"/>
<path d="M118.92,730.69 A11.01,11.01 0 0 1 112.44,739.03" stroke="#30b830" stroke-width="1.0" fill="none" opacity="0.95"/>
<circle cx="117.96" cy="736.63" r="1.3" fill="#30b830" opacity="0.95"/>
<path d="M106.56,718.01 A11.01,11.01 0 0 1 116.43,721.77" stroke="#30b830" stroke-width="1.0" fill="none" opacity="0.95"/>
<circle cx="112.46" cy="717.36" r="1.3" fill="#30b830" opacity="0.95"/>
<path d="M132.68,737.19 A9.36,9.36 0 0 1 123.81,735.79" stroke="#30b830" stroke-width="1.0" fill="none" opacity="0.95"/>
<circle cx="127.87" cy="738.84" r="1.3" fill="#30b830" opacity="0.95"/>
<path d="M132.38,756.88 A9.36,9.36 0 0 1 125.33,751.33" stroke="#30b830" stroke-width="1.0" fill="none" opacity="0.95"/>
<circle cx="127.87" cy="755.36" r="1.3" fill="#30b830" opacity="0.95"/>
<path d="M130.32,757.50 A9.36,9.36 0 0 1 136.40,764.10" stroke="#30b830" stroke-width="1.0" fill="none" opacity="0.95"/>
<circle cx="134.48" cy="759.76" r="1.3" fill="#30b830" opacity="0.95"/>
<path d="M113.76,760.41 A9.91,9.91 0 0 1 119.95,767.62" stroke="#30b830" stroke-width="1.0" fill="none" opacity="0.95"/>
<circle cx="117.96" cy="763.07" r="1.3" fill="#30b830" opacity="0.95"/>
<path d="M100.79,772.63 A9.91,9.91 0 0 1 102.66,763.31" stroke="#30b830" stroke-width="1.0" fill="none" opacity="0.95"/>
<circle cx="99.24" cy="767.47" r="1.3" fill="#30b830" opacity="0.95"/>
<path d="M98.78,754.75 A8.81,8.81 0 0 1 99.66,763.15" stroke="#30b830" stroke-width="1.0" fill="none" opacity="0.95"/>
<circle cx="101.99" cy="758.66" r="1.3" fill="#30b830" opacity="0.95"/>
<path d="M68.41,769.25 A8.26,8.26 0 0 1 72.56,762.50" stroke="#30b830" stroke-width="1.0" fill="none" opacity="0.95"/>
<circle cx="69.50" cy="765.27" r="1.3" fill="#30b830" opacity="0.95"/>
<path d="M66.53,777.69 A6.61,6.61 0 0 1 72.78,776.65" stroke="#30b830" stroke-width="1.0" fill="none" opacity="0.95"/>
<circle cx="69.50" cy="776.28" r="1.3" fill="#30b830" opacity="0.95"/>
<path d="M134.73,772.10 A9.36,9.36 0 0 1 126.50,775.70" stroke="#30b830" stroke-width="1.0" fill="none" opacity="0.95"/>
<circle cx="131.18" cy="775.18" r="1.3" fill="#30b830" opacity="0.95"/>
<path d="M102.23,783.88 A11.01,11.01 0 0 1 93.28,789.48" stroke="#30b830" stroke-width="1.0" fill="none" opacity="0.95"/>
<circle cx="98.14" cy="787.30" r="1.3" fill="#30b830" opacity="0.95"/>
<path d="M76.71,723.63 A11.01,11.01 0 0 1 86.79,726.78" stroke="#30b830" stroke-width="1.0" fill="none" opacity="0.95"/>
<circle cx="81.62" cy="725.62" r="1.3" fill="#30b830" opacity="0.95"/>
<path d="M121.03,732.31 A9.36,9.36 0 0 1 121.63,723.35" stroke="#30b830" stroke-width="1.0" fill="none" opacity="0.95"/>
<circle cx="121.27" cy="727.82" r="1.3" fill="#30b830" opacity="0.95"/>
</g></g>
<defs><clipPath id="pg01"><rect x="66.20" y="798.80" width="87.8" height="88.2"/></clipPath></defs>
<g clip-path="url(#pg01)"><g filter="url(#gblur2)">
<circle cx="97.04" cy="801.00" r="11.09" fill="none" stroke="#40e040" stroke-width="0.6" opacity="0.06"/>
<circle cx="108.05" cy="819.73" r="11.67" fill="none" stroke="#40e040" stroke-width="0.6" opacity="0.06"/>
<circle cx="129.53" cy="819.17" r="9.92" fill="none" stroke="#40e040" stroke-width="0.6" opacity="0.06"/>
<circle cx="78.87" cy="825.23" r="11.67" fill="none" stroke="#40e040" stroke-width="0.6" opacity="0.06"/>
<circle cx="113.56" cy="841.75" r="12.26" fill="none" stroke="#40e040" stroke-width="0.6" opacity="0.06"/>
<circle cx="133.93" cy="838.45" r="9.92" fill="none" stroke="#40e040" stroke-width="0.6" opacity="0.06"/>
<circle cx="93.73" cy="837.35" r="9.34" fill="none" stroke="#40e040" stroke-width="0.6" opacity="0.06"/>
<circle cx="73.91" cy="846.16" r="8.76" fill="none" stroke="#40e040" stroke-width="0.6" opacity="0.06"/>
<circle cx="91.53" cy="850.56" r="9.34" fill="none" stroke="#40e040" stroke-width="0.6" opacity="0.06"/>
<circle cx="110.25" cy="860.47" r="10.51" fill="none" stroke="#40e040" stroke-width="0.6" opacity="0.06"/>
<circle cx="127.32" cy="857.17" r="9.92" fill="none" stroke="#40e040" stroke-width="0.6" opacity="0.06"/>
<circle cx="76.66" cy="860.47" r="8.76" fill="none" stroke="#40e040" stroke-width="0.6" opacity="0.06"/>
<circle cx="92.63" cy="869.28" r="11.67" fill="none" stroke="#40e040" stroke-width="0.6" opacity="0.06"/>
<circle cx="137.79" cy="875.89" r="11.09" fill="none" stroke="#40e040" stroke-width="0.6" opacity="0.06"/>
<circle cx="99.24" cy="885.80" r="9.34" fill="none" stroke="#40e040" stroke-width="0.6" opacity="0.06"/>
<circle cx="70.61" cy="873.69" r="7.00" fill="none" stroke="#40e040" stroke-width="0.6" opacity="0.06"/>
<path d="M67.87,825.89 A11.01,11.01 0 0 1 72.37,816.34" stroke="#40e040" stroke-width="1.1" fill="none" opacity="0.95"/>
<circle cx="69.50" cy="820.83" r="1.3" fill="#40e040" opacity="0.95"/>
<path d="M88.76,830.07 A8.81,8.81 0 0 1 97.17,829.23" stroke="#40e040" stroke-width="1.1" fill="none" opacity="0.95"/>
<circle cx="92.63" cy="826.33" r="1.3" fill="#40e040" opacity="0.95"/>
<path d="M69.08,839.46 A8.26,8.26 0 0 1 76.94,838.47" stroke="#40e040" stroke-width="1.1" fill="none" opacity="0.95"/>
<circle cx="72.81" cy="837.35" r="1.3" fill="#40e040" opacity="0.95"/>
<path d="M89.12,844.85 A8.81,8.81 0 0 1 84.92,837.51" stroke="#40e040" stroke-width="1.1" fill="none" opacity="0.95"/>
<circle cx="86.02" cy="841.75" r="1.3" fill="#40e040" opacity="0.95"/>
<path d="M98.05,829.67 A8.81,8.81 0 0 1 102.53,836.83" stroke="#40e040" stroke-width="1.1" fill="none" opacity="0.95"/>
<circle cx="102.54" cy="831.84" r="1.3" fill="#40e040" opacity="0.95"/>
<path d="M118.92,821.49 A11.01,11.01 0 0 1 112.44,829.83" stroke="#40e040" stroke-width="1.1" fill="none" opacity="0.95"/>
<circle cx="117.96" cy="827.43" r="1.3" fill="#40e040" opacity="0.95"/>
<path d="M106.56,808.81 A11.01,11.01 0 0 1 116.43,812.57" stroke="#40e040" stroke-width="1.1" fill="none" opacity="0.95"/>
<circle cx="112.46" cy="808.16" r="1.3" fill="#40e040" opacity="0.95"/>
<path d="M132.68,827.99 A9.36,9.36 0 0 1 123.81,826.59" stroke="#40e040" stroke-width="1.1" fill="none" opacity="0.95"/>
<circle cx="127.87" cy="829.64" r="1.3" fill="#40e040" opacity="0.95"/>
<path d="M132.38,847.68 A9.36,9.36 0 0 1 125.33,842.13" stroke="#40e040" stroke-width="1.1" fill="none" opacity="0.95"/>
<circle cx="127.87" cy="846.16" r="1.3" fill="#40e040" opacity="0.95"/>
<path d="M130.32,848.30 A9.36,9.36 0 0 1 136.40,854.90" stroke="#40e040" stroke-width="1.1" fill="none" opacity="0.95"/>
<circle cx="134.48" cy="850.56" r="1.3" fill="#40e040" opacity="0.95"/>
<path d="M113.76,851.21 A9.91,9.91 0 0 1 119.95,858.42" stroke="#40e040" stroke-width="1.1" fill="none" opacity="0.95"/>
<circle cx="117.96" cy="853.87" r="1.3" fill="#40e040" opacity="0.95"/>
<path d="M100.79,863.43 A9.91,9.91 0 0 1 102.66,854.11" stroke="#40e040" stroke-width="1.1" fill="none" opacity="0.95"/>
<circle cx="99.24" cy="858.27" r="1.3" fill="#40e040" opacity="0.95"/>
<path d="M98.78,845.55 A8.81,8.81 0 0 1 99.66,853.95" stroke="#40e040" stroke-width="1.1" fill="none" opacity="0.95"/>
<circle cx="101.99" cy="849.46" r="1.3" fill="#40e040" opacity="0.95"/>
<path d="M68.41,860.05 A8.26,8.26 0 0 1 72.56,853.30" stroke="#40e040" stroke-width="1.1" fill="none" opacity="0.95"/>
<circle cx="69.50" cy="856.07" r="1.3" fill="#40e040" opacity="0.95"/>
<path d="M66.53,868.49 A6.61,6.61 0 0 1 72.78,867.45" stroke="#40e040" stroke-width="1.1" fill="none" opacity="0.95"/>
<circle cx="69.50" cy="867.08" r="1.3" fill="#40e040" opacity="0.95"/>
<path d="M134.73,862.90 A9.36,9.36 0 0 1 126.50,866.50" stroke="#40e040" stroke-width="1.1" fill="none" opacity="0.95"/>
<circle cx="131.18" cy="865.98" r="1.3" fill="#40e040" opacity="0.95"/>
<path d="M102.23,874.68 A11.01,11.01 0 0 1 93.28,880.28" stroke="#40e040" stroke-width="1.1" fill="none" opacity="0.95"/>
<circle cx="98.14" cy="878.10" r="1.3" fill="#40e040" opacity="0.95"/>
<path d="M76.71,814.43 A11.01,11.01 0 0 1 86.79,817.58" stroke="#40e040" stroke-width="1.1" fill="none" opacity="0.95"/>
<circle cx="81.62" cy="816.42" r="1.3" fill="#40e040" opacity="0.95"/>
<path d="M121.03,823.11 A9.36,9.36 0 0 1 121.63,814.15" stroke="#40e040" stroke-width="1.1" fill="none" opacity="0.95"/>
<circle cx="121.27" cy="818.62" r="1.3" fill="#40e040" opacity="0.95"/>
</g></g>
<rect x="135.00" y="882.00" width="16.5" height="1.8" fill="#e8e8e8"/>
<rect x="157.10" y="708.00" width="87.80" height="88.20" fill="#020202" />
<rect x="225.90" y="791.20" width="16.5" height="1.8" fill="#d8d8d8"/>
<defs><clipPath id="pm1"><rect x="157.10" y="798.80" width="87.8" height="88.2"/></clipPath></defs>
<rect x="157.10" y="798.80" width="87.80" height="88.20" fill="#525252" />
<g clip-path="url(#pm1)">
<g filter="url(#cblur)">
<circle cx="173.62" cy="800.45" r="7.00" fill="#4a4a4a" stroke="#8e8e8e" stroke-width="0.9"/>
<circle cx="187.94" cy="806.51" r="9.92" fill="#4a4a4a" stroke="#8e8e8e" stroke-width="0.9"/>
<circle cx="216.57" cy="812.02" r="9.92" fill="#4a4a4a" stroke="#8e8e8e" stroke-width="0.9"/>
<circle cx="198.95" cy="821.38" r="10.51" fill="#4a4a4a" stroke="#8e8e8e" stroke-width="0.9"/>
<circle cx="233.09" cy="821.93" r="10.51" fill="#4a4a4a" stroke="#8e8e8e" stroke-width="0.9"/>
<circle cx="167.56" cy="831.29" r="9.92" fill="#4a4a4a" stroke="#8e8e8e" stroke-width="0.9"/>
<circle cx="185.18" cy="831.84" r="9.34" fill="#4a4a4a" stroke="#8e8e8e" stroke-width="0.9"/>
<circle cx="215.47" cy="830.74" r="9.92" fill="#4a4a4a" stroke="#8e8e8e" stroke-width="0.9"/>
<circle cx="201.15" cy="842.85" r="10.51" fill="#4a4a4a" stroke="#8e8e8e" stroke-width="0.9"/>
<circle cx="237.50" cy="847.26" r="9.34" fill="#4a4a4a" stroke="#8e8e8e" stroke-width="0.9"/>
<circle cx="181.33" cy="850.01" r="9.34" fill="#4a4a4a" stroke="#8e8e8e" stroke-width="0.9"/>
<circle cx="198.95" cy="859.92" r="9.92" fill="#4a4a4a" stroke="#8e8e8e" stroke-width="0.9"/>
<circle cx="182.43" cy="869.28" r="9.92" fill="#4a4a4a" stroke="#8e8e8e" stroke-width="0.9"/>
<circle cx="222.08" cy="865.98" r="9.92" fill="#4a4a4a" stroke="#8e8e8e" stroke-width="0.9"/>
<circle cx="202.25" cy="876.99" r="10.51" fill="#4a4a4a" stroke="#8e8e8e" stroke-width="0.9"/>
<circle cx="239.15" cy="872.59" r="8.76" fill="#4a4a4a" stroke="#8e8e8e" stroke-width="0.9"/>
</g>
<rect x="157.10" y="798.80" width="87.8" height="88.2" filter="url(#noise)" opacity="0.12"/>
</g>
<defs><clipPath id="pg10"><rect x="157.10" y="708.00" width="87.8" height="88.2"/></clipPath></defs>
<g clip-path="url(#pg10)"><g filter="url(#gblur2)">
<circle cx="173.62" cy="709.65" r="7.00" fill="none" stroke="#30b830" stroke-width="0.6" opacity="0.13"/>
<circle cx="187.94" cy="715.71" r="9.92" fill="none" stroke="#30b830" stroke-width="0.6" opacity="0.13"/>
<circle cx="216.57" cy="721.22" r="9.92" fill="none" stroke="#30b830" stroke-width="0.6" opacity="0.13"/>
<circle cx="198.95" cy="730.58" r="10.51" fill="none" stroke="#30b830" stroke-width="0.6" opacity="0.13"/>
<circle cx="233.09" cy="731.13" r="10.51" fill="none" stroke="#30b830" stroke-width="0.6" opacity="0.13"/>
<circle cx="167.56" cy="740.49" r="9.92" fill="none" stroke="#30b830" stroke-width="0.6" opacity="0.13"/>
<circle cx="185.18" cy="741.04" r="9.34" fill="none" stroke="#30b830" stroke-width="0.6" opacity="0.13"/>
<circle cx="215.47" cy="739.94" r="9.92" fill="none" stroke="#30b830" stroke-width="0.6" opacity="0.13"/>
<circle cx="201.15" cy="752.05" r="10.51" fill="none" stroke="#30b830" stroke-width="0.6" opacity="0.13"/>
<circle cx="237.50" cy="756.46" r="9.34" fill="none" stroke="#30b830" stroke-width="0.6" opacity="0.13"/>
<circle cx="181.33" cy="759.21" r="9.34" fill="none" stroke="#30b830" stroke-width="0.6" opacity="0.13"/>
<circle cx="198.95" cy="769.12" r="9.92" fill="none" stroke="#30b830" stroke-width="0.6" opacity="0.13"/>
<circle cx="182.43" cy="778.48" r="9.92" fill="none" stroke="#30b830" stroke-width="0.6" opacity="0.13"/>
<circle cx="222.08" cy="775.18" r="9.92" fill="none" stroke="#30b830" stroke-width="0.6" opacity="0.13"/>
<circle cx="202.25" cy="786.19" r="10.51" fill="none" stroke="#30b830" stroke-width="0.6" opacity="0.13"/>
<circle cx="239.15" cy="781.79" r="8.76" fill="none" stroke="#30b830" stroke-width="0.6" opacity="0.13"/>
<path d="M179.57,747.83 A8.81,8.81 0 0 1 176.44,739.99" stroke="#30b830" stroke-width="1.0" fill="none" opacity="0.95"/>
<circle cx="176.92" cy="744.34" r="1.3" fill="#30b830" opacity="0.95"/>
<path d="M189.27,733.24 A8.81,8.81 0 0 1 193.96,740.27" stroke="#30b830" stroke-width="1.0" fill="none" opacity="0.95"/>
<circle cx="193.44" cy="735.53" r="1.3" fill="#30b830" opacity="0.95"/>
<path d="M202.77,739.73 A9.91,9.91 0 0 1 193.31,738.73" stroke="#30b830" stroke-width="1.0" fill="none" opacity="0.95"/>
<circle cx="197.85" cy="741.04" r="1.3" fill="#30b830" opacity="0.95"/>
<path d="M207.34,725.29 A9.91,9.91 0 0 1 207.93,734.78" stroke="#30b830" stroke-width="1.0" fill="none" opacity="0.95"/>
<circle cx="207.76" cy="730.03" r="1.3" fill="#30b830" opacity="0.95"/>
<path d="M224.39,735.88 A9.91,9.91 0 0 1 224.39,726.38" stroke="#30b830" stroke-width="1.0" fill="none" opacity="0.95"/>
<circle cx="223.18" cy="731.13" r="1.3" fill="#30b830" opacity="0.95"/>
<path d="M197.74,761.36 A9.91,9.91 0 0 1 191.48,754.20" stroke="#30b830" stroke-width="1.0" fill="none" opacity="0.95"/>
<circle cx="192.34" cy="759.76" r="1.3" fill="#30b830" opacity="0.95"/>
<path d="M181.67,769.15 A9.36,9.36 0 0 1 189.87,772.80" stroke="#30b830" stroke-width="1.0" fill="none" opacity="0.95"/>
<circle cx="186.84" cy="768.57" r="1.3" fill="#30b830" opacity="0.95"/>
<path d="M198.65,778.48 A9.36,9.36 0 0 1 190.92,773.93" stroke="#30b830" stroke-width="1.0" fill="none" opacity="0.95"/>
<circle cx="193.44" cy="778.48" r="1.3" fill="#30b830" opacity="0.95"/>
<path d="M205.04,776.68 A9.91,9.91 0 0 1 211.77,783.40" stroke="#30b830" stroke-width="1.0" fill="none" opacity="0.95"/>
<circle cx="209.96" cy="778.48" r="1.3" fill="#30b830" opacity="0.95"/>
<path d="M212.08,713.00 A9.36,9.36 0 0 1 221.06,713.00" stroke="#30b830" stroke-width="1.0" fill="none" opacity="0.95"/>
<circle cx="216.57" cy="711.30" r="1.3" fill="#30b830" opacity="0.95"/>
<path d="M195.85,739.99 A9.91,9.91 0 0 1 189.35,733.06" stroke="#30b830" stroke-width="1.0" fill="none" opacity="0.95"/>
<circle cx="190.14" cy="738.84" r="1.3" fill="#30b830" opacity="0.95"/>
</g></g>
<defs><clipPath id="pg11"><rect x="157.10" y="798.80" width="87.8" height="88.2"/></clipPath></defs>
<g clip-path="url(#pg11)"><g filter="url(#gblur2)">
<circle cx="173.62" cy="800.45" r="7.00" fill="none" stroke="#40e040" stroke-width="0.6" opacity="0.06"/>
<circle cx="187.94" cy="806.51" r="9.92" fill="none" stroke="#40e040" stroke-width="0.6" opacity="0.06"/>
<circle cx="216.57" cy="812.02" r="9.92" fill="none" stroke="#40e040" stroke-width="0.6" opacity="0.06"/>
<circle cx="198.95" cy="821.38" r="10.51" fill="none" stroke="#40e040" stroke-width="0.6" opacity="0.06"/>
<circle cx="233.09" cy="821.93" r="10.51" fill="none" stroke="#40e040" stroke-width="0.6" opacity="0.06"/>
<circle cx="167.56" cy="831.29" r="9.92" fill="none" stroke="#40e040" stroke-width="0.6" opacity="0.06"/>
<circle cx="185.18" cy="831.84" r="9.34" fill="none" stroke="#40e040" stroke-width="0.6" opacity="0.06"/>
<circle cx="215.47" cy="830.74" r="9.92" fill="none" stroke="#40e040" stroke-width="0.6" opacity="0.06"/>
<circle cx="201.15" cy="842.85" r="10.51" fill="none" stroke="#40e040" stroke-width="0.6" opacity="0.06"/>
<circle cx="237.50" cy="847.26" r="9.34" fill="none" stroke="#40e040" stroke-width="0.6" opacity="0.06"/>
<circle cx="181.33" cy="850.01" r="9.34" fill="none" stroke="#40e040" stroke-width="0.6" opacity="0.06"/>
<circle cx="198.95" cy="859.92" r="9.92" fill="none" stroke="#40e040" stroke-width="0.6" opacity="0.06"/>
<circle cx="182.43" cy="869.28" r="9.92" fill="none" stroke="#40e040" stroke-width="0.6" opacity="0.06"/>
<circle cx="222.08" cy="865.98" r="9.92" fill="none" stroke="#40e040" stroke-width="0.6" opacity="0.06"/>
<circle cx="202.25" cy="876.99" r="10.51" fill="none" stroke="#40e040" stroke-width="0.6" opacity="0.06"/>
<circle cx="239.15" cy="872.59" r="8.76" fill="none" stroke="#40e040" stroke-width="0.6" opacity="0.06"/>
<path d="M179.57,838.63 A8.81,8.81 0 0 1 176.44,830.79" stroke="#40e040" stroke-width="1.1" fill="none" opacity="0.95"/>
<circle cx="176.92" cy="835.14" r="1.3" fill="#40e040" opacity="0.95"/>
<path d="M189.27,824.04 A8.81,8.81 0 0 1 193.96,831.07" stroke="#40e040" stroke-width="1.1" fill="none" opacity="0.95"/>
<circle cx="193.44" cy="826.33" r="1.3" fill="#40e040" opacity="0.95"/>
<path d="M202.77,830.53 A9.91,9.91 0 0 1 193.31,829.53" stroke="#40e040" stroke-width="1.1" fill="none" opacity="0.95"/>
<circle cx="197.85" cy="831.84" r="1.3" fill="#40e040" opacity="0.95"/>
<path d="M207.34,816.09 A9.91,9.91 0 0 1 207.93,825.58" stroke="#40e040" stroke-width="1.1" fill="none" opacity="0.95"/>
<circle cx="207.76" cy="820.83" r="1.3" fill="#40e040" opacity="0.95"/>
<path d="M224.39,826.68 A9.91,9.91 0 0 1 224.39,817.18" stroke="#40e040" stroke-width="1.1" fill="none" opacity="0.95"/>
<circle cx="223.18" cy="821.93" r="1.3" fill="#40e040" opacity="0.95"/>
<path d="M197.74,852.16 A9.91,9.91 0 0 1 191.48,845.00" stroke="#40e040" stroke-width="1.1" fill="none" opacity="0.95"/>
<circle cx="192.34" cy="850.56" r="1.3" fill="#40e040" opacity="0.95"/>
<path d="M181.67,859.95 A9.36,9.36 0 0 1 189.87,863.60" stroke="#40e040" stroke-width="1.1" fill="none" opacity="0.95"/>
<circle cx="186.84" cy="859.37" r="1.3" fill="#40e040" opacity="0.95"/>
<path d="M198.65,869.28 A9.36,9.36 0 0 1 190.92,864.73" stroke="#40e040" stroke-width="1.1" fill="none" opacity="0.95"/>
<circle cx="193.44" cy="869.28" r="1.3" fill="#40e040" opacity="0.95"/>
<path d="M205.04,867.48 A9.91,9.91 0 0 1 211.77,874.20" stroke="#40e040" stroke-width="1.1" fill="none" opacity="0.95"/>
<circle cx="209.96" cy="869.28" r="1.3" fill="#40e040" opacity="0.95"/>
<path d="M212.08,803.80 A9.36,9.36 0 0 1 221.06,803.80" stroke="#40e040" stroke-width="1.1" fill="none" opacity="0.95"/>
<circle cx="216.57" cy="802.10" r="1.3" fill="#40e040" opacity="0.95"/>
<path d="M195.85,830.79 A9.91,9.91 0 0 1 189.35,823.86" stroke="#40e040" stroke-width="1.1" fill="none" opacity="0.95"/>
<circle cx="190.14" cy="829.64" r="1.3" fill="#40e040" opacity="0.95"/>
</g></g>
<rect x="225.90" y="882.00" width="16.5" height="1.8" fill="#e8e8e8"/>
<rect x="248.00" y="708.00" width="87.80" height="88.20" fill="#020202" />
<rect x="316.80" y="791.20" width="16.5" height="1.8" fill="#d8d8d8"/>
<defs><clipPath id="pm2"><rect x="248.00" y="798.80" width="87.8" height="88.2"/></clipPath></defs>
<rect x="248.00" y="798.80" width="87.80" height="88.20" fill="#575757" />
<g clip-path="url(#pm2)">
<g filter="url(#cblur)">
<circle cx="254.61" cy="815.32" r="10.51" fill="#505050" stroke="#9a9a9a" stroke-width="0.9"/>
<circle cx="270.03" cy="815.32" r="11.67" fill="#505050" stroke="#9a9a9a" stroke-width="0.9"/>
<circle cx="287.65" cy="821.93" r="9.34" fill="#505050" stroke="#9a9a9a" stroke-width="0.9"/>
<circle cx="304.17" cy="812.02" r="11.67" fill="#505050" stroke="#9a9a9a" stroke-width="0.9"/>
<circle cx="308.57" cy="830.74" r="9.34" fill="#505050" stroke="#9a9a9a" stroke-width="0.9"/>
<circle cx="325.09" cy="829.64" r="9.92" fill="#505050" stroke="#9a9a9a" stroke-width="0.9"/>
<circle cx="259.01" cy="835.14" r="11.09" fill="#505050" stroke="#9a9a9a" stroke-width="0.9"/>
<circle cx="279.94" cy="837.35" r="10.51" fill="#505050" stroke="#9a9a9a" stroke-width="0.9"/>
<circle cx="264.52" cy="851.66" r="10.51" fill="#505050" stroke="#9a9a9a" stroke-width="0.9"/>
<circle cx="293.15" cy="850.56" r="10.51" fill="#505050" stroke="#9a9a9a" stroke-width="0.9"/>
<circle cx="309.67" cy="847.26" r="9.92" fill="#505050" stroke="#9a9a9a" stroke-width="0.9"/>
<circle cx="327.30" cy="847.26" r="9.34" fill="#505050" stroke="#9a9a9a" stroke-width="0.9"/>
<circle cx="251.30" cy="854.97" r="9.34" fill="#505050" stroke="#9a9a9a" stroke-width="0.9"/>
<circle cx="277.74" cy="856.07" r="9.34" fill="#505050" stroke="#9a9a9a" stroke-width="0.9"/>
<circle cx="307.47" cy="862.68" r="8.17" fill="#505050" stroke="#9a9a9a" stroke-width="0.9"/>
<circle cx="290.95" cy="865.98" r="7.00" fill="#505050" stroke="#9a9a9a" stroke-width="0.9"/>
<circle cx="323.99" cy="867.08" r="9.92" fill="#505050" stroke="#9a9a9a" stroke-width="0.9"/>
<circle cx="274.43" cy="874.79" r="11.09" fill="#505050" stroke="#9a9a9a" stroke-width="0.9"/>
<circle cx="309.67" cy="879.20" r="10.51" fill="#505050" stroke="#9a9a9a" stroke-width="0.9"/>
<circle cx="284.34" cy="805.41" r="7.00" fill="#505050" stroke="#9a9a9a" stroke-width="0.9"/>
</g>
<rect x="248.00" y="798.80" width="87.8" height="88.2" filter="url(#noise)" opacity="0.12"/>
</g>
<rect x="316.80" y="882.00" width="16.5" height="1.8" fill="#e8e8e8"/>
<rect x="338.90" y="708.00" width="87.80" height="88.20" fill="#020202" />
<rect x="407.70" y="791.20" width="16.5" height="1.8" fill="#d8d8d8"/>
<defs><clipPath id="pm3"><rect x="338.90" y="798.80" width="87.8" height="88.2"/></clipPath></defs>
<rect x="338.90" y="798.80" width="87.80" height="88.20" fill="#575757" />
<g clip-path="url(#pm3)">
<g filter="url(#cblur)">
<circle cx="343.31" cy="809.81" r="10.51" fill="#505050" stroke="#9a9a9a" stroke-width="0.9"/>
<circle cx="358.72" cy="808.71" r="10.51" fill="#505050" stroke="#9a9a9a" stroke-width="0.9"/>
<circle cx="374.14" cy="805.41" r="9.34" fill="#505050" stroke="#9a9a9a" stroke-width="0.9"/>
<circle cx="396.17" cy="805.41" r="10.51" fill="#505050" stroke="#9a9a9a" stroke-width="0.9"/>
<circle cx="385.16" cy="817.52" r="10.51" fill="#505050" stroke="#9a9a9a" stroke-width="0.9"/>
<circle cx="401.68" cy="820.83" r="9.34" fill="#505050" stroke="#9a9a9a" stroke-width="0.9"/>
<circle cx="343.31" cy="830.74" r="9.34" fill="#505050" stroke="#9a9a9a" stroke-width="0.9"/>
<circle cx="360.93" cy="831.84" r="11.67" fill="#505050" stroke="#9a9a9a" stroke-width="0.9"/>
<circle cx="385.16" cy="832.94" r="10.51" fill="#505050" stroke="#9a9a9a" stroke-width="0.9"/>
<circle cx="411.59" cy="843.95" r="11.67" fill="#505050" stroke="#9a9a9a" stroke-width="0.9"/>
<circle cx="346.61" cy="851.66" r="10.51" fill="#505050" stroke="#9a9a9a" stroke-width="0.9"/>
<circle cx="367.53" cy="847.26" r="9.92" fill="#505050" stroke="#9a9a9a" stroke-width="0.9"/>
<circle cx="390.66" cy="850.56" r="10.51" fill="#505050" stroke="#9a9a9a" stroke-width="0.9"/>
<circle cx="356.52" cy="864.88" r="10.51" fill="#505050" stroke="#9a9a9a" stroke-width="0.9"/>
<circle cx="378.55" cy="867.08" r="10.51" fill="#505050" stroke="#9a9a9a" stroke-width="0.9"/>
<circle cx="344.41" cy="875.89" r="8.17" fill="#505050" stroke="#9a9a9a" stroke-width="0.9"/>
<circle cx="364.23" cy="880.30" r="9.34" fill="#505050" stroke="#9a9a9a" stroke-width="0.9"/>
<circle cx="398.37" cy="885.80" r="7.00" fill="#505050" stroke="#9a9a9a" stroke-width="0.9"/>
</g>
<rect x="338.90" y="798.80" width="87.8" height="88.2" filter="url(#noise)" opacity="0.12"/>
</g>
<rect x="407.70" y="882.00" width="16.5" height="1.8" fill="#e8e8e8"/>
<rect x="429.80" y="708.00" width="87.80" height="88.20" fill="#020202" />
<rect x="498.60" y="791.20" width="16.5" height="1.8" fill="#d8d8d8"/>
<defs><clipPath id="pm4"><rect x="429.80" y="798.80" width="87.8" height="88.2"/></clipPath></defs>
<rect x="429.80" y="798.80" width="87.80" height="88.20" fill="#565656" />
<g clip-path="url(#pm4)">
<g filter="url(#cblur)">
<path d="M445.84,805.41 C445.86,806.90 444.80,808.80 443.65,809.92 C442.50,811.04 440.63,811.62 438.95,812.11 C437.27,812.60 435.22,813.22 433.58,812.86 C431.95,812.50 430.05,811.18 429.13,809.94 C428.21,808.70 427.97,806.87 428.05,805.41 C428.12,803.94 428.67,802.43 429.58,801.15 C430.49,799.88 431.89,798.32 433.51,797.76 C435.13,797.20 437.63,797.27 439.29,797.80 C440.96,798.34 442.41,799.72 443.50,800.99 C444.59,802.26 445.81,803.92 445.84,805.41 Z" fill="#4c4c4c" stroke="#8c8c8c" stroke-width="1.0" stroke-dasharray="1.2 0.6"/>
<path d="M458.51,808.71 C458.66,810.40 458.11,812.72 456.95,814.07 C455.78,815.41 453.45,816.24 451.52,816.78 C449.58,817.31 447.09,817.84 445.34,817.29 C443.58,816.75 442.16,814.94 440.97,813.51 C439.78,812.08 438.23,810.33 438.20,808.71 C438.17,807.09 439.59,805.16 440.80,803.81 C442.02,802.45 443.72,801.14 445.51,800.60 C447.30,800.07 449.78,800.06 451.53,800.61 C453.29,801.16 454.88,802.58 456.04,803.93 C457.20,805.28 458.36,807.02 458.51,808.71 Z" fill="#4c4c4c" stroke="#8c8c8c" stroke-width="1.0" stroke-dasharray="1.2 0.6"/>
<path d="M476.23,805.41 C476.15,807.16 475.43,809.21 474.12,810.54 C472.81,811.87 470.50,812.75 468.37,813.37 C466.24,814.00 463.35,814.79 461.33,814.29 C459.32,813.79 457.54,811.84 456.28,810.36 C455.02,808.88 453.73,807.03 453.78,805.41 C453.82,803.79 455.25,801.94 456.57,800.62 C457.90,799.31 459.77,798.06 461.74,797.51 C463.72,796.95 466.30,796.87 468.43,797.29 C470.57,797.71 473.25,798.68 474.55,800.03 C475.85,801.39 476.30,803.66 476.23,805.41 Z" fill="#4c4c4c" stroke="#8c8c8c" stroke-width="1.0" stroke-dasharray="1.2 0.6"/>
<path d="M500.78,810.91 C500.90,813.48 500.57,816.84 499.13,818.88 C497.69,820.92 494.62,822.47 492.15,823.15 C489.67,823.83 486.64,823.75 484.26,822.96 C481.87,822.17 479.41,820.43 477.83,818.42 C476.26,816.42 474.66,813.33 474.78,810.91 C474.90,808.50 476.93,805.81 478.55,803.93 C480.18,802.05 482.22,800.59 484.51,799.64 C486.80,798.70 489.97,797.61 492.28,798.25 C494.60,798.89 497.00,801.36 498.42,803.47 C499.83,805.58 500.66,808.35 500.78,810.91 Z" fill="#4c4c4c" stroke="#8c8c8c" stroke-width="1.0" stroke-dasharray="1.2 0.6"/>
<path d="M451.20,832.46 C452.64,836.67 453.57,841.55 453.63,845.37 C453.68,849.19 452.97,853.27 451.53,855.40 C450.09,857.52 447.45,858.71 444.98,858.14 C442.51,857.57 439.26,854.96 436.74,851.97 C434.21,848.99 431.27,844.37 429.84,840.24 C428.41,836.12 428.18,831.21 428.15,827.22 C428.12,823.24 428.27,818.56 429.67,816.32 C431.07,814.08 433.99,813.16 436.54,813.79 C439.09,814.43 442.54,817.03 444.99,820.14 C447.43,823.25 449.76,828.26 451.20,832.46 Z" fill="#4c4c4c" stroke="#8c8c8c" stroke-width="1.0" stroke-dasharray="1.2 0.6"/>
<path d="M471.47,845.06 C471.58,847.10 471.62,849.90 470.49,851.41 C469.35,852.92 466.64,853.62 464.68,854.11 C462.72,854.61 460.58,854.88 458.71,854.38 C456.84,853.87 454.66,852.63 453.45,851.07 C452.25,849.52 451.38,846.98 451.49,845.06 C451.60,843.13 452.90,841.04 454.11,839.51 C455.32,837.98 456.94,836.64 458.76,835.87 C460.57,835.11 463.17,834.40 465.02,834.94 C466.88,835.49 468.79,837.47 469.87,839.15 C470.94,840.84 471.37,843.01 471.47,845.06 Z" fill="#4c4c4c" stroke="#8c8c8c" stroke-width="1.0" stroke-dasharray="1.2 0.6"/>
<path d="M496.91,845.06 C496.85,847.61 495.64,850.52 494.12,852.58 C492.60,854.64 490.13,856.76 487.78,857.43 C485.43,858.10 482.30,857.48 480.02,856.59 C477.74,855.70 475.67,854.00 474.10,852.07 C472.54,850.15 470.81,847.52 470.63,845.06 C470.45,842.59 471.46,839.10 473.05,837.27 C474.64,835.44 477.75,834.78 480.19,834.05 C482.63,833.33 485.33,832.38 487.71,832.92 C490.09,833.45 492.95,835.24 494.49,837.27 C496.02,839.29 496.97,842.50 496.91,845.06 Z" fill="#4c4c4c" stroke="#8c8c8c" stroke-width="1.0" stroke-dasharray="1.2 0.6"/>
<path d="M514.80,830.74 C514.85,833.37 513.91,836.56 512.51,838.75 C511.10,840.93 508.70,842.90 506.36,843.84 C504.01,844.79 500.85,845.20 498.45,844.42 C496.04,843.64 493.49,841.44 491.95,839.16 C490.41,836.88 489.09,833.46 489.20,830.74 C489.31,828.02 491.00,824.87 492.62,822.85 C494.24,820.84 496.61,819.58 498.91,818.64 C501.22,817.71 504.26,816.51 506.48,817.23 C508.69,817.96 510.80,820.74 512.19,822.99 C513.57,825.24 514.74,828.11 514.80,830.74 Z" fill="#4c4c4c" stroke="#8c8c8c" stroke-width="1.0" stroke-dasharray="1.2 0.6"/>
<path d="M516.26,852.76 C516.24,855.11 515.85,857.98 514.27,859.77 C512.68,861.55 509.41,862.86 506.74,863.48 C504.07,864.10 500.83,864.14 498.23,863.48 C495.63,862.82 492.81,861.30 491.13,859.52 C489.45,857.73 488.25,855.06 488.17,852.76 C488.08,850.47 488.95,847.50 490.63,845.72 C492.31,843.94 495.54,842.76 498.25,842.10 C500.96,841.43 504.19,841.10 506.88,841.71 C509.56,842.31 512.79,843.87 514.35,845.71 C515.92,847.55 516.27,850.42 516.26,852.76 Z" fill="#4c4c4c" stroke="#8c8c8c" stroke-width="1.0" stroke-dasharray="1.2 0.6"/>
<path d="M491.73,866.19 C492.45,868.64 493.77,871.65 492.52,874.02 C491.28,876.38 487.35,878.98 484.27,880.36 C481.19,881.75 477.41,882.19 474.06,882.34 C470.71,882.49 466.52,882.53 464.16,881.26 C461.80,879.99 460.55,877.10 459.91,874.71 C459.26,872.32 458.90,869.22 460.28,866.91 C461.67,864.60 465.22,862.32 468.19,860.83 C471.16,859.35 474.79,858.25 478.12,858.00 C481.45,857.75 485.91,857.94 488.18,859.30 C490.45,860.67 491.00,863.74 491.73,866.19 Z" fill="#4c4c4c" stroke="#8c8c8c" stroke-width="1.0" stroke-dasharray="1.2 0.6"/>
<path d="M513.62,872.59 C513.68,874.83 513.16,877.49 511.82,879.41 C510.47,881.33 507.89,883.54 505.54,884.10 C503.19,884.65 500.11,883.56 497.72,882.75 C495.33,881.94 492.72,880.94 491.20,879.25 C489.68,877.55 488.46,874.73 488.58,872.59 C488.70,870.45 490.42,868.12 491.94,866.41 C493.45,864.70 495.48,863.06 497.69,862.34 C499.89,861.62 502.88,861.46 505.18,862.07 C507.48,862.68 510.07,864.24 511.48,865.99 C512.89,867.74 513.56,870.35 513.62,872.59 Z" fill="#4c4c4c" stroke="#8c8c8c" stroke-width="1.0" stroke-dasharray="1.2 0.6"/>
<path d="M520.24,820.83 C520.22,822.26 519.17,823.88 518.36,825.07 C517.56,826.25 516.58,827.43 515.43,827.96 C514.29,828.49 512.65,828.70 511.49,828.25 C510.33,827.79 509.24,826.46 508.45,825.23 C507.66,823.99 506.71,822.26 506.75,820.83 C506.79,819.39 507.89,817.82 508.69,816.63 C509.49,815.45 510.47,814.12 511.58,813.72 C512.68,813.31 514.15,813.72 515.30,814.18 C516.45,814.65 517.65,815.38 518.47,816.49 C519.30,817.60 520.26,819.40 520.24,820.83 Z" fill="#4c4c4c" stroke="#8c8c8c" stroke-width="1.0" stroke-dasharray="1.2 0.6"/>
</g>
<rect x="429.80" y="798.80" width="87.8" height="88.2" filter="url(#noise)" opacity="0.12"/>
</g>
<rect x="498.60" y="882.00" width="16.5" height="1.8" fill="#e8e8e8"/>
<rect x="520.70" y="708.00" width="87.80" height="88.20" fill="#020202" />
<rect x="589.50" y="791.20" width="16.5" height="1.8" fill="#d8d8d8"/>
<defs><clipPath id="pm5"><rect x="520.70" y="798.80" width="87.8" height="88.2"/></clipPath></defs>
<rect x="520.70" y="798.80" width="87.80" height="88.20" fill="#565656" />
<g clip-path="url(#pm5)">
<g filter="url(#cblur)">
<path d="M568.66,808.71 C568.61,810.93 567.60,813.71 566.05,815.28 C564.50,816.85 561.66,817.55 559.37,818.14 C557.07,818.74 554.34,819.44 552.26,818.85 C550.19,818.25 548.36,816.27 546.91,814.58 C545.46,812.89 543.55,810.68 543.54,808.71 C543.53,806.75 545.35,804.38 546.84,802.80 C548.33,801.21 550.38,799.87 552.49,799.21 C554.60,798.56 557.20,798.44 559.51,798.89 C561.81,799.35 564.79,800.33 566.32,801.97 C567.84,803.60 568.70,806.49 568.66,808.71 Z" fill="#4c4c4c" stroke="#8c8c8c" stroke-width="1.0" stroke-dasharray="1.2 0.6"/>
<path d="M609.78,814.22 C609.83,816.82 608.22,820.15 606.76,822.18 C605.30,824.22 603.09,825.66 601.04,826.42 C598.99,827.18 596.64,827.31 594.47,826.72 C592.30,826.14 589.45,824.98 588.02,822.90 C586.59,820.81 585.75,816.99 585.89,814.22 C586.03,811.45 587.40,808.33 588.83,806.26 C590.27,804.19 592.43,802.62 594.49,801.81 C596.56,801.00 599.21,800.61 601.20,801.40 C603.19,802.19 604.99,804.42 606.42,806.56 C607.85,808.69 609.72,811.61 609.78,814.22 Z" fill="#4c4c4c" stroke="#8c8c8c" stroke-width="1.0" stroke-dasharray="1.2 0.6"/>
<path d="M541.27,829.64 C541.39,831.70 540.68,834.31 539.48,836.08 C538.27,837.84 536.11,839.54 534.06,840.23 C532.00,840.92 529.08,841.02 527.17,840.22 C525.27,839.42 523.88,837.19 522.64,835.43 C521.40,833.66 519.86,831.66 519.73,829.64 C519.61,827.62 520.61,824.92 521.90,823.31 C523.19,821.70 525.47,820.62 527.47,819.98 C529.48,819.34 532.04,818.83 533.92,819.46 C535.80,820.08 537.54,822.02 538.76,823.71 C539.99,825.41 541.15,827.58 541.27,829.64 Z" fill="#4c4c4c" stroke="#8c8c8c" stroke-width="1.0" stroke-dasharray="1.2 0.6"/>
<path d="M559.74,828.54 C559.58,831.03 558.28,833.49 557.09,835.58 C555.90,837.67 554.40,840.27 552.59,841.07 C550.79,841.87 548.05,841.34 546.25,840.39 C544.45,839.44 542.95,837.37 541.79,835.39 C540.62,833.42 539.42,830.95 539.28,828.54 C539.13,826.12 539.72,822.75 540.91,820.89 C542.11,819.03 544.50,818.13 546.43,817.37 C548.36,816.61 550.57,815.79 552.51,816.33 C554.45,816.87 556.87,818.57 558.07,820.60 C559.28,822.64 559.90,826.04 559.74,828.54 Z" fill="#4c4c4c" stroke="#8c8c8c" stroke-width="1.0" stroke-dasharray="1.2 0.6"/>
<path d="M545.31,849.46 C545.28,851.69 544.34,854.33 543.00,856.06 C541.66,857.79 539.35,859.25 537.29,859.84 C535.22,860.42 532.68,860.23 530.63,859.59 C528.57,858.95 526.25,857.67 524.94,855.98 C523.63,854.29 522.73,851.61 522.76,849.46 C522.78,847.31 523.85,844.90 525.11,843.07 C526.38,841.23 528.30,839.15 530.34,838.46 C532.38,837.77 535.20,838.21 537.34,838.92 C539.49,839.63 541.89,840.95 543.21,842.71 C544.54,844.46 545.35,847.24 545.31,849.46 Z" fill="#4c4c4c" stroke="#8c8c8c" stroke-width="1.0" stroke-dasharray="1.2 0.6"/>
<path d="M584.80,845.27 C583.94,848.45 582.43,851.96 580.71,854.39 C578.98,856.82 576.41,859.36 574.43,859.84 C572.46,860.32 570.41,858.80 568.88,857.28 C567.35,855.75 565.69,853.54 565.26,850.72 C564.84,847.89 565.39,843.51 566.34,840.33 C567.29,837.15 569.18,833.86 570.96,831.63 C572.74,829.40 574.96,827.71 577.01,826.96 C579.06,826.21 581.80,825.74 583.27,827.13 C584.74,828.53 585.56,832.31 585.81,835.33 C586.07,838.36 585.65,842.10 584.80,845.27 Z" fill="#4c4c4c" stroke="#8c8c8c" stroke-width="1.0" stroke-dasharray="1.2 0.6"/>
<path d="M561.30,849.46 C561.35,851.46 561.04,853.88 559.96,855.58 C558.89,857.29 556.82,859.00 554.86,859.68 C552.90,860.36 550.04,860.46 548.22,859.67 C546.40,858.89 544.94,856.69 543.93,854.99 C542.92,853.29 542.19,851.32 542.17,849.46 C542.16,847.61 542.78,845.43 543.83,843.86 C544.88,842.29 546.70,840.58 548.47,840.02 C550.24,839.47 552.57,839.95 554.43,840.54 C556.30,841.13 558.52,842.07 559.66,843.56 C560.80,845.04 561.25,847.46 561.30,849.46 Z" fill="#4c4c4c" stroke="#8c8c8c" stroke-width="1.0" stroke-dasharray="1.2 0.6"/>
<path d="M559.15,864.88 C559.06,867.15 558.56,869.71 557.31,871.47 C556.06,873.23 553.78,874.69 551.67,875.45 C549.55,876.20 546.75,876.64 544.62,876.01 C542.48,875.38 540.14,873.54 538.86,871.69 C537.58,869.83 536.92,867.14 536.93,864.88 C536.94,862.61 537.63,860.00 538.90,858.09 C540.16,856.19 542.40,854.08 544.53,853.47 C546.65,852.86 549.40,853.72 551.62,854.45 C553.85,855.18 556.63,856.13 557.88,857.87 C559.14,859.61 559.25,862.61 559.15,864.88 Z" fill="#4c4c4c" stroke="#8c8c8c" stroke-width="1.0" stroke-dasharray="1.2 0.6"/>
<path d="M582.10,870.39 C582.10,872.93 581.13,875.89 579.66,878.02 C578.20,880.15 575.73,882.42 573.31,883.18 C570.90,883.94 567.46,883.58 565.19,882.58 C562.93,881.59 561.07,879.26 559.74,877.23 C558.40,875.20 557.27,872.73 557.18,870.39 C557.09,868.04 557.82,865.07 559.19,863.14 C560.56,861.22 563.10,859.66 565.41,858.86 C567.73,858.06 570.69,857.71 573.07,858.35 C575.44,859.00 578.17,860.74 579.67,862.75 C581.18,864.75 582.10,867.84 582.10,870.39 Z" fill="#4c4c4c" stroke="#8c8c8c" stroke-width="1.0" stroke-dasharray="1.2 0.6"/>
<path d="M601.32,869.28 C601.28,871.85 600.85,874.87 599.45,876.89 C598.05,878.91 595.32,880.65 592.92,881.40 C590.52,882.15 587.34,882.24 585.04,881.41 C582.74,880.59 580.54,878.47 579.13,876.44 C577.71,874.42 576.70,871.77 576.56,869.28 C576.42,866.80 576.82,863.35 578.29,861.52 C579.77,859.68 582.98,859.00 585.41,858.29 C587.84,857.58 590.52,856.70 592.90,857.23 C595.28,857.77 598.29,859.50 599.69,861.51 C601.09,863.51 601.36,866.72 601.32,869.28 Z" fill="#4c4c4c" stroke="#8c8c8c" stroke-width="1.0" stroke-dasharray="1.2 0.6"/>
<path d="M541.76,876.99 C541.80,879.27 541.44,882.15 540.17,883.94 C538.89,885.72 536.24,887.19 534.10,887.72 C531.96,888.25 529.37,887.84 527.32,887.12 C525.28,886.39 523.15,885.06 521.83,883.38 C520.51,881.69 519.45,879.15 519.40,876.99 C519.36,874.83 520.31,872.34 521.55,870.41 C522.80,868.49 524.76,866.17 526.86,865.45 C528.96,864.72 531.99,865.26 534.16,866.06 C536.34,866.86 538.63,868.43 539.89,870.25 C541.16,872.07 541.71,874.71 541.76,876.99 Z" fill="#4c4c4c" stroke="#8c8c8c" stroke-width="1.0" stroke-dasharray="1.2 0.6"/>
<path d="M607.47,882.50 C607.44,883.77 607.04,885.23 606.19,886.25 C605.35,887.28 603.79,888.33 602.39,888.64 C600.99,888.96 599.28,888.49 597.81,888.12 C596.34,887.74 594.53,887.33 593.57,886.39 C592.61,885.45 592.04,883.78 592.07,882.50 C592.10,881.22 592.80,879.74 593.72,878.70 C594.64,877.67 596.16,876.61 597.58,876.30 C598.99,875.99 600.73,876.46 602.20,876.85 C603.67,877.24 605.51,877.69 606.39,878.63 C607.27,879.57 607.50,881.23 607.47,882.50 Z" fill="#4c4c4c" stroke="#8c8c8c" stroke-width="1.0" stroke-dasharray="1.2 0.6"/>
</g>
<rect x="520.70" y="798.80" width="87.8" height="88.2" filter="url(#noise)" opacity="0.12"/>
</g>
<rect x="589.50" y="882.00" width="16.5" height="1.8" fill="#e8e8e8"/>
<rect x="611.60" y="708.00" width="87.80" height="88.20" fill="#020202" />
<rect x="680.40" y="791.20" width="16.5" height="1.8" fill="#d8d8d8"/>
<defs><clipPath id="pm6"><rect x="611.60" y="798.80" width="87.8" height="88.2"/></clipPath></defs>
<rect x="611.60" y="798.80" width="87.80" height="88.20" fill="#484848" />
<g clip-path="url(#pm6)">
<g filter="url(#cblur)">
<path d="M638.03,798.80 C641.89,795.13 659.69,796.41 664.46,798.80 C669.24,801.19 666.85,808.53 666.67,813.12 C666.48,817.71 666.48,823.40 663.36,826.33 C660.24,829.27 651.61,831.66 647.94,830.74 C644.27,829.82 642.99,826.15 641.34,820.83 C639.68,815.50 634.18,802.47 638.03,798.80 Z" fill="#434343" stroke="#646464" stroke-width="0.9"/>
<path d="M668.87,801.00 C671.81,798.98 686.77,797.15 690.90,798.80 C695.03,800.45 695.12,808.53 693.65,810.91 C692.18,813.30 685.48,813.12 682.08,813.12 C678.69,813.12 675.48,812.93 673.27,810.91 C671.07,808.90 665.93,803.02 668.87,801.00 Z" fill="#494949" stroke="#383838" stroke-width="1.2"/>
<path d="M658.96,830.74 C661.16,828.72 668.69,828.35 673.27,828.54 C677.86,828.72 684.84,829.09 686.49,831.84 C688.14,834.59 684.65,841.75 683.19,845.06 C681.72,848.36 680.80,850.75 677.68,851.66 C674.56,852.58 667.40,852.40 664.46,850.56 C661.53,848.73 660.98,843.95 660.06,840.65 C659.14,837.35 656.75,832.76 658.96,830.74 Z" fill="#404040" stroke="#737373" stroke-width="1.0"/>
<path d="M611.60,840.65 C614.35,834.59 622.61,839.37 628.12,839.55 C633.63,839.73 642.62,839.73 644.64,841.75 C646.66,843.77 642.07,848.54 640.23,851.66 C638.40,854.78 636.93,857.54 633.63,860.47 C630.32,863.41 624.08,866.71 620.41,869.28 C616.74,871.85 613.07,880.66 611.60,875.89 C610.13,871.12 608.85,846.71 611.60,840.65 Z" fill="#3f3f3f" stroke="#575757" stroke-width="0.9"/>
<path d="M658.96,852.76 C661.53,849.64 666.48,850.93 673.27,850.56 C680.07,850.20 695.30,844.50 699.71,850.56 C704.11,856.62 706.13,880.85 699.71,886.91 C693.28,892.96 668.13,889.84 661.16,886.91 C654.18,883.97 658.22,874.97 657.86,869.28 C657.49,863.59 656.39,855.89 658.96,852.76 Z" fill="#424242" stroke="#575757" stroke-width="0.9"/>
<path d="M611.60,814.22 C613.25,810.36 619.49,814.22 621.51,816.42 C623.53,818.62 623.90,823.76 623.71,827.43 C623.53,831.11 622.43,836.43 620.41,838.45 C618.39,840.47 613.07,843.59 611.60,839.55 C610.13,835.51 609.95,818.07 611.60,814.22 Z" fill="#434343" stroke="#575757" stroke-width="0.9"/>
<path d="M628.12,803.21 Q632.53,816.42 624.82,831.84 T622.61,841.75" stroke="#6a6a6a" stroke-width="1" fill="none"/>
<path d="M631.42,886.91 Q632.53,862.68 644.64,862.68 T654.55,886.91" stroke="#6a6a6a" stroke-width="1" fill="none"/>
</g>
<rect x="611.60" y="798.80" width="87.8" height="88.2" filter="url(#noise)" opacity="0.12"/>
</g>
<rect x="680.40" y="882.00" width="16.5" height="1.8" fill="#e8e8e8"/>
<rect x="702.50" y="708.00" width="87.80" height="88.20" fill="#020202" />
<rect x="771.30" y="791.20" width="16.5" height="1.8" fill="#d8d8d8"/>
<defs><clipPath id="pm7"><rect x="702.50" y="798.80" width="87.8" height="88.2"/></clipPath></defs>
<rect x="702.50" y="798.80" width="87.80" height="88.20" fill="#484848" />
<g clip-path="url(#pm7)">
<g filter="url(#cblur)">
<path d="M759.77,798.80 C765.09,796.96 785.47,795.31 790.61,798.80 C795.75,802.29 792.81,815.69 790.61,819.73 C788.40,823.76 781.80,823.03 777.39,823.03 C772.98,823.03 767.29,821.93 764.17,819.73 C761.05,817.52 759.40,813.30 758.67,809.81 C757.93,806.33 754.45,800.64 759.77,798.80 Z" fill="#3f3f3f" stroke="#575757" stroke-width="0.9"/>
<path d="M725.63,831.84 C727.83,828.90 734.81,826.70 738.84,826.33 C742.88,825.97 745.64,829.82 749.86,829.64 C754.08,829.45 761.79,823.03 764.17,825.23 C766.56,827.43 765.28,838.45 764.17,842.85 C763.07,847.26 762.34,850.38 757.57,851.66 C752.79,852.95 740.86,851.85 735.54,850.56 C730.22,849.28 727.28,847.07 725.63,843.95 C723.98,840.83 723.43,834.78 725.63,831.84 Z" fill="#404040" stroke="#737373" stroke-width="1.0"/>
<path d="M702.50,835.14 C704.70,831.29 711.86,834.23 715.72,835.14 C719.57,836.06 724.16,838.08 725.63,840.65 C727.10,843.22 726.55,847.81 724.53,850.56 C722.51,853.32 717.18,855.89 713.51,857.17 C709.84,858.45 704.34,861.94 702.50,858.27 C700.66,854.60 700.30,839.00 702.50,835.14 Z" fill="#404040" stroke="#636363" stroke-width="0.9"/>
<path d="M714.61,807.61 C717.00,805.22 726.55,805.04 730.03,806.51 C733.52,807.98 734.81,812.38 735.54,816.42 C736.27,820.46 736.64,828.17 734.44,830.74 C732.24,833.31 725.44,833.49 722.32,831.84 C719.20,830.19 717.00,824.86 715.72,820.83 C714.43,816.79 712.23,810.00 714.61,807.61 Z" fill="#454545" stroke="#636363" stroke-width="0.9"/>
<path d="M766.38,853.87 C768.40,850.75 775.55,850.93 779.59,851.66 C783.63,852.40 788.77,853.13 790.61,858.27 C792.44,863.41 792.81,878.83 790.61,882.50 C788.40,886.17 781.24,882.32 777.39,880.30 C773.54,878.28 769.31,874.79 767.48,870.39 C765.64,865.98 764.36,856.99 766.38,853.87 Z" fill="#434343" stroke="#636363" stroke-width="0.9"/>
<path d="M734.44,870.39 C737.74,866.90 748.39,864.70 750.96,865.98 C753.53,867.27 750.96,874.61 749.86,878.10 C748.76,881.58 747.47,885.44 744.35,886.91 C741.23,888.37 732.79,889.66 731.13,886.91 C729.48,884.15 731.13,873.87 734.44,870.39 Z" fill="#454545" stroke="#636363" stroke-width="0.9"/>
<path d="M786.20,819.73 C774.09,831.84 761.97,853.87 755.36,886.91" stroke="#6e6e6e" stroke-width="1.3" fill="none"/>
<path d="M779.59,821.93 C768.58,835.14 757.57,856.07 750.96,886.91" stroke="#6e6e6e" stroke-width="1.3" fill="none"/>
<path d="M702.50,860.47 Q730.03,851.66 753.16,857.17" stroke="#6a6a6a" stroke-width="1" fill="none"/>
</g>
<rect x="702.50" y="798.80" width="87.8" height="88.2" filter="url(#noise)" opacity="0.12"/>
</g>
<rect x="771.30" y="882.00" width="16.5" height="1.8" fill="#e8e8e8"/>
<line x1="112.80" y1="894.80" x2="382.50" y2="894.80" stroke="#000" stroke-width="1.8" />
<line x1="476.00" y1="894.80" x2="561.00" y2="894.80" stroke="#000" stroke-width="1.8" />
<line x1="659.30" y1="894.80" x2="743.90" y2="894.80" stroke="#000" stroke-width="1.8" />
<text x="236.30" y="912.60" font-size="15.4" font-weight="bold" text-anchor="middle" fill="#000" >MCF-7</text>
<text x="518.50" y="912.60" font-size="15.4" font-weight="bold" text-anchor="middle" fill="#000" >MCF-10A</text>
<text x="702.00" y="912.60" font-size="15.4" font-weight="bold" text-anchor="middle" fill="#000" >HEK293T</text>
</svg></body></html>
